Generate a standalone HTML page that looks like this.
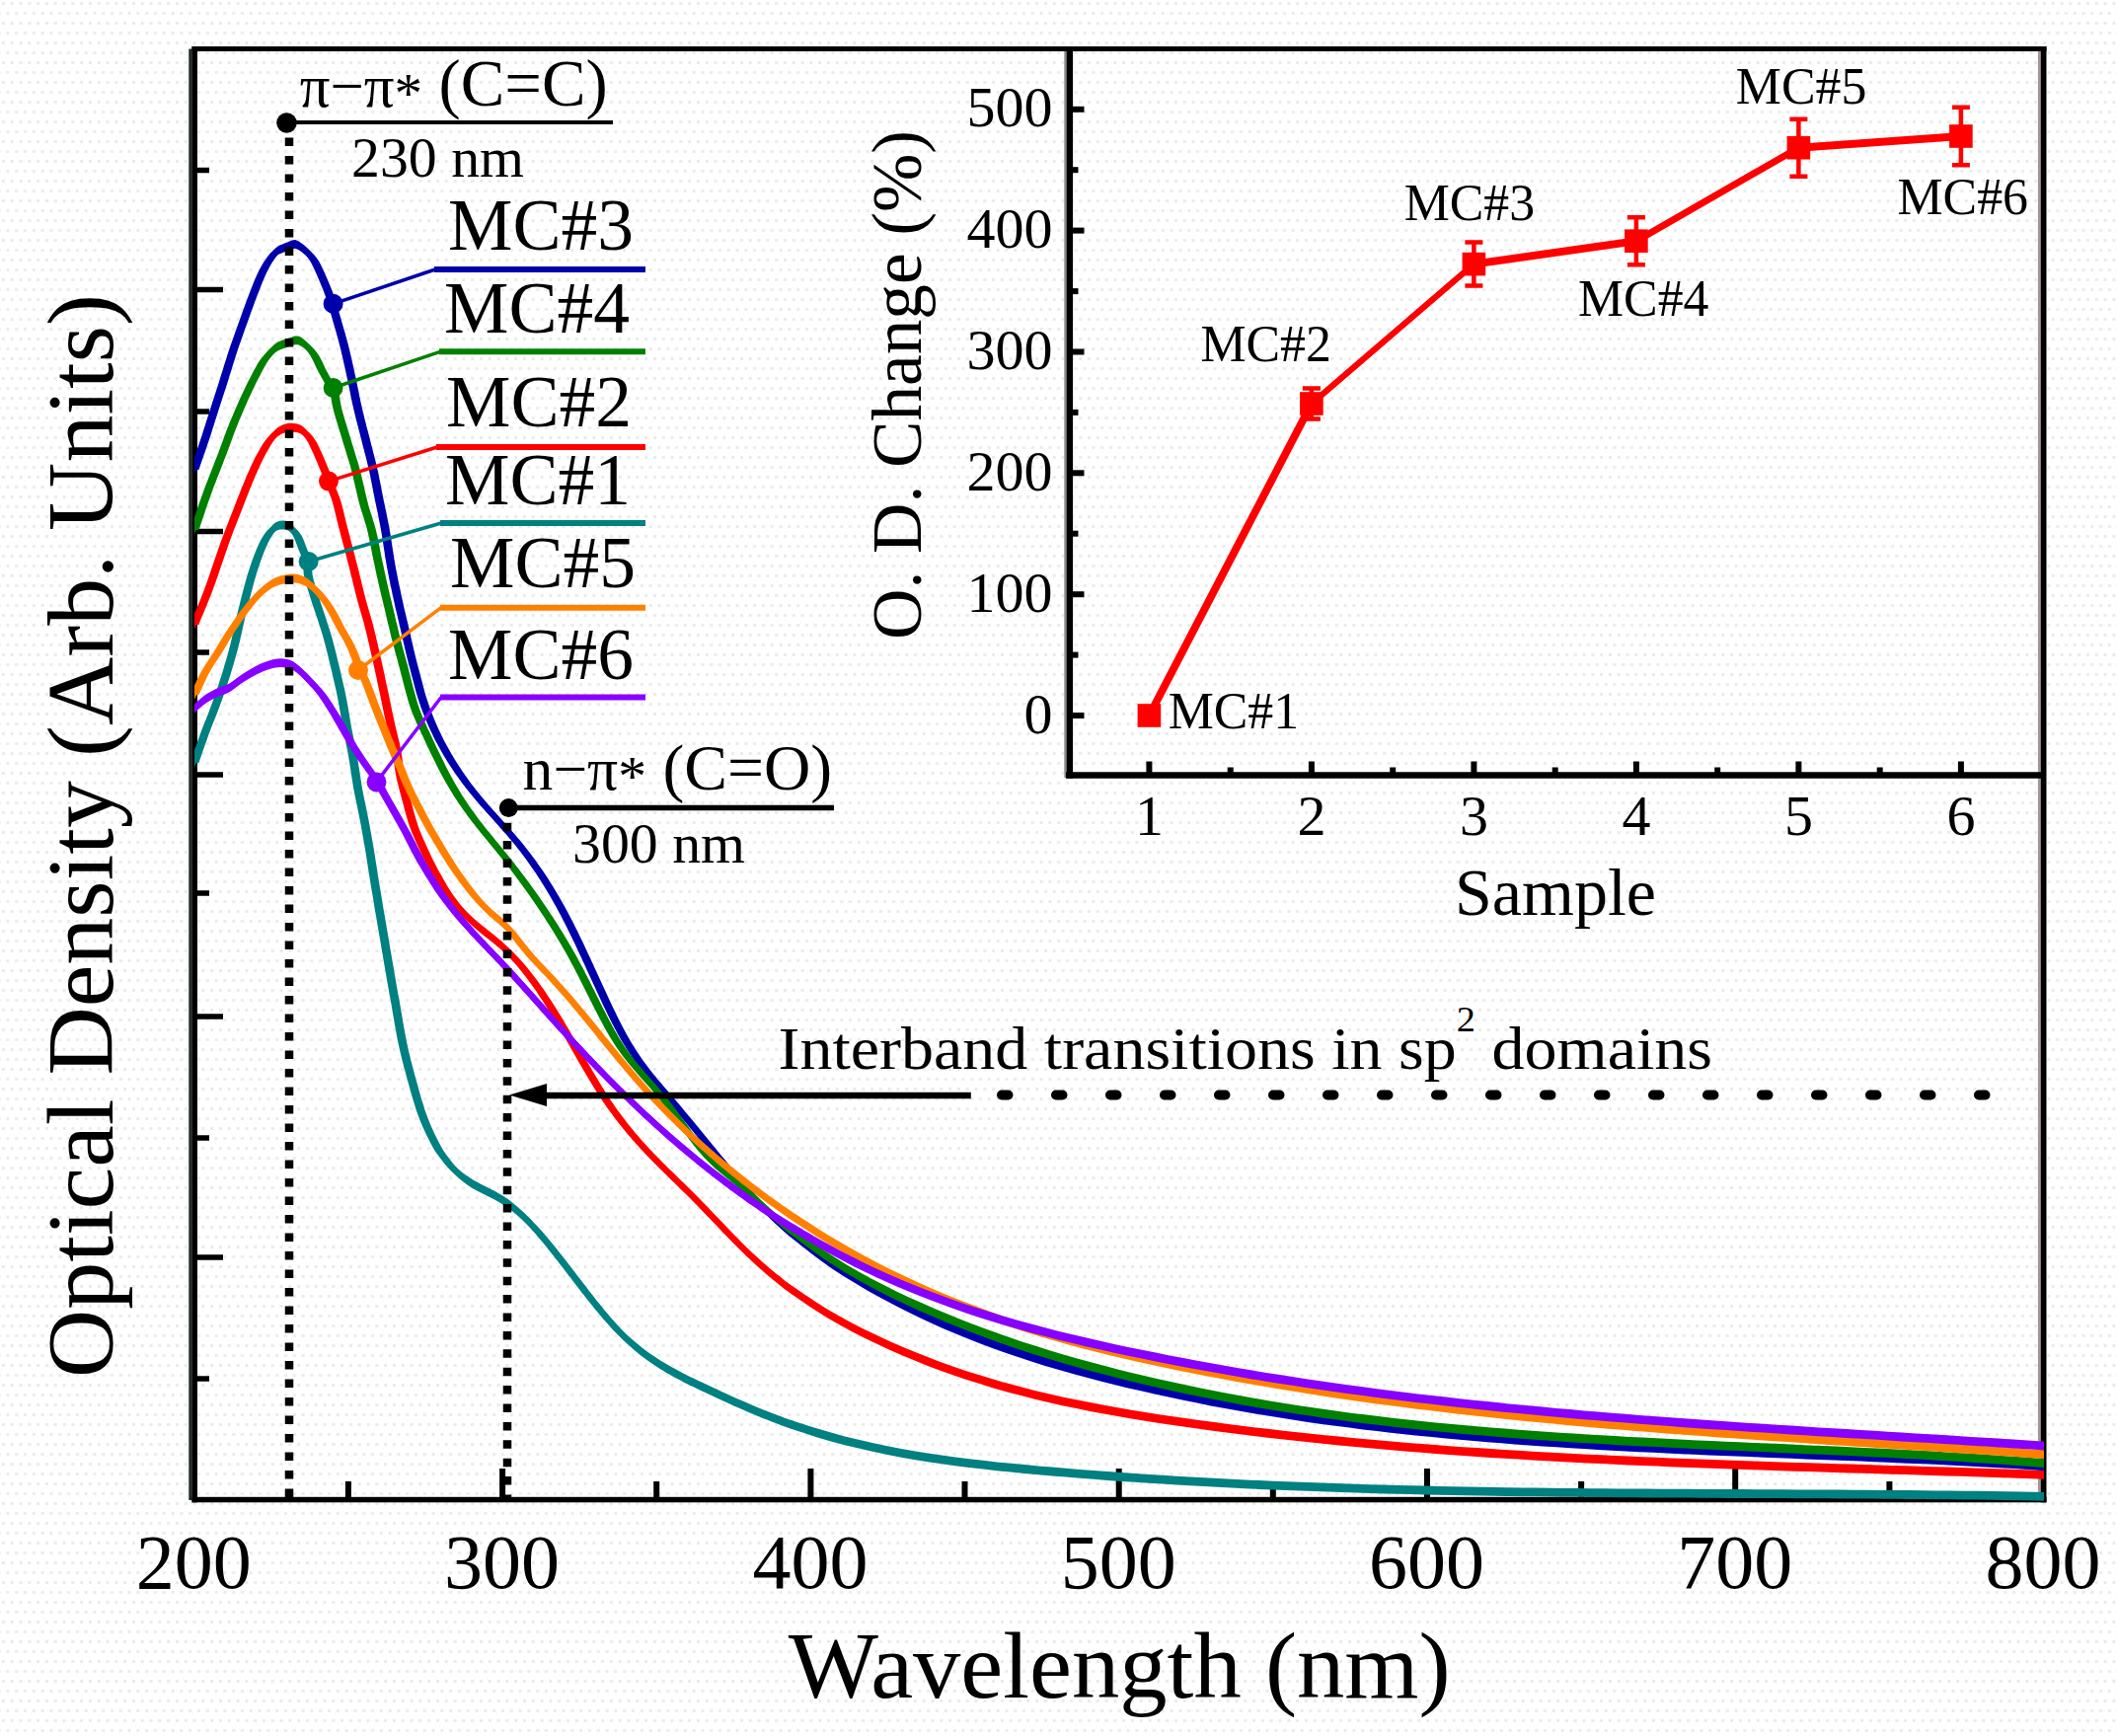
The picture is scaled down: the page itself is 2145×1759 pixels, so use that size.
<!DOCTYPE html>
<html lang="en"><head><meta charset="utf-8"><title>Optical density spectra</title>
<style>html,body{margin:0;padding:0;background:#ffffff}svg{display:block}text{font-family:"Liberation Serif","DejaVu Serif",serif;fill:#000}</style></head><body>
<svg width="2145" height="1759" viewBox="0 0 2145 1759">
<defs><pattern id="ht" width="17.6" height="20" patternUnits="userSpaceOnUse"><rect x="2" y="2" width="3" height="3" fill="#ebebeb"/><rect x="10.8" y="2" width="3" height="3" fill="#ebebeb"/><rect x="6.4" y="12" width="3" height="3" fill="#ebebeb"/><rect x="15.2" y="12" width="2.4" height="3" fill="#ebebeb"/><rect x="0" y="12" width="0.6" height="3" fill="#ebebeb"/></pattern></defs>
<rect x="0" y="0" width="2145" height="1759" fill="#ffffff"/>
<rect x="0" y="0" width="2145" height="1759" fill="url(#ht)"/>
<g stroke="#000" fill="none" stroke-linecap="butt">
<rect x="191.3" y="49.5" width="3.4" height="1470.5" fill="#222a24" stroke="none"/>
<rect x="194.5" y="47" width="5.5" height="1475.3" fill="#000" stroke="none"/>
<rect x="194.5" y="47" width="1879" height="5" fill="#000" stroke="none"/>
<rect x="194.5" y="1516.8" width="1879" height="5.5" fill="#000" stroke="none"/>
<rect x="2064.9" y="52" width="3" height="1465" fill="#a0969c" stroke="none"/>
<rect x="2067.8" y="47" width="5.7" height="1475.3" fill="#000" stroke="none"/>
<line x1="196.5" y1="293.5" x2="226.0" y2="293.5" stroke-width="5.5"/>
<line x1="196.5" y1="538.5" x2="226.0" y2="538.5" stroke-width="5.5"/>
<line x1="196.5" y1="785.0" x2="226.0" y2="785.0" stroke-width="5.5"/>
<line x1="196.5" y1="1030.0" x2="226.0" y2="1030.0" stroke-width="5.5"/>
<line x1="196.5" y1="1274.0" x2="226.0" y2="1274.0" stroke-width="5.5"/>
<line x1="196.5" y1="172.5" x2="212.0" y2="172.5" stroke-width="5.5"/>
<line x1="196.5" y1="417.0" x2="212.0" y2="417.0" stroke-width="5.5"/>
<line x1="196.5" y1="661.0" x2="212.0" y2="661.0" stroke-width="5.5"/>
<line x1="196.5" y1="905.0" x2="212.0" y2="905.0" stroke-width="5.5"/>
<line x1="196.5" y1="1153.0" x2="212.0" y2="1153.0" stroke-width="5.5"/>
<line x1="196.5" y1="1397.0" x2="212.0" y2="1397.0" stroke-width="5.5"/>
<line x1="509.1" y1="1519.0" x2="509.1" y2="1488.0" stroke-width="6"/>
<line x1="821.4" y1="1519.0" x2="821.4" y2="1488.0" stroke-width="6"/>
<line x1="1133.7" y1="1519.0" x2="1133.7" y2="1488.0" stroke-width="6"/>
<line x1="1446.0" y1="1519.0" x2="1446.0" y2="1488.0" stroke-width="6"/>
<line x1="1758.2" y1="1519.0" x2="1758.2" y2="1488.0" stroke-width="6"/>
<line x1="352.9" y1="1519.0" x2="352.9" y2="1501.0" stroke-width="6"/>
<line x1="665.2" y1="1519.0" x2="665.2" y2="1501.0" stroke-width="6"/>
<line x1="977.5" y1="1519.0" x2="977.5" y2="1501.0" stroke-width="6"/>
<line x1="1289.8" y1="1519.0" x2="1289.8" y2="1501.0" stroke-width="6"/>
<line x1="1602.1" y1="1519.0" x2="1602.1" y2="1501.0" stroke-width="6"/>
<line x1="1914.4" y1="1519.0" x2="1914.4" y2="1501.0" stroke-width="6"/>
</g>
<g stroke="#000" fill="none">
<rect x="1078.3" y="52" width="2.6" height="736" fill="#8c8c8c" stroke="none"/>
<line x1="1083.9" y1="49.5" x2="1083.9" y2="788.7" stroke-width="6.4"/>
<line x1="1080.0" y1="785.5" x2="2070.0" y2="785.5" stroke-width="6.5"/>
<line x1="1083.5" y1="725.0" x2="1098.5" y2="725.0" stroke-width="6"/>
<line x1="1083.5" y1="602.2" x2="1098.5" y2="602.2" stroke-width="6"/>
<line x1="1083.5" y1="479.3" x2="1098.5" y2="479.3" stroke-width="6"/>
<line x1="1083.5" y1="356.5" x2="1098.5" y2="356.5" stroke-width="6"/>
<line x1="1083.5" y1="233.6" x2="1098.5" y2="233.6" stroke-width="6"/>
<line x1="1083.5" y1="110.8" x2="1098.5" y2="110.8" stroke-width="6"/>
<line x1="1083.5" y1="663.6" x2="1092.5" y2="663.6" stroke-width="6"/>
<line x1="1083.5" y1="540.7" x2="1092.5" y2="540.7" stroke-width="6"/>
<line x1="1083.5" y1="417.9" x2="1092.5" y2="417.9" stroke-width="6"/>
<line x1="1083.5" y1="295.1" x2="1092.5" y2="295.1" stroke-width="6"/>
<line x1="1083.5" y1="172.2" x2="1092.5" y2="172.2" stroke-width="6"/>
<line x1="1164.4" y1="785.5" x2="1164.4" y2="771.5" stroke-width="6"/>
<line x1="1328.9" y1="785.5" x2="1328.9" y2="771.5" stroke-width="6"/>
<line x1="1493.4" y1="785.5" x2="1493.4" y2="771.5" stroke-width="6"/>
<line x1="1657.9" y1="785.5" x2="1657.9" y2="771.5" stroke-width="6"/>
<line x1="1822.4" y1="785.5" x2="1822.4" y2="771.5" stroke-width="6"/>
<line x1="1986.9" y1="785.5" x2="1986.9" y2="771.5" stroke-width="6"/>
<line x1="1246.7" y1="785.5" x2="1246.7" y2="777.5" stroke-width="6"/>
<line x1="1411.2" y1="785.5" x2="1411.2" y2="777.5" stroke-width="6"/>
<line x1="1575.7" y1="785.5" x2="1575.7" y2="777.5" stroke-width="6"/>
<line x1="1740.2" y1="785.5" x2="1740.2" y2="777.5" stroke-width="6"/>
<line x1="1904.7" y1="785.5" x2="1904.7" y2="777.5" stroke-width="6"/>
</g>
<clipPath id="cc"><rect x="197" y="52" width="1874" height="1470.3"/></clipPath>
<g clip-path="url(#cc)">
<path fill="#008080" d="M197.0 768.6 198.3 764.9 199.1 762.6 200.1 759.6 201.3 756.2 202.6 752.4 204.0 748.5 205.4 744.6 206.7 740.8 208.0 737.3 209.2 734.1 210.4 731.0 211.6 727.9 212.9 724.9 214.1 721.8 215.3 718.8 216.5 715.6 217.7 712.4 218.9 709.1 220.1 705.8 221.3 702.5 222.5 699.1 223.7 695.6 224.9 692.1 226.1 688.4 227.3 684.7 228.3 681.6 229.3 678.5 230.2 675.3 231.2 672.0 232.2 668.7 233.2 665.3 234.2 661.9 235.1 658.5 236.1 655.1 237.0 651.6 237.8 648.4 238.6 645.2 239.3 642.0 240.1 638.8 240.8 635.5 241.5 632.2 242.2 628.9 243.0 625.6 243.7 622.2 244.5 618.9 245.3 615.6 246.1 612.2 247.0 608.8 247.8 605.3 248.7 601.9 249.6 598.4 250.5 594.9 251.4 591.5 252.3 588.1 253.2 584.9 254.1 581.7 255.0 578.7 256.2 574.7 257.5 570.9 258.7 567.1 259.9 563.5 261.2 560.1 262.4 556.9 263.6 553.9 264.7 551.1 266.5 547.1 268.2 543.7 269.8 540.8 271.5 538.2 273.0 535.9 275.4 532.8 277.7 530.6 279.9 529.0 283.4 527.8 286.8 527.6 289.5 527.7 292.3 529.0 294.9 530.9 297.8 533.7 300.6 537.3 302.1 540.2 303.6 543.6 305.0 547.3 306.3 550.8 307.5 553.9 309.2 557.9 310.7 561.2 311.7 564.9 312.0 568.0 311.9 571.2 311.9 574.7 312.3 578.7 313.0 581.7 313.8 584.9 314.8 588.3 315.9 591.9 317.1 595.6 318.3 599.5 319.3 602.6 320.3 605.8 321.5 609.3 322.6 612.7 323.8 616.2 324.9 619.5 326.0 622.7 326.9 625.6 328.2 629.5 329.3 632.8 330.2 635.9 331.3 639.3 332.4 643.3 333.2 646.3 334.0 649.4 334.9 652.8 335.8 656.3 336.7 659.9 337.5 663.6 338.4 667.2 339.3 670.9 340.1 674.1 340.9 677.4 341.6 680.8 342.4 684.1 343.2 687.5 344.0 691.0 344.8 694.4 345.5 697.8 346.2 701.3 346.9 704.8 347.5 708.4 348.2 711.9 348.8 715.6 349.4 719.2 350.0 722.8 350.6 726.3 351.2 729.7 351.8 733.1 352.5 736.7 353.2 740.2 353.9 743.5 354.6 746.8 355.2 750.1 355.9 753.5 356.6 757.0 357.3 760.8 357.8 764.0 358.4 767.4 358.9 770.9 359.5 774.4 360.0 778.1 360.6 781.7 361.1 785.2 361.7 788.7 362.2 792.1 362.8 795.3 363.5 799.1 364.2 802.6 364.9 806.1 365.6 809.4 366.3 812.7 367.0 816.0 367.7 819.5 368.4 823.0 369.0 826.2 369.6 829.3 370.2 832.3 370.7 835.4 371.3 838.6 371.9 841.9 372.5 845.5 373.2 849.3 373.9 853.4 374.4 856.2 374.8 858.9 375.3 861.6 375.7 864.4 376.1 867.3 376.6 870.2 377.1 873.3 377.6 876.5 378.1 879.9 378.7 883.5 379.3 887.4 380.0 891.5 380.7 895.9 381.5 900.6 382.0 903.3 382.5 906.3 383.0 909.5 383.5 912.8 384.1 916.3 384.7 919.9 385.4 923.6 386.0 927.4 386.7 931.3 387.3 935.2 388.0 939.2 388.7 943.2 389.4 947.2 390.1 951.2 390.7 955.2 391.4 959.1 392.1 962.9 392.7 966.6 393.3 970.2 393.9 973.7 394.5 977.0 395.0 980.1 395.5 983.1 396.0 985.8 396.4 988.3 396.8 990.6 398.1 997.9 398.8 1002.0 399.2 1004.2 399.5 1005.7 399.9 1007.7 400.6 1011.6 401.1 1014.3 401.6 1017.3 402.1 1020.5 402.7 1023.9 403.3 1027.4 403.9 1031.1 404.5 1034.7 405.2 1038.4 405.9 1042.1 406.5 1045.7 407.2 1049.2 407.9 1052.5 408.7 1056.0 409.4 1059.4 410.2 1062.8 411.0 1066.2 411.8 1069.5 412.7 1072.8 413.5 1076.1 414.4 1079.4 415.3 1082.7 416.2 1086.0 417.1 1089.3 418.0 1092.7 419.0 1096.1 419.9 1099.6 420.9 1103.1 421.9 1106.5 422.9 1110.0 424.0 1113.4 425.0 1116.7 426.0 1120.0 427.1 1123.2 428.2 1126.2 429.6 1129.8 431.0 1133.4 432.5 1136.8 434.0 1140.2 435.5 1143.5 437.0 1146.5 438.5 1149.5 439.8 1152.2 441.1 1154.6 443.1 1158.4 445.0 1161.5 446.7 1164.0 448.4 1166.3 450.1 1168.7 452.4 1171.7 454.6 1174.5 456.9 1177.1 459.1 1179.5 462.1 1182.5 465.1 1185.2 468.1 1187.7 471.1 1190.0 474.1 1192.1 477.1 1194.1 480.1 1195.9 483.1 1197.6 486.1 1199.2 489.1 1200.8 492.1 1202.3 495.1 1203.8 498.1 1205.3 501.1 1206.8 504.1 1208.5 507.1 1210.2 510.1 1212.0 513.1 1214.0 516.1 1216.1 519.1 1218.4 522.1 1220.9 525.1 1223.4 528.1 1226.2 531.1 1229.0 533.4 1231.2 535.6 1233.5 537.9 1235.8 540.1 1238.2 542.4 1240.7 544.6 1243.2 546.9 1245.7 549.1 1248.3 551.4 1251.0 553.6 1253.7 555.9 1256.4 558.1 1259.2 560.4 1262.0 562.6 1264.8 564.9 1267.6 567.1 1270.5 569.4 1273.4 571.6 1276.3 573.9 1279.2 576.1 1282.1 578.4 1285.1 580.6 1288.0 582.9 1290.9 585.1 1293.9 587.4 1296.8 589.6 1299.7 591.9 1302.6 594.1 1305.5 596.4 1308.4 598.6 1311.3 600.9 1314.1 603.1 1316.9 605.4 1319.7 607.6 1322.5 609.9 1325.2 612.1 1327.9 614.4 1330.5 616.6 1333.1 618.9 1335.7 621.1 1338.1 623.4 1340.6 625.6 1343.0 627.9 1345.3 630.1 1347.6 632.4 1349.8 634.6 1351.9 636.9 1354.0 639.1 1356.0 642.1 1358.6 645.1 1361.1 648.1 1363.6 651.1 1365.9 654.1 1368.2 657.1 1370.4 660.1 1372.5 663.1 1374.5 666.1 1376.5 669.1 1378.4 672.1 1380.3 675.1 1382.1 678.1 1383.8 681.1 1385.5 684.1 1387.1 687.1 1388.8 690.1 1390.3 693.1 1391.9 696.1 1393.4 699.1 1394.9 702.1 1396.3 705.1 1397.8 708.1 1399.2 711.1 1400.6 714.1 1402.0 717.1 1403.4 720.1 1404.8 723.1 1406.2 726.1 1407.6 729.1 1409.0 732.1 1410.4 735.1 1411.8 738.1 1413.2 741.1 1414.5 744.1 1415.9 747.1 1417.2 750.1 1418.5 753.1 1419.8 756.1 1421.1 759.1 1422.4 762.1 1423.7 765.1 1425.0 768.1 1426.2 771.1 1427.4 774.1 1428.7 777.1 1429.8 780.1 1431.0 783.1 1432.2 786.1 1433.3 789.2 1434.5 792.1 1435.6 794.4 1436.5 800.0 1438.4 802.2 1439.1 804.7 1439.9 807.6 1440.9 810.7 1441.9 814.1 1443.0 817.6 1444.2 828.3 1447.6 842.0 1451.6 856.0 1455.4 870.0 1458.8 884.0 1462.0 898.0 1465.0 912.0 1467.7 926.0 1470.2 940.0 1472.4 954.0 1474.5 968.0 1476.4 982.0 1478.2 996.0 1479.8 1010.0 1481.4 1024.0 1482.8 1038.0 1484.1 1052.0 1485.4 1066.0 1486.6 1080.0 1487.8 1094.0 1488.9 1108.0 1490.0 1122.0 1491.1 1136.0 1492.1 1150.0 1493.0 1164.0 1494.0 1178.0 1494.8 1192.0 1495.7 1206.0 1496.5 1220.0 1497.3 1234.0 1498.0 1248.0 1498.7 1262.0 1499.4 1276.0 1500.1 1290.0 1500.7 1304.0 1501.3 1318.0 1501.8 1332.0 1502.3 1346.0 1502.8 1360.0 1503.3 1374.0 1503.8 1388.0 1504.2 1402.0 1504.6 1416.0 1504.9 1430.0 1505.3 1444.0 1505.6 1458.0 1505.9 1472.0 1506.2 1486.0 1506.5 1500.0 1506.7 1514.0 1507.0 1528.0 1507.2 1542.0 1507.4 1556.0 1507.5 1570.0 1507.7 1584.0 1507.9 1598.0 1508.0 1612.0 1508.2 1626.0 1508.3 1640.0 1508.4 1654.0 1508.5 1668.0 1508.6 1682.0 1508.7 1696.0 1508.8 1710.0 1508.8 1724.0 1508.9 1738.0 1509.0 1752.0 1509.1 1766.0 1509.1 1780.0 1509.2 1794.0 1509.2 1808.0 1509.3 1822.0 1509.4 1836.0 1509.5 1850.0 1509.5 1864.0 1509.6 1878.0 1509.7 1892.0 1509.8 1906.0 1509.9 1920.0 1510.0 1934.0 1510.1 1948.0 1510.2 1962.0 1510.4 1976.0 1510.5 1990.0 1510.7 2004.0 1510.8 2018.0 1511.0 2032.4 1511.2 2047.7 1511.5 2060.0 1511.7 2071.0 1511.9 2071.0 1520.7 2060.0 1520.5 2047.7 1520.3 2032.4 1520.0 2018.0 1519.8 2004.0 1519.6 1990.0 1519.5 1976.0 1519.3 1962.0 1519.2 1948.0 1519.0 1934.0 1518.9 1920.0 1518.8 1906.0 1518.7 1892.0 1518.6 1878.0 1518.5 1864.0 1518.4 1850.0 1518.3 1836.0 1518.3 1822.0 1518.2 1808.0 1518.1 1794.0 1518.0 1780.0 1518.0 1766.0 1517.9 1752.0 1517.9 1738.0 1517.8 1724.0 1517.7 1710.0 1517.6 1696.0 1517.6 1682.0 1517.5 1668.0 1517.4 1654.0 1517.3 1640.0 1517.2 1626.0 1517.1 1612.0 1517.0 1598.0 1516.8 1584.0 1516.7 1570.0 1516.5 1556.0 1516.3 1542.0 1516.2 1528.0 1516.0 1514.0 1515.8 1500.0 1515.5 1486.0 1515.3 1472.0 1515.0 1458.0 1514.7 1444.0 1514.4 1430.0 1514.1 1416.0 1513.7 1402.0 1513.4 1388.0 1513.0 1374.0 1512.6 1360.0 1512.1 1346.0 1511.6 1332.0 1511.1 1318.0 1510.6 1304.0 1510.1 1290.0 1509.5 1276.0 1508.9 1262.0 1508.2 1248.0 1507.5 1234.0 1506.8 1220.0 1506.1 1206.0 1505.3 1192.0 1504.5 1178.0 1503.6 1164.0 1502.8 1150.0 1501.8 1136.0 1500.9 1122.0 1499.9 1108.0 1498.8 1094.0 1497.7 1080.0 1496.6 1066.0 1495.4 1052.0 1494.2 1038.0 1492.9 1024.0 1491.6 1010.0 1490.2 996.0 1488.6 982.0 1487.0 968.0 1485.2 954.0 1483.3 940.0 1481.2 926.0 1479.0 912.0 1476.5 898.0 1473.8 884.0 1470.8 870.0 1467.6 856.0 1464.2 842.0 1460.4 828.3 1456.4 817.6 1453.0 814.1 1451.8 810.7 1450.7 807.6 1449.7 804.7 1448.7 802.2 1447.9 800.0 1447.2 794.4 1445.3 792.1 1444.4 789.2 1443.3 786.1 1442.1 783.1 1441.0 780.1 1439.8 777.1 1438.6 774.1 1437.5 771.1 1436.2 768.1 1435.0 765.1 1433.8 762.1 1432.5 759.1 1431.2 756.1 1429.9 753.1 1428.6 750.1 1427.3 747.1 1426.0 744.1 1424.7 741.1 1423.3 738.1 1422.0 735.1 1420.6 732.1 1419.2 729.1 1417.8 726.1 1416.4 723.1 1415.0 720.1 1413.6 717.1 1412.2 714.1 1410.8 711.1 1409.4 708.1 1408.0 705.1 1406.6 702.1 1405.1 699.1 1403.7 696.1 1402.2 693.1 1400.7 690.1 1399.1 687.1 1397.6 684.1 1395.9 681.1 1394.3 678.1 1392.6 675.1 1390.9 672.1 1389.1 669.1 1387.2 666.1 1385.3 663.1 1383.3 660.1 1381.3 657.1 1379.2 654.1 1377.0 651.1 1374.7 648.1 1372.4 645.1 1369.9 642.1 1367.4 639.1 1364.8 636.9 1362.8 634.6 1360.7 632.4 1358.6 630.1 1356.4 627.9 1354.1 625.6 1351.8 623.4 1349.4 621.1 1346.9 618.9 1344.5 616.6 1341.9 614.4 1339.3 612.1 1336.7 609.9 1334.0 607.6 1331.3 605.4 1328.5 603.1 1325.7 600.9 1322.9 598.6 1320.1 596.4 1317.2 594.1 1314.3 591.9 1311.4 589.6 1308.5 587.4 1305.6 585.1 1302.7 582.9 1299.7 580.6 1296.8 578.4 1293.9 576.1 1290.9 573.9 1288.0 571.6 1285.1 569.4 1282.2 567.1 1279.3 564.9 1276.4 562.6 1273.6 560.4 1270.8 558.1 1268.0 555.9 1265.2 553.6 1262.5 551.4 1259.8 549.1 1257.1 546.9 1254.5 544.6 1252.0 542.4 1249.5 540.1 1247.0 537.9 1244.6 535.6 1242.3 533.4 1240.0 531.1 1237.8 528.1 1235.0 525.1 1232.2 522.1 1229.7 519.1 1227.2 516.1 1224.9 513.1 1222.8 510.1 1220.8 507.1 1219.0 504.1 1217.3 501.1 1215.6 498.1 1214.1 495.1 1212.6 492.1 1211.1 489.1 1209.6 486.1 1208.0 483.1 1206.4 480.1 1204.7 477.1 1202.9 474.1 1200.9 471.1 1198.8 468.1 1196.5 465.1 1194.0 462.1 1191.3 459.1 1188.3 456.9 1185.9 454.6 1183.3 452.4 1180.5 450.1 1177.5 448.4 1175.1 446.7 1172.8 445.0 1170.3 443.1 1167.2 441.1 1163.4 439.8 1161.0 438.5 1158.3 437.0 1155.3 435.5 1152.3 434.0 1149.0 432.5 1145.6 431.0 1142.2 429.6 1138.6 428.2 1135.0 427.1 1132.0 426.0 1128.8 425.0 1125.5 424.0 1122.2 422.9 1118.8 421.9 1115.3 420.9 1111.9 419.9 1108.4 419.0 1104.9 418.0 1101.5 417.1 1098.1 416.2 1094.8 415.3 1091.5 414.4 1088.2 413.5 1084.9 412.7 1081.6 411.8 1078.3 411.0 1075.0 410.2 1071.6 409.4 1068.2 408.7 1064.8 407.9 1061.3 407.2 1058.0 406.5 1054.5 405.9 1050.9 405.2 1047.2 404.5 1043.5 403.9 1039.9 403.3 1036.2 402.7 1032.7 402.1 1029.3 401.6 1026.1 401.1 1023.1 400.6 1020.4 399.9 1016.5 399.5 1014.5 399.2 1013.0 398.8 1010.8 398.1 1006.7 396.8 999.4 396.4 997.1 396.0 994.6 395.5 991.9 395.0 988.9 394.5 985.8 393.9 982.5 393.3 979.0 392.7 975.4 392.1 971.7 391.4 967.9 390.7 964.0 390.1 960.0 389.4 956.0 388.7 952.0 388.0 948.0 387.3 944.0 386.7 940.1 386.0 936.2 385.4 932.4 384.7 928.7 384.1 925.1 383.5 921.6 383.0 918.3 382.5 915.1 382.0 912.1 381.5 909.4 380.7 904.7 380.0 900.3 379.3 896.2 378.7 892.3 378.1 888.7 377.6 885.3 377.1 882.1 376.6 879.0 376.1 876.1 375.7 873.2 375.3 870.4 374.8 867.7 374.4 865.0 373.9 862.2 373.2 858.1 372.5 854.3 371.9 850.7 371.3 847.4 370.7 844.2 370.2 841.1 369.6 838.1 369.0 835.0 368.4 831.8 367.7 828.3 367.0 824.8 366.3 821.5 365.6 818.2 364.9 814.9 364.2 811.4 363.5 807.9 362.8 804.1 362.2 800.9 361.7 797.5 361.1 794.0 360.6 790.5 360.0 786.9 359.5 783.2 358.9 779.7 358.4 776.2 357.8 772.8 357.3 769.6 356.6 765.8 355.9 762.3 355.2 758.9 354.6 755.6 353.9 752.3 353.2 749.0 352.5 745.5 351.8 741.9 351.2 738.5 350.6 735.1 350.0 731.6 349.4 728.0 348.8 724.4 348.2 720.7 347.5 717.2 346.9 713.6 346.2 710.1 345.5 706.6 344.8 703.2 344.0 699.8 343.2 696.3 342.4 692.9 341.6 689.6 340.9 686.2 340.1 682.9 339.3 679.7 338.4 676.0 337.5 672.4 336.7 668.7 335.8 665.1 334.9 661.6 334.0 658.2 333.2 655.1 332.4 652.1 331.3 648.1 330.2 644.7 329.3 641.6 328.2 638.3 326.9 634.4 326.0 631.5 324.9 628.3 323.8 625.0 322.6 621.5 321.5 618.1 320.3 614.6 319.3 611.4 318.3 608.3 317.1 604.4 315.9 600.7 314.8 597.1 313.8 593.7 313.0 590.5 312.3 587.5 311.9 583.5 311.9 580.0 312.0 576.8 311.7 573.7 310.7 570.0 309.2 566.7 307.5 562.7 306.3 559.6 305.0 556.1 303.6 552.4 302.1 549.0 300.6 546.1 297.8 542.5 294.9 539.7 292.3 537.8 289.5 536.5 286.8 536.4 283.4 536.6 279.9 537.8 277.7 539.4 275.4 541.6 273.0 544.7 271.5 547.0 269.8 549.6 268.2 552.5 266.5 555.9 264.7 559.9 263.6 562.7 262.4 565.7 261.2 568.9 259.9 572.3 258.7 575.9 257.5 579.7 256.2 583.5 255.0 587.5 254.1 590.5 253.2 593.7 252.3 596.9 251.4 600.3 250.5 603.7 249.6 607.2 248.7 610.7 247.8 614.1 247.0 617.6 246.1 621.0 245.3 624.4 244.5 627.7 243.7 631.0 243.0 634.4 242.2 637.7 241.5 641.0 240.8 644.3 240.1 647.6 239.3 650.8 238.6 654.0 237.8 657.2 237.0 660.4 236.1 663.9 235.1 667.3 234.2 670.7 233.2 674.1 232.2 677.5 231.2 680.8 230.2 684.1 229.3 687.3 228.3 690.4 227.3 693.5 226.1 697.2 224.9 700.9 223.7 704.4 222.5 707.9 221.3 711.3 220.1 714.6 218.9 717.9 217.7 721.2 216.5 724.4 215.3 727.6 214.1 730.6 212.9 733.7 211.6 736.7 210.4 739.8 209.2 742.9 208.0 746.1 206.7 749.6 205.4 753.4 204.0 757.3 202.6 761.2 201.3 765.0 200.1 768.4 199.1 771.4 198.3 773.7 197.0 777.4Z"/>
<path fill="#008080" d="M192.6 773.0 193.9 769.3 194.7 767.0 195.7 764.0 196.9 760.6 198.2 756.8 199.6 752.9 201.0 749.0 202.3 745.2 203.6 741.7 204.8 738.5 206.0 735.4 207.2 732.3 208.5 729.3 209.7 726.2 210.9 723.2 212.1 720.0 213.3 716.8 214.5 713.5 215.7 710.2 216.9 706.9 218.1 703.5 219.3 700.0 220.5 696.5 221.7 692.8 222.9 689.1 223.9 686.0 224.9 682.9 225.8 679.7 226.8 676.4 227.8 673.1 228.8 669.7 229.8 666.3 230.7 662.9 231.7 659.5 232.6 656.0 233.4 652.8 234.2 649.6 234.9 646.4 235.7 643.2 236.4 639.9 237.1 636.6 237.8 633.3 238.6 630.0 239.3 626.6 240.1 623.3 240.9 620.0 241.7 616.6 242.6 613.2 243.4 609.7 244.3 606.3 245.2 602.8 246.1 599.3 247.0 595.9 247.9 592.5 248.8 589.3 249.7 586.1 250.6 583.1 251.8 579.1 253.1 575.3 254.3 571.5 255.5 567.9 256.8 564.5 258.0 561.3 259.2 558.3 260.3 555.5 262.1 551.5 263.8 548.1 265.4 545.2 267.1 542.6 268.6 540.3 271.0 537.2 273.3 535.0 275.5 533.4 279.0 532.2 282.4 532.0 291.2 532.0 287.8 532.2 284.3 533.4 282.1 535.0 279.8 537.2 277.4 540.3 275.9 542.6 274.2 545.2 272.6 548.1 270.9 551.5 269.1 555.5 268.0 558.3 266.8 561.3 265.6 564.5 264.3 567.9 263.1 571.5 261.9 575.3 260.6 579.1 259.4 583.1 258.5 586.1 257.6 589.3 256.7 592.5 255.8 595.9 254.9 599.3 254.0 602.8 253.1 606.3 252.2 609.7 251.4 613.2 250.5 616.6 249.7 620.0 248.9 623.3 248.1 626.6 247.4 630.0 246.6 633.3 245.9 636.6 245.2 639.9 244.5 643.2 243.7 646.4 243.0 649.6 242.2 652.8 241.4 656.0 240.5 659.5 239.5 662.9 238.6 666.3 237.6 669.7 236.6 673.1 235.6 676.4 234.6 679.7 233.7 682.9 232.7 686.0 231.7 689.1 230.5 692.8 229.3 696.5 228.1 700.0 226.9 703.5 225.7 706.9 224.5 710.2 223.3 713.5 222.1 716.8 220.9 720.0 219.7 723.2 218.5 726.2 217.3 729.3 216.0 732.3 214.8 735.4 213.6 738.5 212.4 741.7 211.1 745.2 209.8 749.0 208.4 752.9 207.0 756.8 205.7 760.6 204.5 764.0 203.5 767.0 202.7 769.3 201.4 773.0Z"/>
<path fill="#008080" d="M282.4 532.0 285.1 532.1 287.9 533.4 290.5 535.3 293.4 538.1 296.2 541.7 297.7 544.6 299.2 548.0 300.6 551.7 301.9 555.2 303.1 558.3 304.8 562.3 306.3 565.6 307.3 569.3 307.6 572.4 307.5 575.6 307.5 579.1 307.9 583.1 308.6 586.1 309.4 589.3 310.4 592.7 311.5 596.3 312.7 600.0 313.9 603.9 314.9 607.0 315.9 610.2 317.1 613.7 318.2 617.1 319.4 620.6 320.5 623.9 321.6 627.1 322.5 630.0 323.8 633.9 324.9 637.2 325.8 640.3 326.9 643.7 328.0 647.7 328.8 650.7 329.6 653.8 330.5 657.2 331.4 660.7 332.3 664.3 333.1 668.0 334.0 671.6 334.9 675.3 335.7 678.5 336.5 681.8 337.2 685.2 338.0 688.5 338.8 691.9 339.6 695.4 340.4 698.8 341.1 702.2 341.8 705.7 342.5 709.2 343.1 712.8 343.8 716.3 344.4 720.0 345.0 723.6 345.6 727.2 346.2 730.7 346.8 734.1 347.4 737.5 348.1 741.1 348.8 744.6 349.5 747.9 350.2 751.2 350.8 754.5 351.5 757.9 352.2 761.4 352.9 765.2 353.4 768.4 354.0 771.8 354.5 775.3 355.1 778.8 355.6 782.5 356.2 786.1 356.7 789.6 357.3 793.1 357.8 796.5 358.4 799.7 359.1 803.5 359.8 807.0 360.5 810.5 361.2 813.8 361.9 817.1 362.6 820.4 363.3 823.9 364.0 827.4 364.6 830.6 365.2 833.7 365.8 836.7 366.3 839.8 366.9 843.0 367.5 846.3 368.1 849.9 368.8 853.7 369.5 857.8 370.0 860.6 370.4 863.3 370.9 866.0 371.3 868.8 371.7 871.7 372.2 874.6 372.7 877.7 373.2 880.9 373.7 884.3 374.3 887.9 374.9 891.8 375.6 895.9 376.3 900.3 377.1 905.0 377.6 907.7 378.1 910.7 378.6 913.9 379.1 917.2 379.7 920.7 380.3 924.3 381.0 928.0 381.6 931.8 382.3 935.7 382.9 939.6 383.6 943.6 384.3 947.6 385.0 951.6 385.7 955.6 386.3 959.6 387.0 963.5 387.7 967.3 388.3 971.0 388.9 974.6 389.5 978.1 390.1 981.4 390.6 984.5 391.1 987.5 391.6 990.2 392.0 992.7 392.4 995.0 393.7 1002.3 394.4 1006.4 394.8 1008.6 395.1 1010.1 395.5 1012.1 396.2 1016.0 396.7 1018.7 397.2 1021.7 397.7 1024.9 398.3 1028.3 398.9 1031.8 399.5 1035.5 400.1 1039.1 400.8 1042.8 401.5 1046.5 402.1 1050.1 402.8 1053.6 403.5 1056.9 404.3 1060.4 405.0 1063.8 405.8 1067.2 406.6 1070.6 407.4 1073.9 408.3 1077.2 409.1 1080.5 410.0 1083.8 410.9 1087.1 411.8 1090.4 412.7 1093.7 413.6 1097.1 414.6 1100.5 415.5 1104.0 416.5 1107.5 417.5 1110.9 418.5 1114.4 419.6 1117.8 420.6 1121.1 421.6 1124.4 422.7 1127.6 423.8 1130.6 425.2 1134.2 426.6 1137.8 428.1 1141.2 429.6 1144.6 431.1 1147.9 432.6 1150.9 434.1 1153.9 435.4 1156.6 436.7 1159.0 438.7 1162.8 440.6 1165.9 442.3 1168.4 444.0 1170.7 445.7 1173.1 448.0 1176.1 450.2 1178.9 452.5 1181.5 454.7 1183.9 457.7 1186.9 460.7 1189.6 463.7 1192.1 466.7 1194.4 469.7 1196.5 472.7 1198.5 475.7 1200.3 478.7 1202.0 481.7 1203.6 484.7 1205.2 487.7 1206.7 490.7 1208.2 493.7 1209.7 496.7 1211.2 499.7 1212.9 502.7 1214.6 505.7 1216.4 508.7 1218.4 511.7 1220.5 514.7 1222.8 517.7 1225.3 520.7 1227.8 523.7 1230.6 526.7 1233.4 529.0 1235.6 531.2 1237.9 533.5 1240.2 535.7 1242.6 538.0 1245.1 540.2 1247.6 542.5 1250.1 544.7 1252.7 547.0 1255.4 549.2 1258.1 551.5 1260.8 553.7 1263.6 556.0 1266.4 558.2 1269.2 560.5 1272.0 562.7 1274.9 565.0 1277.8 567.2 1280.7 569.5 1283.6 571.7 1286.5 574.0 1289.5 576.2 1292.4 578.5 1295.3 580.7 1298.3 583.0 1301.2 585.2 1304.1 587.5 1307.0 589.7 1309.9 592.0 1312.8 594.2 1315.7 596.5 1318.5 598.7 1321.3 601.0 1324.1 603.2 1326.9 605.5 1329.6 607.7 1332.3 610.0 1334.9 612.2 1337.5 614.5 1340.1 616.7 1342.5 619.0 1345.0 621.2 1347.4 623.5 1349.7 625.7 1352.0 628.0 1354.2 630.2 1356.3 632.5 1358.4 634.7 1360.4 637.7 1363.0 640.7 1365.5 643.7 1368.0 646.7 1370.3 649.7 1372.6 652.7 1374.8 655.7 1376.9 658.7 1378.9 661.7 1380.9 664.7 1382.8 667.7 1384.7 670.7 1386.5 673.7 1388.2 676.7 1389.9 679.7 1391.5 682.7 1393.2 685.7 1394.7 688.7 1396.3 691.7 1397.8 694.7 1399.3 697.7 1400.7 700.7 1402.2 703.7 1403.6 706.7 1405.0 709.7 1406.4 712.7 1407.8 715.7 1409.2 718.7 1410.6 721.7 1412.0 724.7 1413.4 727.7 1414.8 730.7 1416.2 733.7 1417.6 736.7 1418.9 739.7 1420.3 742.7 1421.6 745.7 1422.9 748.7 1424.2 751.7 1425.5 754.7 1426.8 757.7 1428.1 760.7 1429.4 763.7 1430.6 766.7 1431.8 769.7 1433.1 772.7 1434.2 775.7 1435.4 778.7 1436.6 781.7 1437.7 784.8 1438.9 787.7 1440.0 790.0 1440.9 795.6 1442.8 797.8 1443.5 800.3 1444.3 803.2 1445.3 806.3 1446.3 809.7 1447.4 813.2 1448.6 823.9 1452.0 837.6 1456.0 851.6 1459.8 865.6 1463.2 879.6 1466.4 893.6 1469.4 907.6 1472.1 921.6 1474.6 935.6 1476.8 949.6 1478.9 963.6 1480.8 977.6 1482.6 991.6 1484.2 1005.6 1485.8 1019.6 1487.2 1033.6 1488.5 1047.6 1489.8 1061.6 1491.0 1075.6 1492.2 1089.6 1493.3 1103.6 1494.4 1117.6 1495.5 1131.6 1496.5 1145.6 1497.4 1159.6 1498.4 1173.6 1499.2 1187.6 1500.1 1201.6 1500.9 1215.6 1501.7 1229.6 1502.4 1243.6 1503.1 1257.6 1503.8 1271.6 1504.5 1285.6 1505.1 1299.6 1505.7 1313.6 1506.2 1327.6 1506.7 1341.6 1507.2 1355.6 1507.7 1369.6 1508.2 1383.6 1508.6 1397.6 1509.0 1411.6 1509.3 1425.6 1509.7 1439.6 1510.0 1453.6 1510.3 1467.6 1510.6 1481.6 1510.9 1495.6 1511.1 1509.6 1511.4 1523.6 1511.6 1537.6 1511.8 1551.6 1511.9 1565.6 1512.1 1579.6 1512.3 1593.6 1512.4 1607.6 1512.6 1621.6 1512.7 1635.6 1512.8 1649.6 1512.9 1663.6 1513.0 1677.6 1513.1 1691.6 1513.2 1705.6 1513.2 1719.6 1513.3 1733.6 1513.4 1747.6 1513.5 1761.6 1513.5 1775.6 1513.6 1789.6 1513.6 1803.6 1513.7 1817.6 1513.8 1831.6 1513.9 1845.6 1513.9 1859.6 1514.0 1873.6 1514.1 1887.6 1514.2 1901.6 1514.3 1915.6 1514.4 1929.6 1514.5 1943.6 1514.6 1957.6 1514.8 1971.6 1514.9 1985.6 1515.1 1999.6 1515.2 2013.6 1515.4 2028.0 1515.6 2043.3 1515.9 2055.6 1516.1 2066.6 1516.3 2075.4 1516.3 2064.4 1516.1 2052.1 1515.9 2036.8 1515.6 2022.4 1515.4 2008.4 1515.2 1994.4 1515.1 1980.4 1514.9 1966.4 1514.8 1952.4 1514.6 1938.4 1514.5 1924.4 1514.4 1910.4 1514.3 1896.4 1514.2 1882.4 1514.1 1868.4 1514.0 1854.4 1513.9 1840.4 1513.9 1826.4 1513.8 1812.4 1513.7 1798.4 1513.6 1784.4 1513.6 1770.4 1513.5 1756.4 1513.5 1742.4 1513.4 1728.4 1513.3 1714.4 1513.2 1700.4 1513.2 1686.4 1513.1 1672.4 1513.0 1658.4 1512.9 1644.4 1512.8 1630.4 1512.7 1616.4 1512.6 1602.4 1512.4 1588.4 1512.3 1574.4 1512.1 1560.4 1511.9 1546.4 1511.8 1532.4 1511.6 1518.4 1511.4 1504.4 1511.1 1490.4 1510.9 1476.4 1510.6 1462.4 1510.3 1448.4 1510.0 1434.4 1509.7 1420.4 1509.3 1406.4 1509.0 1392.4 1508.6 1378.4 1508.2 1364.4 1507.7 1350.4 1507.2 1336.4 1506.7 1322.4 1506.2 1308.4 1505.7 1294.4 1505.1 1280.4 1504.5 1266.4 1503.8 1252.4 1503.1 1238.4 1502.4 1224.4 1501.7 1210.4 1500.9 1196.4 1500.1 1182.4 1499.2 1168.4 1498.4 1154.4 1497.4 1140.4 1496.5 1126.4 1495.5 1112.4 1494.4 1098.4 1493.3 1084.4 1492.2 1070.4 1491.0 1056.4 1489.8 1042.4 1488.5 1028.4 1487.2 1014.4 1485.8 1000.4 1484.2 986.4 1482.6 972.4 1480.8 958.4 1478.9 944.4 1476.8 930.4 1474.6 916.4 1472.1 902.4 1469.4 888.4 1466.4 874.4 1463.2 860.4 1459.8 846.4 1456.0 832.7 1452.0 822.0 1448.6 818.5 1447.4 815.1 1446.3 812.0 1445.3 809.1 1444.3 806.6 1443.5 804.4 1442.8 798.8 1440.9 796.5 1440.0 793.6 1438.9 790.5 1437.7 787.5 1436.6 784.5 1435.4 781.5 1434.2 778.5 1433.1 775.5 1431.8 772.5 1430.6 769.5 1429.4 766.5 1428.1 763.5 1426.8 760.5 1425.5 757.5 1424.2 754.5 1422.9 751.5 1421.6 748.5 1420.3 745.5 1418.9 742.5 1417.6 739.5 1416.2 736.5 1414.8 733.5 1413.4 730.5 1412.0 727.5 1410.6 724.5 1409.2 721.5 1407.8 718.5 1406.4 715.5 1405.0 712.5 1403.6 709.5 1402.2 706.5 1400.7 703.5 1399.3 700.5 1397.8 697.5 1396.3 694.5 1394.7 691.5 1393.2 688.5 1391.5 685.5 1389.9 682.5 1388.2 679.5 1386.5 676.5 1384.7 673.5 1382.8 670.5 1380.9 667.5 1378.9 664.5 1376.9 661.5 1374.8 658.5 1372.6 655.5 1370.3 652.5 1368.0 649.5 1365.5 646.5 1363.0 643.5 1360.4 641.2 1358.4 639.0 1356.3 636.8 1354.2 634.5 1352.0 632.2 1349.7 630.0 1347.4 627.8 1345.0 625.5 1342.5 623.2 1340.1 621.0 1337.5 618.8 1334.9 616.5 1332.3 614.2 1329.6 612.0 1326.9 609.8 1324.1 607.5 1321.3 605.2 1318.5 603.0 1315.7 600.8 1312.8 598.5 1309.9 596.2 1307.0 594.0 1304.1 591.8 1301.2 589.5 1298.3 587.2 1295.3 585.0 1292.4 582.8 1289.5 580.5 1286.5 578.2 1283.6 576.0 1280.7 573.8 1277.8 571.5 1274.9 569.2 1272.0 567.0 1269.2 564.8 1266.4 562.5 1263.6 560.2 1260.8 558.0 1258.1 555.8 1255.4 553.5 1252.7 551.2 1250.1 549.0 1247.6 546.8 1245.1 544.5 1242.6 542.2 1240.2 540.0 1237.9 537.8 1235.6 535.5 1233.4 532.5 1230.6 529.5 1227.8 526.5 1225.3 523.5 1222.8 520.5 1220.5 517.5 1218.4 514.5 1216.4 511.5 1214.6 508.5 1212.9 505.5 1211.2 502.5 1209.7 499.5 1208.2 496.5 1206.7 493.5 1205.2 490.5 1203.6 487.5 1202.0 484.5 1200.3 481.5 1198.5 478.5 1196.5 475.5 1194.4 472.5 1192.1 469.5 1189.6 466.5 1186.9 463.5 1183.9 461.2 1181.5 459.0 1178.9 456.8 1176.1 454.5 1173.1 452.8 1170.7 451.1 1168.4 449.4 1165.9 447.5 1162.8 445.5 1159.0 444.2 1156.6 442.9 1153.9 441.4 1150.9 439.9 1147.9 438.4 1144.6 436.9 1141.2 435.4 1137.8 434.0 1134.2 432.6 1130.6 431.5 1127.6 430.4 1124.4 429.4 1121.1 428.4 1117.8 427.3 1114.4 426.3 1110.9 425.3 1107.5 424.3 1104.0 423.4 1100.5 422.4 1097.1 421.5 1093.7 420.6 1090.4 419.7 1087.1 418.8 1083.8 417.9 1080.5 417.1 1077.2 416.2 1073.9 415.4 1070.6 414.6 1067.2 413.8 1063.8 413.1 1060.4 412.3 1056.9 411.6 1053.6 410.9 1050.1 410.3 1046.5 409.6 1042.8 408.9 1039.1 408.3 1035.5 407.7 1031.8 407.1 1028.3 406.5 1024.9 406.0 1021.7 405.5 1018.7 405.0 1016.0 404.3 1012.1 403.9 1010.1 403.6 1008.6 403.2 1006.4 402.5 1002.3 401.2 995.0 400.8 992.7 400.4 990.2 399.9 987.5 399.4 984.5 398.9 981.4 398.3 978.1 397.7 974.6 397.1 971.0 396.5 967.3 395.8 963.5 395.1 959.6 394.5 955.6 393.8 951.6 393.1 947.6 392.4 943.6 391.7 939.6 391.1 935.7 390.4 931.8 389.8 928.0 389.1 924.3 388.5 920.7 387.9 917.2 387.4 913.9 386.9 910.7 386.4 907.7 385.9 905.0 385.1 900.3 384.4 895.9 383.7 891.8 383.1 887.9 382.5 884.3 382.0 880.9 381.5 877.7 381.0 874.6 380.5 871.7 380.1 868.8 379.7 866.0 379.2 863.3 378.8 860.6 378.3 857.8 377.6 853.7 376.9 849.9 376.3 846.3 375.7 843.0 375.1 839.8 374.6 836.7 374.0 833.7 373.4 830.6 372.8 827.4 372.1 823.9 371.4 820.4 370.7 817.1 370.0 813.8 369.3 810.5 368.6 807.0 367.9 803.5 367.2 799.7 366.6 796.5 366.1 793.1 365.5 789.6 365.0 786.1 364.4 782.5 363.9 778.8 363.3 775.3 362.8 771.8 362.2 768.4 361.7 765.2 361.0 761.4 360.3 757.9 359.6 754.5 359.0 751.2 358.3 747.9 357.6 744.6 356.9 741.1 356.2 737.5 355.6 734.1 355.0 730.7 354.4 727.2 353.8 723.6 353.2 720.0 352.6 716.3 351.9 712.8 351.3 709.2 350.6 705.7 349.9 702.2 349.2 698.8 348.4 695.4 347.6 691.9 346.8 688.5 346.0 685.2 345.3 681.8 344.5 678.5 343.7 675.3 342.8 671.6 341.9 668.0 341.1 664.3 340.2 660.7 339.3 657.2 338.4 653.8 337.6 650.7 336.8 647.7 335.7 643.7 334.6 640.3 333.7 637.2 332.6 633.9 331.3 630.0 330.4 627.1 329.3 623.9 328.2 620.6 327.0 617.1 325.9 613.7 324.7 610.2 323.7 607.0 322.7 603.9 321.5 600.0 320.3 596.3 319.2 592.7 318.2 589.3 317.4 586.1 316.7 583.1 316.3 579.1 316.3 575.6 316.4 572.4 316.1 569.3 315.1 565.6 313.6 562.3 311.9 558.3 310.7 555.2 309.4 551.7 308.0 548.0 306.5 544.6 305.0 541.7 302.2 538.1 299.3 535.3 296.7 533.4 293.9 532.1 291.2 532.0Z"/>
<path fill="#ff0000" d="M197.0 628.6 198.3 625.1 199.2 622.9 200.3 620.2 201.7 617.0 203.1 613.5 204.7 609.8 206.2 606.0 207.7 602.3 209.2 598.7 210.5 595.3 211.8 591.7 213.1 588.2 214.3 584.8 215.5 581.4 216.7 578.0 217.8 574.6 219.0 571.1 220.2 567.7 221.4 564.2 222.6 560.7 223.8 557.2 225.0 553.7 226.2 550.2 227.4 546.7 228.6 543.3 229.8 540.0 231.0 536.8 232.2 533.6 233.4 530.6 234.6 527.5 235.8 524.5 237.0 521.4 238.2 518.3 239.5 515.1 240.8 511.8 242.1 508.3 243.5 504.8 244.8 501.3 246.2 497.8 247.6 494.3 248.9 490.8 250.3 487.5 251.7 484.2 253.0 481.0 254.4 477.7 255.8 474.5 257.2 471.4 258.6 468.4 259.9 465.4 261.3 462.6 263.1 458.9 265.0 455.4 266.9 452.0 268.7 448.8 270.5 445.9 272.2 443.3 274.6 440.1 276.8 437.5 278.9 435.4 281.0 433.6 284.0 431.7 286.9 430.3 289.5 429.4 292.2 428.7 295.1 428.7 298.0 428.9 301.4 429.4 304.8 430.8 307.2 432.5 309.7 434.7 312.1 437.4 314.4 440.5 316.2 443.4 317.9 446.6 319.5 450.1 321.2 453.7 322.7 457.1 324.2 460.5 325.7 464.0 327.1 467.5 328.4 470.7 329.6 473.7 331.1 477.5 332.3 480.7 333.8 484.7 334.8 487.4 336.0 490.3 337.3 493.5 338.6 496.8 339.9 500.2 341.0 503.6 342.0 507.1 342.9 510.7 343.8 514.3 344.7 518.1 345.6 521.8 346.5 525.6 347.3 528.8 348.2 532.0 349.0 535.2 349.9 538.5 350.7 541.8 351.6 545.1 352.5 548.6 353.3 551.7 354.1 554.9 355.0 558.1 355.8 561.3 356.6 564.6 357.5 567.9 358.4 571.3 359.2 574.6 360.0 578.0 360.9 581.4 361.7 584.8 362.5 588.3 363.4 591.7 364.2 595.2 365.1 598.7 366.0 602.2 366.9 605.7 367.9 609.1 368.9 612.5 369.9 615.9 370.9 619.4 372.0 623.0 373.0 626.7 374.0 630.6 374.8 633.8 375.6 637.2 376.5 640.7 377.3 644.3 378.2 647.9 379.0 651.5 379.8 655.1 380.6 658.7 381.4 662.2 382.2 665.6 383.0 669.3 383.8 672.9 384.6 676.5 385.4 680.0 386.1 683.5 386.8 687.0 387.6 690.5 388.3 694.0 389.1 697.6 389.8 700.9 390.5 704.3 391.2 707.7 391.9 711.1 392.6 714.5 393.3 717.9 394.0 721.2 394.7 724.4 395.4 727.5 396.0 730.4 396.9 734.2 397.7 737.7 398.5 740.9 399.3 744.0 400.1 747.2 400.8 750.4 401.5 753.9 402.1 757.2 402.6 760.5 403.1 763.9 403.5 767.4 404.0 771.0 404.5 774.5 405.1 778.0 405.7 781.5 406.4 785.0 407.2 788.5 408.1 791.9 408.9 795.4 409.8 798.9 410.8 802.4 411.7 805.8 412.6 809.2 413.5 812.5 414.3 815.8 415.2 819.0 416.1 822.2 417.0 825.4 418.0 828.7 419.1 832.0 420.3 835.4 421.5 838.6 422.9 841.9 424.4 845.3 425.9 848.8 427.4 852.2 429.0 855.6 430.5 858.8 431.9 861.8 433.2 864.5 434.9 868.0 436.5 871.1 437.9 873.9 439.3 876.5 440.7 879.0 442.2 881.7 444.0 884.9 445.8 888.1 447.6 891.2 449.4 894.3 451.2 897.1 453.4 900.6 455.7 903.8 458.0 906.9 460.2 909.9 462.4 912.7 464.7 915.3 467.0 917.9 469.2 920.3 471.4 922.6 473.7 924.8 476.0 927.0 478.2 929.0 481.2 931.7 484.2 934.2 487.2 936.7 490.2 939.1 493.2 941.5 496.2 943.9 499.2 946.3 502.2 948.7 505.2 951.2 508.2 953.8 511.2 956.5 514.2 959.3 516.5 961.5 518.7 963.8 521.0 966.1 523.2 968.6 525.5 971.1 527.7 973.7 530.0 976.4 532.2 979.1 534.5 982.0 536.7 984.9 539.0 987.9 541.2 990.9 543.5 994.0 545.7 997.2 548.0 1000.4 550.2 1003.8 552.0 1006.5 553.8 1009.2 555.6 1012.0 557.4 1014.8 559.2 1017.6 561.0 1020.5 562.8 1023.5 564.6 1026.4 566.4 1029.4 568.2 1032.5 570.0 1035.5 571.8 1038.6 573.6 1041.7 575.4 1044.8 577.2 1047.9 579.0 1051.1 580.8 1054.2 582.6 1057.4 584.4 1060.5 586.2 1063.7 588.0 1066.8 589.8 1070.0 591.6 1073.1 593.4 1076.2 595.2 1079.3 597.0 1082.4 598.8 1085.4 600.6 1088.4 602.4 1091.4 604.2 1094.4 606.0 1097.3 607.8 1100.2 609.6 1103.0 611.4 1105.8 613.2 1108.6 615.0 1111.3 616.8 1113.9 618.6 1116.5 620.4 1119.1 622.2 1121.6 624.5 1124.7 626.7 1127.7 629.0 1130.6 631.2 1133.5 633.5 1136.4 635.7 1139.2 638.0 1141.9 640.2 1144.6 642.5 1147.2 644.7 1149.8 647.0 1152.4 649.2 1154.9 651.5 1157.4 653.7 1159.8 656.0 1162.2 658.2 1164.6 660.5 1166.9 662.7 1169.2 665.0 1171.5 667.2 1173.8 669.5 1176.1 671.7 1178.3 674.0 1180.5 676.2 1182.7 678.5 1184.9 680.7 1187.1 683.0 1189.3 685.2 1191.5 687.5 1193.7 689.7 1195.9 692.0 1198.1 694.2 1200.3 696.5 1202.5 698.7 1204.7 701.0 1207.0 703.2 1209.2 705.5 1211.5 707.7 1213.8 710.0 1216.1 712.2 1218.4 714.5 1220.8 716.7 1223.1 719.0 1225.5 721.2 1227.8 723.5 1230.2 725.7 1232.5 728.0 1234.9 730.2 1237.2 732.5 1239.6 734.7 1241.9 737.0 1244.3 739.2 1246.6 741.5 1248.9 743.7 1251.2 746.0 1253.5 748.2 1255.8 750.5 1258.0 752.7 1260.3 755.0 1262.5 757.2 1264.7 759.5 1266.8 761.7 1268.9 764.0 1271.0 766.2 1273.1 769.2 1275.8 772.2 1278.5 775.2 1281.1 778.2 1283.7 781.2 1286.2 784.2 1288.7 787.3 1291.2 790.4 1293.6 793.2 1295.9 795.0 1297.4 800.0 1301.0 801.9 1302.4 804.2 1303.9 806.8 1305.7 809.6 1307.7 812.6 1309.7 815.7 1311.9 819.0 1314.1 825.6 1318.5 838.2 1326.5 850.9 1333.8 863.6 1340.7 876.4 1347.2 889.1 1353.3 901.8 1359.2 914.5 1364.7 927.3 1370.0 940.0 1375.1 952.7 1379.9 965.5 1384.4 978.5 1388.9 992.5 1393.3 1006.5 1397.6 1020.5 1401.6 1034.5 1405.3 1048.5 1408.9 1062.5 1412.2 1076.5 1415.4 1090.5 1418.3 1104.5 1421.1 1118.5 1423.8 1132.5 1426.3 1146.5 1428.7 1160.5 1431.0 1174.5 1433.2 1188.5 1435.3 1202.5 1437.3 1216.5 1439.3 1230.5 1441.1 1244.5 1443.0 1258.5 1444.8 1272.5 1446.5 1286.5 1448.1 1300.5 1449.7 1314.5 1451.3 1328.5 1452.8 1342.5 1454.2 1356.5 1455.6 1370.5 1457.0 1384.5 1458.3 1398.5 1459.5 1412.5 1460.8 1426.5 1461.9 1440.5 1463.0 1454.5 1464.1 1468.5 1465.2 1482.5 1466.2 1496.5 1467.1 1510.5 1468.1 1524.5 1469.0 1538.5 1469.8 1552.5 1470.7 1566.5 1471.5 1580.5 1472.2 1594.5 1473.0 1608.5 1473.7 1622.5 1474.3 1636.5 1475.0 1650.5 1475.6 1664.5 1476.3 1678.5 1476.8 1692.5 1477.4 1706.5 1478.0 1720.5 1478.5 1734.5 1479.0 1748.5 1479.5 1762.5 1480.0 1776.5 1480.5 1790.5 1481.0 1804.5 1481.4 1818.5 1481.9 1832.5 1482.3 1846.5 1482.7 1860.5 1483.2 1874.5 1483.6 1888.5 1484.0 1902.5 1484.4 1916.5 1484.9 1930.5 1485.3 1944.5 1485.7 1958.5 1486.2 1972.5 1486.6 1986.5 1487.0 2000.5 1487.5 2014.5 1487.9 2028.6 1488.4 2044.0 1488.9 2057.5 1489.4 2071.0 1489.9 2071.0 1498.7 2057.5 1498.2 2044.0 1497.7 2028.6 1497.2 2014.5 1496.7 2000.5 1496.3 1986.5 1495.8 1972.5 1495.4 1958.5 1495.0 1944.5 1494.5 1930.5 1494.1 1916.5 1493.7 1902.5 1493.2 1888.5 1492.8 1874.5 1492.4 1860.5 1492.0 1846.5 1491.5 1832.5 1491.1 1818.5 1490.7 1804.5 1490.2 1790.5 1489.8 1776.5 1489.3 1762.5 1488.8 1748.5 1488.3 1734.5 1487.8 1720.5 1487.3 1706.5 1486.8 1692.5 1486.2 1678.5 1485.6 1664.5 1485.1 1650.5 1484.4 1636.5 1483.8 1622.5 1483.1 1608.5 1482.5 1594.5 1481.8 1580.5 1481.0 1566.5 1480.3 1552.5 1479.5 1538.5 1478.6 1524.5 1477.8 1510.5 1476.9 1496.5 1475.9 1482.5 1475.0 1468.5 1474.0 1454.5 1472.9 1440.5 1471.8 1426.5 1470.7 1412.5 1469.6 1398.5 1468.3 1384.5 1467.1 1370.5 1465.8 1356.5 1464.4 1342.5 1463.0 1328.5 1461.6 1314.5 1460.1 1300.5 1458.5 1286.5 1456.9 1272.5 1455.3 1258.5 1453.6 1244.5 1451.8 1230.5 1449.9 1216.5 1448.1 1202.5 1446.1 1188.5 1444.1 1174.5 1442.0 1160.5 1439.8 1146.5 1437.5 1132.5 1435.1 1118.5 1432.6 1104.5 1429.9 1090.5 1427.1 1076.5 1424.2 1062.5 1421.0 1048.5 1417.7 1034.5 1414.1 1020.5 1410.4 1006.5 1406.4 992.5 1402.1 978.5 1397.7 965.5 1393.2 952.7 1388.7 940.0 1383.9 927.3 1378.8 914.5 1373.5 901.8 1368.0 889.1 1362.1 876.4 1356.0 863.6 1349.5 850.9 1342.6 838.2 1335.3 825.6 1327.3 819.0 1322.9 815.7 1320.7 812.6 1318.5 809.6 1316.5 806.8 1314.5 804.2 1312.7 801.9 1311.2 800.0 1309.8 795.0 1306.2 793.2 1304.7 790.4 1302.4 787.3 1300.0 784.2 1297.5 781.2 1295.0 778.2 1292.5 775.2 1289.9 772.2 1287.3 769.2 1284.6 766.2 1281.9 764.0 1279.8 761.7 1277.7 759.5 1275.6 757.2 1273.5 755.0 1271.3 752.7 1269.1 750.5 1266.8 748.2 1264.6 746.0 1262.3 743.7 1260.0 741.5 1257.7 739.2 1255.4 737.0 1253.1 734.7 1250.7 732.5 1248.4 730.2 1246.0 728.0 1243.7 725.7 1241.3 723.5 1239.0 721.2 1236.6 719.0 1234.3 716.7 1231.9 714.5 1229.6 712.2 1227.2 710.0 1224.9 707.7 1222.6 705.5 1220.3 703.2 1218.0 701.0 1215.8 698.7 1213.5 696.5 1211.3 694.2 1209.1 692.0 1206.9 689.7 1204.7 687.5 1202.5 685.2 1200.3 683.0 1198.1 680.7 1195.9 678.5 1193.7 676.2 1191.5 674.0 1189.3 671.7 1187.1 669.5 1184.9 667.2 1182.6 665.0 1180.3 662.7 1178.0 660.5 1175.7 658.2 1173.4 656.0 1171.0 653.7 1168.6 651.5 1166.2 649.2 1163.7 647.0 1161.2 644.7 1158.6 642.5 1156.0 640.2 1153.4 638.0 1150.7 635.7 1148.0 633.5 1145.2 631.2 1142.3 629.0 1139.4 626.7 1136.5 624.5 1133.5 622.2 1130.4 620.4 1127.9 618.6 1125.3 616.8 1122.7 615.0 1120.1 613.2 1117.4 611.4 1114.6 609.6 1111.8 607.8 1109.0 606.0 1106.1 604.2 1103.2 602.4 1100.2 600.6 1097.2 598.8 1094.2 597.0 1091.2 595.2 1088.1 593.4 1085.0 591.6 1081.9 589.8 1078.8 588.0 1075.6 586.2 1072.5 584.4 1069.3 582.6 1066.2 580.8 1063.0 579.0 1059.9 577.2 1056.7 575.4 1053.6 573.6 1050.5 571.8 1047.4 570.0 1044.3 568.2 1041.3 566.4 1038.2 564.6 1035.2 562.8 1032.3 561.0 1029.3 559.2 1026.4 557.4 1023.6 555.6 1020.8 553.8 1018.0 552.0 1015.3 550.2 1012.6 548.0 1009.2 545.7 1006.0 543.5 1002.8 541.2 999.7 539.0 996.7 536.7 993.7 534.5 990.8 532.2 987.9 530.0 985.2 527.7 982.5 525.5 979.9 523.2 977.4 521.0 974.9 518.7 972.6 516.5 970.3 514.2 968.1 511.2 965.3 508.2 962.6 505.2 960.0 502.2 957.5 499.2 955.1 496.2 952.7 493.2 950.3 490.2 947.9 487.2 945.5 484.2 943.0 481.2 940.5 478.2 937.8 476.0 935.8 473.7 933.6 471.4 931.4 469.2 929.1 467.0 926.7 464.7 924.1 462.4 921.5 460.2 918.7 458.0 915.7 455.7 912.6 453.4 909.4 451.2 905.9 449.4 903.1 447.6 900.0 445.8 896.9 444.0 893.7 442.2 890.5 440.7 887.8 439.3 885.3 437.9 882.7 436.5 879.9 434.9 876.8 433.2 873.3 431.9 870.6 430.5 867.6 429.0 864.4 427.4 861.0 425.9 857.6 424.4 854.1 422.9 850.7 421.5 847.4 420.3 844.2 419.1 840.8 418.0 837.5 417.0 834.2 416.1 831.0 415.2 827.8 414.3 824.6 413.5 821.3 412.6 818.0 411.7 814.6 410.8 811.2 409.8 807.7 408.9 804.2 408.1 800.7 407.2 797.3 406.4 793.8 405.7 790.3 405.1 786.8 404.5 783.3 404.0 779.8 403.5 776.2 403.1 772.7 402.6 769.3 402.1 766.0 401.5 762.7 400.8 759.2 400.1 756.0 399.3 752.8 398.5 749.7 397.7 746.5 396.9 743.0 396.0 739.2 395.4 736.3 394.7 733.2 394.0 730.0 393.3 726.7 392.6 723.3 391.9 719.9 391.2 716.5 390.5 713.1 389.8 709.7 389.1 706.4 388.3 702.8 387.6 699.3 386.8 695.8 386.1 692.3 385.4 688.8 384.6 685.3 383.8 681.7 383.0 678.1 382.2 674.4 381.4 671.0 380.6 667.5 379.8 663.9 379.0 660.3 378.2 656.7 377.3 653.1 376.5 649.5 375.6 646.0 374.8 642.6 374.0 639.4 373.0 635.5 372.0 631.8 370.9 628.2 369.9 624.7 368.9 621.3 367.9 617.9 366.9 614.5 366.0 611.0 365.1 607.5 364.2 604.0 363.4 600.5 362.5 597.1 361.7 593.6 360.9 590.2 360.0 586.8 359.2 583.4 358.4 580.1 357.5 576.7 356.6 573.4 355.8 570.1 355.0 566.9 354.1 563.7 353.3 560.5 352.5 557.4 351.6 553.9 350.7 550.6 349.9 547.3 349.0 544.0 348.2 540.8 347.3 537.6 346.5 534.4 345.6 530.6 344.7 526.9 343.8 523.1 342.9 519.5 342.0 515.9 341.0 512.4 339.9 509.0 338.6 505.6 337.3 502.3 336.0 499.1 334.8 496.2 333.8 493.5 332.3 489.5 331.1 486.3 329.6 482.5 328.4 479.5 327.1 476.3 325.7 472.8 324.2 469.3 322.7 465.9 321.2 462.5 319.5 458.9 317.9 455.4 316.2 452.2 314.4 449.3 312.1 446.2 309.7 443.5 307.2 441.3 304.8 439.6 301.4 438.2 298.0 437.7 295.1 437.5 292.2 437.5 289.5 438.2 286.9 439.1 284.0 440.5 281.0 442.4 278.9 444.2 276.8 446.3 274.6 448.9 272.2 452.1 270.5 454.7 268.7 457.6 266.9 460.8 265.0 464.2 263.1 467.7 261.3 471.4 259.9 474.2 258.6 477.2 257.2 480.2 255.8 483.3 254.4 486.5 253.0 489.8 251.7 493.0 250.3 496.3 248.9 499.6 247.6 503.1 246.2 506.6 244.8 510.1 243.5 513.6 242.1 517.1 240.8 520.6 239.5 523.9 238.2 527.1 237.0 530.2 235.8 533.3 234.6 536.3 233.4 539.4 232.2 542.4 231.0 545.6 229.8 548.8 228.6 552.1 227.4 555.5 226.2 559.0 225.0 562.5 223.8 566.0 222.6 569.5 221.4 573.0 220.2 576.5 219.0 579.9 217.8 583.4 216.7 586.8 215.5 590.2 214.3 593.6 213.1 597.0 211.8 600.5 210.5 604.1 209.2 607.5 207.7 611.1 206.2 614.8 204.7 618.6 203.1 622.3 201.7 625.8 200.3 629.0 199.2 631.7 198.3 633.9 197.0 637.4Z"/>
<path fill="#ff0000" d="M192.6 633.0 193.9 629.5 194.8 627.3 195.9 624.6 197.3 621.4 198.7 617.9 200.3 614.2 201.8 610.4 203.3 606.7 204.8 603.1 206.1 599.7 207.4 596.1 208.7 592.6 209.9 589.2 211.1 585.8 212.3 582.4 213.4 579.0 214.6 575.5 215.8 572.1 217.0 568.6 218.2 565.1 219.4 561.6 220.6 558.1 221.8 554.6 223.0 551.1 224.2 547.7 225.4 544.4 226.6 541.2 227.8 538.0 229.0 535.0 230.2 531.9 231.4 528.9 232.6 525.8 233.8 522.7 235.1 519.5 236.4 516.2 237.7 512.7 239.1 509.2 240.4 505.7 241.8 502.2 243.2 498.7 244.5 495.2 245.9 491.9 247.3 488.6 248.6 485.4 250.0 482.1 251.4 478.9 252.8 475.8 254.2 472.8 255.5 469.8 256.9 467.0 258.7 463.3 260.6 459.8 262.5 456.4 264.3 453.2 266.1 450.3 267.8 447.7 270.2 444.5 272.4 441.9 274.5 439.8 276.6 438.0 279.6 436.1 282.5 434.7 285.1 433.8 287.8 433.1 296.6 433.1 293.9 433.8 291.3 434.7 288.4 436.1 285.4 438.0 283.3 439.8 281.1 441.9 279.0 444.5 276.6 447.7 274.9 450.3 273.1 453.2 271.3 456.4 269.4 459.8 267.5 463.3 265.7 467.0 264.3 469.8 263.0 472.8 261.6 475.8 260.2 478.9 258.8 482.1 257.4 485.4 256.1 488.6 254.7 491.9 253.3 495.2 252.0 498.7 250.6 502.2 249.2 505.7 247.9 509.2 246.5 512.7 245.2 516.2 243.9 519.5 242.6 522.7 241.4 525.8 240.2 528.9 239.0 531.9 237.8 535.0 236.6 538.0 235.4 541.2 234.2 544.4 233.0 547.7 231.8 551.1 230.6 554.6 229.4 558.1 228.2 561.6 227.0 565.1 225.8 568.6 224.6 572.1 223.4 575.5 222.2 579.0 221.1 582.4 219.9 585.8 218.7 589.2 217.5 592.6 216.2 596.1 214.9 599.7 213.6 603.1 212.1 606.7 210.6 610.4 209.1 614.2 207.5 617.9 206.1 621.4 204.7 624.6 203.6 627.3 202.7 629.5 201.4 633.0Z"/>
<path fill="#ff0000" d="M287.8 433.1 290.7 433.1 293.6 433.3 297.0 433.8 300.4 435.2 302.8 436.9 305.3 439.1 307.7 441.8 310.0 444.9 311.8 447.8 313.5 451.0 315.1 454.5 316.8 458.1 318.3 461.5 319.8 464.9 321.3 468.4 322.7 471.9 324.0 475.1 325.2 478.1 326.7 481.9 327.9 485.1 329.4 489.1 330.4 491.8 331.6 494.7 332.9 497.9 334.2 501.2 335.5 504.6 336.6 508.0 337.6 511.5 338.5 515.1 339.4 518.7 340.3 522.5 341.2 526.2 342.1 530.0 342.9 533.2 343.8 536.4 344.6 539.6 345.5 542.9 346.3 546.2 347.2 549.5 348.1 553.0 348.9 556.1 349.7 559.3 350.6 562.5 351.4 565.7 352.2 569.0 353.1 572.3 354.0 575.7 354.8 579.0 355.6 582.4 356.5 585.8 357.3 589.2 358.1 592.7 359.0 596.1 359.8 599.6 360.7 603.1 361.6 606.6 362.5 610.1 363.5 613.5 364.5 616.9 365.5 620.3 366.5 623.8 367.6 627.4 368.6 631.1 369.6 635.0 370.4 638.2 371.2 641.6 372.1 645.1 372.9 648.7 373.8 652.3 374.6 655.9 375.4 659.5 376.2 663.1 377.0 666.6 377.8 670.0 378.6 673.7 379.4 677.3 380.2 680.9 381.0 684.4 381.7 687.9 382.4 691.4 383.2 694.9 383.9 698.4 384.7 702.0 385.4 705.3 386.1 708.7 386.8 712.1 387.5 715.5 388.2 718.9 388.9 722.3 389.6 725.6 390.3 728.8 391.0 731.9 391.6 734.8 392.5 738.6 393.3 742.1 394.1 745.3 394.9 748.4 395.7 751.6 396.4 754.8 397.1 758.3 397.7 761.6 398.2 764.9 398.7 768.3 399.1 771.8 399.6 775.4 400.1 778.9 400.7 782.4 401.3 785.9 402.0 789.4 402.8 792.9 403.7 796.3 404.5 799.8 405.4 803.3 406.4 806.8 407.3 810.2 408.2 813.6 409.1 816.9 409.9 820.2 410.8 823.4 411.7 826.6 412.6 829.8 413.6 833.1 414.7 836.4 415.9 839.8 417.1 843.0 418.5 846.3 420.0 849.7 421.5 853.2 423.0 856.6 424.6 860.0 426.1 863.2 427.5 866.2 428.8 868.9 430.5 872.4 432.1 875.5 433.5 878.3 434.9 880.9 436.3 883.4 437.8 886.1 439.6 889.3 441.4 892.5 443.2 895.6 445.0 898.7 446.8 901.5 449.1 905.0 451.3 908.2 453.6 911.3 455.8 914.3 458.1 917.1 460.3 919.7 462.6 922.3 464.8 924.7 467.1 927.0 469.3 929.2 471.6 931.4 473.8 933.4 476.8 936.1 479.8 938.6 482.8 941.1 485.8 943.5 488.8 945.9 491.8 948.3 494.8 950.7 497.8 953.1 500.8 955.6 503.8 958.2 506.8 960.9 509.8 963.7 512.1 965.9 514.3 968.2 516.6 970.5 518.8 973.0 521.1 975.5 523.3 978.1 525.6 980.8 527.8 983.5 530.1 986.4 532.3 989.3 534.6 992.3 536.8 995.3 539.1 998.4 541.3 1001.6 543.6 1004.8 545.8 1008.2 547.6 1010.9 549.4 1013.6 551.2 1016.4 553.0 1019.2 554.8 1022.0 556.6 1024.9 558.4 1027.9 560.2 1030.8 562.0 1033.8 563.8 1036.9 565.6 1039.9 567.4 1043.0 569.2 1046.1 571.0 1049.2 572.8 1052.3 574.6 1055.5 576.4 1058.6 578.2 1061.8 580.0 1064.9 581.8 1068.1 583.6 1071.2 585.4 1074.4 587.2 1077.5 589.0 1080.6 590.8 1083.7 592.6 1086.8 594.4 1089.8 596.2 1092.8 598.0 1095.8 599.8 1098.8 601.6 1101.7 603.4 1104.6 605.2 1107.4 607.0 1110.2 608.8 1113.0 610.6 1115.7 612.4 1118.3 614.2 1120.9 616.0 1123.5 617.8 1126.0 620.1 1129.1 622.3 1132.1 624.6 1135.0 626.8 1137.9 629.1 1140.8 631.3 1143.6 633.6 1146.3 635.8 1149.0 638.1 1151.6 640.3 1154.2 642.6 1156.8 644.8 1159.3 647.1 1161.8 649.3 1164.2 651.6 1166.6 653.8 1169.0 656.1 1171.3 658.3 1173.6 660.6 1175.9 662.8 1178.2 665.1 1180.5 667.3 1182.7 669.6 1184.9 671.8 1187.1 674.1 1189.3 676.3 1191.5 678.6 1193.7 680.8 1195.9 683.1 1198.1 685.3 1200.3 687.6 1202.5 689.8 1204.7 692.1 1206.9 694.3 1209.1 696.6 1211.4 698.8 1213.6 701.1 1215.9 703.3 1218.2 705.6 1220.5 707.8 1222.8 710.1 1225.2 712.3 1227.5 714.6 1229.9 716.8 1232.2 719.1 1234.6 721.3 1236.9 723.6 1239.3 725.8 1241.6 728.1 1244.0 730.3 1246.3 732.6 1248.7 734.8 1251.0 737.1 1253.3 739.3 1255.6 741.6 1257.9 743.8 1260.2 746.1 1262.4 748.3 1264.7 750.6 1266.9 752.8 1269.1 755.1 1271.2 757.3 1273.3 759.6 1275.4 761.8 1277.5 764.8 1280.2 767.8 1282.9 770.8 1285.5 773.8 1288.1 776.8 1290.6 779.8 1293.1 782.9 1295.6 786.0 1298.0 788.8 1300.3 790.6 1301.8 795.6 1305.4 797.5 1306.8 799.8 1308.3 802.4 1310.1 805.2 1312.1 808.2 1314.1 811.3 1316.3 814.6 1318.5 821.2 1322.9 833.8 1330.9 846.5 1338.2 859.2 1345.1 872.0 1351.6 884.7 1357.7 897.4 1363.6 910.1 1369.1 922.9 1374.4 935.6 1379.5 948.3 1384.3 961.1 1388.8 974.1 1393.3 988.1 1397.7 1002.1 1402.0 1016.1 1406.0 1030.1 1409.7 1044.1 1413.3 1058.1 1416.6 1072.1 1419.8 1086.1 1422.7 1100.1 1425.5 1114.1 1428.2 1128.1 1430.7 1142.1 1433.1 1156.1 1435.4 1170.1 1437.6 1184.1 1439.7 1198.1 1441.7 1212.1 1443.7 1226.1 1445.5 1240.1 1447.4 1254.1 1449.2 1268.1 1450.9 1282.1 1452.5 1296.1 1454.1 1310.1 1455.7 1324.1 1457.2 1338.1 1458.6 1352.1 1460.0 1366.1 1461.4 1380.1 1462.7 1394.1 1463.9 1408.1 1465.2 1422.1 1466.3 1436.1 1467.4 1450.1 1468.5 1464.1 1469.6 1478.1 1470.6 1492.1 1471.5 1506.1 1472.5 1520.1 1473.4 1534.1 1474.2 1548.1 1475.1 1562.1 1475.9 1576.1 1476.6 1590.1 1477.4 1604.1 1478.1 1618.1 1478.7 1632.1 1479.4 1646.1 1480.0 1660.1 1480.7 1674.1 1481.2 1688.1 1481.8 1702.1 1482.4 1716.1 1482.9 1730.1 1483.4 1744.1 1483.9 1758.1 1484.4 1772.1 1484.9 1786.1 1485.4 1800.1 1485.8 1814.1 1486.3 1828.1 1486.7 1842.1 1487.1 1856.1 1487.6 1870.1 1488.0 1884.1 1488.4 1898.1 1488.8 1912.1 1489.3 1926.1 1489.7 1940.1 1490.1 1954.1 1490.6 1968.1 1491.0 1982.1 1491.4 1996.1 1491.9 2010.1 1492.3 2024.2 1492.8 2039.6 1493.3 2053.1 1493.8 2066.6 1494.3 2075.4 1494.3 2061.9 1493.8 2048.4 1493.3 2033.0 1492.8 2018.9 1492.3 2004.9 1491.9 1990.9 1491.4 1976.9 1491.0 1962.9 1490.6 1948.9 1490.1 1934.9 1489.7 1920.9 1489.3 1906.9 1488.8 1892.9 1488.4 1878.9 1488.0 1864.9 1487.6 1850.9 1487.1 1836.9 1486.7 1822.9 1486.3 1808.9 1485.8 1794.9 1485.4 1780.9 1484.9 1766.9 1484.4 1752.9 1483.9 1738.9 1483.4 1724.9 1482.9 1710.9 1482.4 1696.9 1481.8 1682.9 1481.2 1668.9 1480.7 1654.9 1480.0 1640.9 1479.4 1626.9 1478.7 1612.9 1478.1 1598.9 1477.4 1584.9 1476.6 1570.9 1475.9 1556.9 1475.1 1542.9 1474.2 1528.9 1473.4 1514.9 1472.5 1500.9 1471.5 1486.9 1470.6 1472.9 1469.6 1458.9 1468.5 1444.9 1467.4 1430.9 1466.3 1416.9 1465.2 1402.9 1463.9 1388.9 1462.7 1374.9 1461.4 1360.9 1460.0 1346.9 1458.6 1332.9 1457.2 1318.9 1455.7 1304.9 1454.1 1290.9 1452.5 1276.9 1450.9 1262.9 1449.2 1248.9 1447.4 1234.9 1445.5 1220.9 1443.7 1206.9 1441.7 1192.9 1439.7 1178.9 1437.6 1164.9 1435.4 1150.9 1433.1 1136.9 1430.7 1122.9 1428.2 1108.9 1425.5 1094.9 1422.7 1080.9 1419.8 1066.9 1416.6 1052.9 1413.3 1038.9 1409.7 1024.9 1406.0 1010.9 1402.0 996.9 1397.7 982.9 1393.3 969.9 1388.8 957.1 1384.3 944.4 1379.5 931.7 1374.4 918.9 1369.1 906.2 1363.6 893.5 1357.7 880.8 1351.6 868.0 1345.1 855.3 1338.2 842.6 1330.9 830.0 1322.9 823.4 1318.5 820.1 1316.3 817.0 1314.1 814.0 1312.1 811.2 1310.1 808.6 1308.3 806.3 1306.8 804.4 1305.4 799.4 1301.8 797.6 1300.3 794.8 1298.0 791.7 1295.6 788.6 1293.1 785.6 1290.6 782.6 1288.1 779.6 1285.5 776.6 1282.9 773.6 1280.2 770.6 1277.5 768.4 1275.4 766.1 1273.3 763.9 1271.2 761.6 1269.1 759.4 1266.9 757.1 1264.7 754.9 1262.4 752.6 1260.2 750.4 1257.9 748.1 1255.6 745.9 1253.3 743.6 1251.0 741.4 1248.7 739.1 1246.3 736.9 1244.0 734.6 1241.6 732.4 1239.3 730.1 1236.9 727.9 1234.6 725.6 1232.2 723.4 1229.9 721.1 1227.5 718.9 1225.2 716.6 1222.8 714.4 1220.5 712.1 1218.2 709.9 1215.9 707.6 1213.6 705.4 1211.4 703.1 1209.1 700.9 1206.9 698.6 1204.7 696.4 1202.5 694.1 1200.3 691.9 1198.1 689.6 1195.9 687.4 1193.7 685.1 1191.5 682.9 1189.3 680.6 1187.1 678.4 1184.9 676.1 1182.7 673.9 1180.5 671.6 1178.2 669.4 1175.9 667.1 1173.6 664.9 1171.3 662.6 1169.0 660.4 1166.6 658.1 1164.2 655.9 1161.8 653.6 1159.3 651.4 1156.8 649.1 1154.2 646.9 1151.6 644.6 1149.0 642.4 1146.3 640.1 1143.6 637.9 1140.8 635.6 1137.9 633.4 1135.0 631.1 1132.1 628.9 1129.1 626.6 1126.0 624.8 1123.5 623.0 1120.9 621.2 1118.3 619.4 1115.7 617.6 1113.0 615.8 1110.2 614.0 1107.4 612.2 1104.6 610.4 1101.7 608.6 1098.8 606.8 1095.8 605.0 1092.8 603.2 1089.8 601.4 1086.8 599.6 1083.7 597.8 1080.6 596.0 1077.5 594.2 1074.4 592.4 1071.2 590.6 1068.1 588.8 1064.9 587.0 1061.8 585.2 1058.6 583.4 1055.5 581.6 1052.3 579.8 1049.2 578.0 1046.1 576.2 1043.0 574.4 1039.9 572.6 1036.9 570.8 1033.8 569.0 1030.8 567.2 1027.9 565.4 1024.9 563.6 1022.0 561.8 1019.2 560.0 1016.4 558.2 1013.6 556.4 1010.9 554.6 1008.2 552.4 1004.8 550.1 1001.6 547.9 998.4 545.6 995.3 543.4 992.3 541.1 989.3 538.9 986.4 536.6 983.5 534.4 980.8 532.1 978.1 529.9 975.5 527.6 973.0 525.4 970.5 523.1 968.2 520.9 965.9 518.6 963.7 515.6 960.9 512.6 958.2 509.6 955.6 506.6 953.1 503.6 950.7 500.6 948.3 497.6 945.9 494.6 943.5 491.6 941.1 488.6 938.6 485.6 936.1 482.6 933.4 480.4 931.4 478.1 929.2 475.8 927.0 473.6 924.7 471.4 922.3 469.1 919.7 466.8 917.1 464.6 914.3 462.4 911.3 460.1 908.2 457.8 905.0 455.6 901.5 453.8 898.7 452.0 895.6 450.2 892.5 448.4 889.3 446.6 886.1 445.1 883.4 443.7 880.9 442.3 878.3 440.9 875.5 439.3 872.4 437.6 868.9 436.3 866.2 434.9 863.2 433.4 860.0 431.8 856.6 430.3 853.2 428.8 849.7 427.3 846.3 425.9 843.0 424.7 839.8 423.5 836.4 422.4 833.1 421.4 829.8 420.5 826.6 419.6 823.4 418.7 820.2 417.9 816.9 417.0 813.6 416.1 810.2 415.2 806.8 414.2 803.3 413.3 799.8 412.5 796.3 411.6 792.9 410.8 789.4 410.1 785.9 409.5 782.4 408.9 778.9 408.4 775.4 407.9 771.8 407.5 768.3 407.0 764.9 406.5 761.6 405.9 758.3 405.2 754.8 404.5 751.6 403.7 748.4 402.9 745.3 402.1 742.1 401.3 738.6 400.4 734.8 399.8 731.9 399.1 728.8 398.4 725.6 397.7 722.3 397.0 718.9 396.3 715.5 395.6 712.1 394.9 708.7 394.2 705.3 393.5 702.0 392.7 698.4 392.0 694.9 391.2 691.4 390.5 687.9 389.8 684.4 389.0 680.9 388.2 677.3 387.4 673.7 386.6 670.0 385.8 666.6 385.0 663.1 384.2 659.5 383.4 655.9 382.6 652.3 381.7 648.7 380.9 645.1 380.0 641.6 379.2 638.2 378.4 635.0 377.4 631.1 376.4 627.4 375.3 623.8 374.3 620.3 373.3 616.9 372.3 613.5 371.3 610.1 370.4 606.6 369.5 603.1 368.6 599.6 367.8 596.1 366.9 592.7 366.1 589.2 365.3 585.8 364.4 582.4 363.6 579.0 362.8 575.7 361.9 572.3 361.0 569.0 360.2 565.7 359.4 562.5 358.5 559.3 357.7 556.1 356.9 553.0 356.0 549.5 355.1 546.2 354.3 542.9 353.4 539.6 352.6 536.4 351.7 533.2 350.9 530.0 350.0 526.2 349.1 522.5 348.2 518.7 347.3 515.1 346.4 511.5 345.4 508.0 344.3 504.6 343.0 501.2 341.7 497.9 340.4 494.7 339.2 491.8 338.2 489.1 336.7 485.1 335.5 481.9 334.0 478.1 332.8 475.1 331.5 471.9 330.1 468.4 328.6 464.9 327.1 461.5 325.6 458.1 323.9 454.5 322.3 451.0 320.6 447.8 318.8 444.9 316.5 441.8 314.1 439.1 311.6 436.9 309.2 435.2 305.8 433.8 302.4 433.3 299.5 433.1 296.6 433.1Z"/>
<path fill="#0000aa" d="M197.0 471.6 197.7 469.7 198.5 467.2 199.6 464.2 200.7 460.8 202.0 457.2 203.3 453.5 204.6 449.8 205.8 446.1 207.0 442.7 208.0 439.6 209.2 436.1 210.2 432.8 211.2 429.6 212.2 426.5 213.2 423.4 214.2 420.2 215.2 417.0 216.3 413.6 217.3 410.4 218.4 407.2 219.4 403.9 220.5 400.6 221.6 397.2 222.7 393.8 223.8 390.4 224.9 387.0 226.0 383.6 227.1 380.2 228.1 376.7 229.2 373.3 230.3 369.8 231.3 366.3 232.4 362.9 233.5 359.5 234.5 356.1 235.6 352.8 236.8 349.2 238.0 345.7 239.2 342.3 240.4 338.9 241.6 335.5 242.8 332.1 244.0 328.7 245.3 325.1 246.5 321.8 247.7 318.4 248.9 315.0 250.1 311.5 251.4 308.1 252.7 304.6 253.9 301.2 255.2 297.9 256.4 294.7 257.8 291.2 259.2 287.6 260.5 284.1 261.9 280.7 263.3 277.4 264.6 274.3 266.0 271.3 267.4 268.5 269.3 265.0 271.2 261.8 273.2 258.8 275.1 256.2 276.9 253.8 278.5 251.9 282.2 248.9 285.4 247.7 288.9 246.2 292.3 245.0 295.6 243.4 299.2 242.9 302.2 244.2 305.6 246.4 308.9 249.1 311.3 251.3 313.8 253.7 316.2 256.6 318.6 260.2 320.0 262.7 321.5 265.5 322.9 268.5 324.3 271.7 325.7 274.9 327.1 278.0 328.3 280.9 329.6 284.0 330.8 286.9 331.9 289.7 333.0 292.6 334.1 295.6 335.2 298.9 336.2 302.0 337.2 305.2 338.2 308.5 339.1 311.9 340.1 315.4 341.1 318.9 342.1 322.4 343.1 325.8 344.1 329.3 345.1 332.7 346.0 336.2 347.0 339.7 348.0 343.4 349.0 347.3 349.8 350.4 350.5 353.6 351.3 356.9 352.1 360.3 352.8 363.7 353.6 367.2 354.4 370.7 355.1 374.2 355.9 377.7 356.6 380.9 357.3 384.1 357.9 387.4 358.6 390.7 359.3 394.0 359.9 397.3 360.6 400.7 361.3 404.0 362.1 407.3 362.8 410.6 363.6 413.9 364.4 417.2 365.2 420.6 366.1 423.9 366.9 427.3 367.8 430.6 368.7 433.9 369.5 437.1 370.3 440.2 371.1 443.3 372.0 447.0 373.0 450.6 373.8 454.0 374.7 457.4 375.6 460.8 376.4 464.1 377.2 467.5 378.0 470.9 378.8 474.3 379.5 477.7 380.1 481.0 380.8 484.3 381.5 487.7 382.1 491.2 382.8 494.8 383.6 498.6 384.2 501.8 384.9 505.1 385.6 508.4 386.3 511.9 387.1 515.4 387.8 519.0 388.5 522.5 389.2 526.1 389.9 529.6 390.5 533.1 391.1 536.6 391.7 540.0 392.2 543.5 392.7 546.9 393.2 550.4 393.8 553.9 394.3 557.3 394.8 560.8 395.4 564.2 396.0 567.7 396.6 571.2 397.3 574.7 398.0 578.2 398.7 581.8 399.4 585.3 400.1 588.8 400.9 592.2 401.6 595.6 402.3 599.0 403.0 602.2 403.8 605.7 404.5 609.2 405.3 612.6 406.1 615.9 406.9 619.2 407.6 622.4 408.4 625.5 409.1 628.6 409.8 631.6 410.7 635.4 411.5 639.1 412.3 642.6 413.1 646.1 413.9 649.4 414.6 652.6 415.3 655.6 416.2 659.3 416.9 662.3 417.7 665.3 418.5 668.6 419.6 672.6 420.4 675.7 421.3 679.1 422.3 682.9 423.3 686.7 424.3 690.6 425.3 694.4 426.3 698.0 427.3 701.3 428.5 705.2 429.7 708.7 430.8 712.0 432.0 715.1 433.2 718.3 434.5 721.6 435.9 725.0 437.4 728.5 438.9 732.0 440.4 735.4 442.0 738.7 443.5 741.9 445.3 745.5 447.1 748.9 448.9 752.2 450.7 755.4 452.5 758.6 454.3 761.7 456.1 764.6 457.9 767.6 459.7 770.4 461.5 773.2 463.3 775.9 465.1 778.6 466.9 781.2 468.7 783.7 470.5 786.2 472.8 789.3 475.0 792.2 477.2 795.1 479.5 797.9 481.8 800.7 484.0 803.4 486.2 806.1 488.5 808.7 490.8 811.3 493.0 813.9 495.2 816.4 497.5 818.9 499.8 821.4 502.0 823.9 504.2 826.4 506.5 828.9 508.8 831.4 511.0 834.0 513.2 836.5 515.5 839.1 517.8 841.7 520.0 844.3 522.2 846.9 524.5 849.7 526.8 852.4 529.0 855.3 531.2 858.1 533.5 861.1 535.8 864.1 538.0 867.1 540.2 870.3 542.5 873.5 544.3 876.1 546.1 878.7 547.9 881.4 549.7 884.1 551.5 886.9 553.3 889.8 555.1 892.6 556.9 895.6 558.7 898.5 560.5 901.6 562.3 904.7 564.1 907.8 565.9 911.0 567.7 914.2 569.5 917.5 571.0 920.3 572.5 923.2 574.0 926.0 575.5 928.9 577.0 931.9 578.5 934.9 580.0 937.9 581.5 940.9 583.0 944.0 584.5 947.1 586.0 950.2 587.5 953.4 589.0 956.6 590.5 959.8 592.0 963.0 593.5 966.2 595.0 969.5 596.5 972.7 598.0 976.0 599.5 979.3 601.0 982.5 602.5 985.8 604.0 989.1 605.5 992.4 607.0 995.7 608.5 998.9 610.0 1002.2 611.5 1005.4 613.0 1008.6 614.5 1011.8 616.0 1015.0 617.5 1018.1 619.0 1021.2 620.5 1024.3 622.0 1027.3 623.5 1030.3 625.3 1033.8 627.1 1037.3 628.9 1040.7 630.7 1044.0 632.5 1047.2 634.3 1050.3 636.1 1053.3 637.9 1056.2 639.7 1059.1 641.5 1061.9 643.8 1065.2 646.0 1068.5 648.2 1071.6 650.5 1074.7 652.8 1077.7 655.0 1080.5 657.2 1083.4 659.5 1086.1 661.8 1088.9 664.0 1091.5 666.2 1094.2 668.5 1096.8 670.8 1099.4 673.0 1102.0 675.2 1104.6 677.5 1107.3 679.8 1109.9 682.0 1112.5 684.2 1115.2 686.5 1117.9 688.8 1120.6 691.0 1123.3 693.2 1126.0 695.5 1128.7 697.8 1131.4 700.0 1134.2 702.2 1136.9 704.5 1139.6 706.8 1142.4 709.0 1145.1 711.2 1147.9 713.5 1150.6 715.8 1153.3 718.0 1156.1 720.2 1158.8 722.5 1161.5 724.8 1164.3 727.0 1167.0 729.2 1169.7 731.5 1172.4 733.8 1175.0 736.0 1177.7 738.2 1180.4 740.5 1183.0 742.8 1185.6 745.0 1188.2 747.2 1190.8 749.5 1193.4 751.8 1195.9 754.0 1198.4 756.2 1200.9 758.5 1203.4 760.8 1205.9 763.0 1208.3 765.2 1210.7 767.5 1213.0 769.8 1215.4 772.0 1217.7 774.2 1219.9 776.5 1222.2 778.8 1224.4 781.0 1226.6 783.2 1228.7 785.5 1230.9 788.6 1233.7 791.8 1236.6 794.5 1239.1 795.6 1240.3 800.0 1243.9 801.7 1245.2 803.8 1246.9 806.1 1248.7 808.6 1250.7 811.3 1252.9 814.2 1255.2 817.2 1257.5 820.2 1259.9 832.2 1269.0 843.8 1277.1 855.4 1284.6 867.1 1291.8 879.5 1299.2 892.3 1306.3 905.0 1313.0 917.7 1319.5 930.5 1325.7 943.2 1331.7 955.9 1337.4 968.6 1342.8 981.4 1348.0 994.1 1352.9 1006.8 1357.7 1019.5 1362.2 1032.3 1366.5 1045.0 1370.7 1059.0 1375.1 1073.0 1379.2 1087.0 1383.2 1101.0 1387.0 1115.0 1390.7 1129.0 1394.2 1143.0 1397.6 1157.0 1400.8 1171.0 1404.0 1185.0 1407.0 1199.0 1410.0 1213.0 1412.8 1227.0 1415.6 1241.0 1418.2 1255.0 1420.7 1269.0 1423.2 1283.0 1425.5 1297.0 1427.8 1311.0 1430.0 1325.0 1432.1 1339.0 1434.1 1353.0 1436.0 1367.0 1437.8 1381.0 1439.6 1395.0 1441.3 1409.0 1442.9 1423.0 1444.4 1437.0 1445.9 1451.0 1447.3 1465.0 1448.7 1479.0 1450.0 1493.0 1451.2 1507.0 1452.4 1521.0 1453.5 1535.0 1454.6 1549.0 1455.6 1563.0 1456.6 1577.0 1457.5 1591.0 1458.4 1605.0 1459.3 1619.0 1460.1 1633.0 1460.9 1647.0 1461.6 1661.0 1462.4 1675.0 1463.0 1689.0 1463.7 1703.0 1464.4 1717.0 1465.0 1731.0 1465.6 1745.0 1466.2 1759.0 1466.8 1773.0 1467.3 1787.0 1467.9 1801.0 1468.5 1815.0 1469.0 1829.0 1469.6 1843.0 1470.1 1857.0 1470.7 1871.0 1471.2 1885.0 1471.8 1899.0 1472.4 1913.0 1473.0 1927.0 1473.6 1941.0 1474.2 1955.0 1474.8 1969.0 1475.5 1983.0 1476.2 1997.0 1476.9 2011.0 1477.6 2025.0 1478.4 2040.2 1479.3 2054.5 1480.2 2069.0 1481.1 2071.0 1481.2 2071.0 1490.0 2069.0 1489.9 2054.5 1489.0 2040.2 1488.1 2025.0 1487.2 2011.0 1486.4 1997.0 1485.7 1983.0 1485.0 1969.0 1484.3 1955.0 1483.6 1941.0 1483.0 1927.0 1482.4 1913.0 1481.8 1899.0 1481.2 1885.0 1480.6 1871.0 1480.0 1857.0 1479.5 1843.0 1478.9 1829.0 1478.4 1815.0 1477.8 1801.0 1477.3 1787.0 1476.7 1773.0 1476.1 1759.0 1475.6 1745.0 1475.0 1731.0 1474.4 1717.0 1473.8 1703.0 1473.2 1689.0 1472.5 1675.0 1471.8 1661.0 1471.2 1647.0 1470.4 1633.0 1469.7 1619.0 1468.9 1605.0 1468.1 1591.0 1467.2 1577.0 1466.3 1563.0 1465.4 1549.0 1464.4 1535.0 1463.4 1521.0 1462.3 1507.0 1461.2 1493.0 1460.0 1479.0 1458.8 1465.0 1457.5 1451.0 1456.1 1437.0 1454.7 1423.0 1453.2 1409.0 1451.7 1395.0 1450.1 1381.0 1448.4 1367.0 1446.6 1353.0 1444.8 1339.0 1442.9 1325.0 1440.9 1311.0 1438.8 1297.0 1436.6 1283.0 1434.3 1269.0 1432.0 1255.0 1429.5 1241.0 1427.0 1227.0 1424.4 1213.0 1421.6 1199.0 1418.8 1185.0 1415.8 1171.0 1412.8 1157.0 1409.6 1143.0 1406.4 1129.0 1403.0 1115.0 1399.5 1101.0 1395.8 1087.0 1392.0 1073.0 1388.0 1059.0 1383.9 1045.0 1379.5 1032.3 1375.3 1019.5 1371.0 1006.8 1366.5 994.1 1361.7 981.4 1356.8 968.6 1351.6 955.9 1346.2 943.2 1340.5 930.5 1334.5 917.7 1328.3 905.0 1321.8 892.3 1315.1 879.5 1308.0 867.1 1300.6 855.4 1293.4 843.8 1285.9 832.2 1277.8 820.2 1268.7 817.2 1266.3 814.2 1264.0 811.3 1261.7 808.6 1259.5 806.1 1257.5 803.8 1255.7 801.7 1254.0 800.0 1252.7 795.6 1249.1 794.5 1247.9 791.8 1245.4 788.6 1242.5 785.5 1239.7 783.2 1237.5 781.0 1235.4 778.8 1233.2 776.5 1231.0 774.2 1228.7 772.0 1226.5 769.8 1224.2 767.5 1221.8 765.2 1219.5 763.0 1217.1 760.8 1214.7 758.5 1212.2 756.2 1209.7 754.0 1207.2 751.8 1204.7 749.5 1202.2 747.2 1199.6 745.0 1197.0 742.8 1194.4 740.5 1191.8 738.2 1189.2 736.0 1186.5 733.8 1183.8 731.5 1181.2 729.2 1178.5 727.0 1175.8 724.8 1173.1 722.5 1170.3 720.2 1167.6 718.0 1164.9 715.8 1162.1 713.5 1159.4 711.2 1156.7 709.0 1153.9 706.8 1151.2 704.5 1148.4 702.2 1145.7 700.0 1143.0 697.8 1140.2 695.5 1137.5 693.2 1134.8 691.0 1132.1 688.8 1129.4 686.5 1126.7 684.2 1124.0 682.0 1121.3 679.8 1118.7 677.5 1116.1 675.2 1113.4 673.0 1110.8 670.8 1108.2 668.5 1105.6 666.2 1103.0 664.0 1100.3 661.8 1097.7 659.5 1094.9 657.2 1092.2 655.0 1089.3 652.8 1086.5 650.5 1083.5 648.2 1080.4 646.0 1077.3 643.8 1074.0 641.5 1070.7 639.7 1067.9 637.9 1065.0 636.1 1062.1 634.3 1059.1 632.5 1056.0 630.7 1052.8 628.9 1049.5 627.1 1046.1 625.3 1042.6 623.5 1039.1 622.0 1036.1 620.5 1033.1 619.0 1030.0 617.5 1026.9 616.0 1023.8 614.5 1020.6 613.0 1017.4 611.5 1014.2 610.0 1011.0 608.5 1007.7 607.0 1004.5 605.5 1001.2 604.0 997.9 602.5 994.6 601.0 991.3 599.5 988.1 598.0 984.8 596.5 981.5 595.0 978.3 593.5 975.0 592.0 971.8 590.5 968.6 589.0 965.4 587.5 962.2 586.0 959.0 584.5 955.9 583.0 952.8 581.5 949.7 580.0 946.7 578.5 943.7 577.0 940.7 575.5 937.7 574.0 934.8 572.5 932.0 571.0 929.1 569.5 926.3 567.7 923.0 565.9 919.8 564.1 916.6 562.3 913.5 560.5 910.4 558.7 907.3 556.9 904.4 555.1 901.4 553.3 898.6 551.5 895.7 549.7 892.9 547.9 890.2 546.1 887.5 544.3 884.9 542.5 882.3 540.2 879.1 538.0 875.9 535.8 872.9 533.5 869.9 531.2 866.9 529.0 864.1 526.8 861.2 524.5 858.5 522.2 855.7 520.0 853.1 517.8 850.5 515.5 847.9 513.2 845.3 511.0 842.8 508.8 840.2 506.5 837.7 504.2 835.2 502.0 832.7 499.8 830.2 497.5 827.7 495.2 825.2 493.0 822.7 490.8 820.1 488.5 817.5 486.2 814.9 484.0 812.2 481.8 809.5 479.5 806.7 477.2 803.9 475.0 801.0 472.8 798.1 470.5 795.0 468.7 792.5 466.9 790.0 465.1 787.4 463.3 784.7 461.5 782.0 459.7 779.2 457.9 776.4 456.1 773.4 454.3 770.5 452.5 767.4 450.7 764.2 448.9 761.0 447.1 757.7 445.3 754.3 443.5 750.7 442.0 747.5 440.4 744.2 438.9 740.8 437.4 737.3 435.9 733.8 434.5 730.4 433.2 727.1 432.0 723.9 430.8 720.8 429.7 717.5 428.5 714.0 427.3 710.1 426.3 706.8 425.3 703.2 424.3 699.4 423.3 695.5 422.3 691.7 421.3 687.9 420.4 684.5 419.6 681.4 418.5 677.4 417.7 674.1 416.9 671.1 416.2 668.1 415.3 664.4 414.6 661.4 413.9 658.2 413.1 654.9 412.3 651.4 411.5 647.9 410.7 644.2 409.8 640.4 409.1 637.4 408.4 634.3 407.6 631.2 406.9 628.0 406.1 624.7 405.3 621.4 404.5 618.0 403.8 614.5 403.0 611.0 402.3 607.8 401.6 604.4 400.9 601.0 400.1 597.6 399.4 594.1 398.7 590.6 398.0 587.0 397.3 583.5 396.6 580.0 396.0 576.5 395.4 573.0 394.8 569.6 394.3 566.1 393.8 562.7 393.2 559.2 392.7 555.7 392.2 552.3 391.7 548.8 391.1 545.4 390.5 541.9 389.9 538.4 389.2 534.9 388.5 531.3 387.8 527.8 387.1 524.2 386.3 520.7 385.6 517.2 384.9 513.9 384.2 510.6 383.6 507.4 382.8 503.6 382.1 500.0 381.5 496.5 380.8 493.1 380.1 489.8 379.5 486.5 378.8 483.1 378.0 479.7 377.2 476.3 376.4 472.9 375.6 469.6 374.7 466.2 373.8 462.8 373.0 459.4 372.0 455.8 371.1 452.1 370.3 449.0 369.5 445.9 368.7 442.7 367.8 439.4 366.9 436.1 366.1 432.7 365.2 429.4 364.4 426.0 363.6 422.7 362.8 419.4 362.1 416.1 361.3 412.8 360.6 409.5 359.9 406.1 359.3 402.8 358.6 399.5 357.9 396.2 357.3 392.9 356.6 389.7 355.9 386.5 355.1 383.0 354.4 379.5 353.6 376.0 352.8 372.5 352.1 369.1 351.3 365.7 350.5 362.4 349.8 359.2 349.0 356.1 348.0 352.2 347.0 348.5 346.0 345.0 345.1 341.5 344.1 338.1 343.1 334.6 342.1 331.2 341.1 327.7 340.1 324.2 339.1 320.7 338.2 317.3 337.2 314.0 336.2 310.8 335.2 307.7 334.1 304.4 333.0 301.4 331.9 298.5 330.8 295.7 329.6 292.8 328.3 289.7 327.1 286.8 325.7 283.7 324.3 280.5 322.9 277.3 321.5 274.3 320.0 271.5 318.6 269.0 316.2 265.4 313.8 262.5 311.3 260.1 308.9 257.9 305.6 255.2 302.2 253.0 299.2 251.7 295.6 252.2 292.3 253.8 288.9 255.0 285.4 256.5 282.2 257.7 278.5 260.7 276.9 262.6 275.1 265.0 273.2 267.6 271.2 270.6 269.3 273.8 267.4 277.3 266.0 280.1 264.6 283.1 263.3 286.2 261.9 289.5 260.5 292.9 259.2 296.4 257.8 300.0 256.4 303.5 255.2 306.7 253.9 310.0 252.7 313.4 251.4 316.9 250.1 320.3 248.9 323.8 247.7 327.2 246.5 330.6 245.3 333.9 244.0 337.5 242.8 340.9 241.6 344.3 240.4 347.7 239.2 351.1 238.0 354.5 236.8 358.0 235.6 361.6 234.5 364.9 233.5 368.3 232.4 371.7 231.3 375.1 230.3 378.6 229.2 382.1 228.1 385.5 227.1 389.0 226.0 392.4 224.9 395.8 223.8 399.2 222.7 402.6 221.6 406.0 220.5 409.4 219.4 412.7 218.4 416.0 217.3 419.2 216.3 422.4 215.2 425.8 214.2 429.0 213.2 432.2 212.2 435.3 211.2 438.4 210.2 441.6 209.2 444.9 208.0 448.4 207.0 451.5 205.8 454.9 204.6 458.6 203.3 462.3 202.0 466.0 200.7 469.6 199.6 473.0 198.5 476.0 197.7 478.5 197.0 480.4Z"/>
<path fill="#0000aa" d="M192.6 476.0 193.3 474.1 194.1 471.6 195.2 468.6 196.3 465.2 197.6 461.6 198.9 457.9 200.2 454.2 201.4 450.5 202.6 447.1 203.6 444.0 204.8 440.5 205.8 437.2 206.8 434.0 207.8 430.9 208.8 427.8 209.8 424.6 210.8 421.4 211.9 418.0 212.9 414.8 214.0 411.6 215.0 408.3 216.1 405.0 217.2 401.6 218.3 398.2 219.4 394.8 220.5 391.4 221.6 388.0 222.7 384.6 223.7 381.1 224.8 377.7 225.9 374.2 226.9 370.7 228.0 367.3 229.1 363.9 230.1 360.5 231.2 357.2 232.4 353.6 233.6 350.1 234.8 346.7 236.0 343.3 237.2 339.9 238.4 336.5 239.6 333.1 240.9 329.5 242.1 326.2 243.3 322.8 244.5 319.4 245.7 315.9 247.0 312.5 248.3 309.0 249.5 305.6 250.8 302.3 252.0 299.1 253.4 295.6 254.8 292.0 256.1 288.5 257.5 285.1 258.9 281.8 260.2 278.7 261.6 275.7 263.0 272.9 264.9 269.4 266.8 266.2 268.8 263.2 270.7 260.6 272.5 258.2 274.1 256.3 277.8 253.3 281.0 252.1 284.5 250.6 287.9 249.4 291.2 247.8 294.8 247.3 303.6 247.3 300.0 247.8 296.7 249.4 293.2 250.6 289.8 252.1 286.6 253.3 282.9 256.3 281.3 258.2 279.5 260.6 277.6 263.2 275.6 266.2 273.7 269.4 271.8 272.9 270.4 275.7 269.0 278.7 267.7 281.8 266.3 285.1 264.9 288.5 263.6 292.0 262.2 295.6 260.8 299.1 259.6 302.3 258.3 305.6 257.1 309.0 255.8 312.5 254.5 315.9 253.3 319.4 252.1 322.8 250.9 326.2 249.7 329.5 248.4 333.1 247.2 336.5 246.0 339.9 244.8 343.3 243.6 346.7 242.4 350.1 241.2 353.6 240.0 357.2 238.9 360.5 237.9 363.9 236.8 367.3 235.7 370.7 234.7 374.2 233.6 377.7 232.5 381.1 231.5 384.6 230.4 388.0 229.3 391.4 228.2 394.8 227.1 398.2 226.0 401.6 224.9 405.0 223.8 408.3 222.8 411.6 221.7 414.8 220.7 418.0 219.6 421.4 218.6 424.6 217.6 427.8 216.6 430.9 215.6 434.0 214.6 437.2 213.6 440.5 212.4 444.0 211.4 447.1 210.2 450.5 209.0 454.2 207.7 457.9 206.4 461.6 205.1 465.2 204.0 468.6 202.9 471.6 202.1 474.1 201.4 476.0Z"/>
<path fill="#0000aa" d="M294.8 247.3 297.8 248.6 301.2 250.8 304.5 253.5 306.9 255.7 309.4 258.1 311.8 261.0 314.2 264.6 315.6 267.1 317.1 269.9 318.5 272.9 319.9 276.1 321.3 279.3 322.7 282.4 323.9 285.3 325.2 288.4 326.4 291.3 327.5 294.1 328.6 297.0 329.7 300.0 330.8 303.3 331.8 306.4 332.8 309.6 333.8 312.9 334.7 316.3 335.7 319.8 336.7 323.3 337.7 326.8 338.7 330.2 339.7 333.7 340.7 337.1 341.6 340.6 342.6 344.1 343.6 347.8 344.6 351.7 345.4 354.8 346.1 358.0 346.9 361.3 347.7 364.7 348.4 368.1 349.2 371.6 350.0 375.1 350.7 378.6 351.5 382.1 352.2 385.3 352.9 388.5 353.5 391.8 354.2 395.1 354.9 398.4 355.5 401.7 356.2 405.1 356.9 408.4 357.7 411.7 358.4 415.0 359.2 418.3 360.0 421.6 360.8 425.0 361.7 428.3 362.6 431.7 363.4 435.0 364.3 438.3 365.1 441.5 365.9 444.6 366.7 447.7 367.6 451.4 368.6 455.0 369.4 458.4 370.3 461.8 371.2 465.2 372.0 468.5 372.8 471.9 373.6 475.3 374.4 478.7 375.1 482.1 375.7 485.4 376.4 488.7 377.1 492.1 377.7 495.6 378.4 499.2 379.2 503.0 379.8 506.2 380.5 509.5 381.2 512.8 381.9 516.3 382.7 519.8 383.4 523.4 384.1 526.9 384.8 530.5 385.5 534.0 386.1 537.5 386.7 541.0 387.3 544.4 387.8 547.9 388.3 551.3 388.8 554.8 389.4 558.3 389.9 561.7 390.4 565.2 391.0 568.6 391.6 572.1 392.2 575.6 392.9 579.1 393.6 582.6 394.3 586.2 395.0 589.7 395.7 593.2 396.5 596.6 397.2 600.0 397.9 603.4 398.6 606.6 399.4 610.1 400.1 613.6 400.9 617.0 401.7 620.3 402.5 623.6 403.2 626.8 404.0 629.9 404.7 633.0 405.4 636.0 406.3 639.8 407.1 643.5 407.9 647.0 408.7 650.5 409.5 653.8 410.2 657.0 410.9 660.0 411.8 663.7 412.5 666.7 413.3 669.7 414.1 673.0 415.2 677.0 416.0 680.1 416.9 683.5 417.9 687.3 418.9 691.1 419.9 695.0 420.9 698.8 421.9 702.4 422.9 705.7 424.1 709.6 425.3 713.1 426.4 716.4 427.6 719.5 428.8 722.7 430.1 726.0 431.5 729.4 433.0 732.9 434.5 736.4 436.0 739.8 437.6 743.1 439.1 746.3 440.9 749.9 442.7 753.3 444.5 756.6 446.3 759.8 448.1 763.0 449.9 766.1 451.7 769.0 453.5 772.0 455.3 774.8 457.1 777.6 458.9 780.3 460.7 783.0 462.5 785.6 464.3 788.1 466.1 790.6 468.4 793.7 470.6 796.6 472.9 799.5 475.1 802.3 477.4 805.1 479.6 807.8 481.9 810.5 484.1 813.1 486.4 815.7 488.6 818.3 490.9 820.8 493.1 823.3 495.4 825.8 497.6 828.3 499.9 830.8 502.1 833.3 504.4 835.8 506.6 838.4 508.9 840.9 511.1 843.5 513.4 846.1 515.6 848.7 517.9 851.3 520.1 854.1 522.4 856.8 524.6 859.7 526.9 862.5 529.1 865.5 531.4 868.5 533.6 871.5 535.9 874.7 538.1 877.9 539.9 880.5 541.7 883.1 543.5 885.8 545.3 888.5 547.1 891.3 548.9 894.2 550.7 897.0 552.5 900.0 554.3 902.9 556.1 906.0 557.9 909.1 559.7 912.2 561.5 915.4 563.3 918.6 565.1 921.9 566.6 924.7 568.1 927.6 569.6 930.4 571.1 933.3 572.6 936.3 574.1 939.3 575.6 942.3 577.1 945.3 578.6 948.4 580.1 951.5 581.6 954.6 583.1 957.8 584.6 961.0 586.1 964.2 587.6 967.4 589.1 970.6 590.6 973.9 592.1 977.1 593.6 980.4 595.1 983.7 596.6 986.9 598.1 990.2 599.6 993.5 601.1 996.8 602.6 1000.1 604.1 1003.3 605.6 1006.6 607.1 1009.8 608.6 1013.0 610.1 1016.2 611.6 1019.4 613.1 1022.5 614.6 1025.6 616.1 1028.7 617.6 1031.7 619.1 1034.7 620.9 1038.2 622.7 1041.7 624.5 1045.1 626.3 1048.4 628.1 1051.6 629.9 1054.7 631.7 1057.7 633.5 1060.6 635.3 1063.5 637.1 1066.3 639.4 1069.6 641.6 1072.9 643.9 1076.0 646.1 1079.1 648.4 1082.1 650.6 1084.9 652.9 1087.8 655.1 1090.5 657.4 1093.3 659.6 1095.9 661.9 1098.6 664.1 1101.2 666.4 1103.8 668.6 1106.4 670.9 1109.0 673.1 1111.7 675.4 1114.3 677.6 1116.9 679.9 1119.6 682.1 1122.3 684.4 1125.0 686.6 1127.7 688.9 1130.4 691.1 1133.1 693.4 1135.8 695.6 1138.6 697.9 1141.3 700.1 1144.0 702.4 1146.8 704.6 1149.5 706.9 1152.3 709.1 1155.0 711.4 1157.7 713.6 1160.5 715.9 1163.2 718.1 1165.9 720.4 1168.7 722.6 1171.4 724.9 1174.1 727.1 1176.8 729.4 1179.4 731.6 1182.1 733.9 1184.8 736.1 1187.4 738.4 1190.0 740.6 1192.6 742.9 1195.2 745.1 1197.8 747.4 1200.3 749.6 1202.8 751.9 1205.3 754.1 1207.8 756.4 1210.3 758.6 1212.7 760.9 1215.1 763.1 1217.4 765.4 1219.8 767.6 1222.1 769.9 1224.3 772.1 1226.6 774.4 1228.8 776.6 1231.0 778.9 1233.1 781.1 1235.3 784.2 1238.1 787.4 1241.0 790.1 1243.5 791.2 1244.7 795.6 1248.3 797.3 1249.6 799.4 1251.3 801.7 1253.1 804.2 1255.1 806.9 1257.3 809.8 1259.6 812.8 1261.9 815.8 1264.3 827.8 1273.4 839.4 1281.5 851.0 1289.0 862.7 1296.2 875.1 1303.6 887.9 1310.7 900.6 1317.4 913.3 1323.9 926.1 1330.1 938.8 1336.1 951.5 1341.8 964.2 1347.2 977.0 1352.4 989.7 1357.3 1002.4 1362.1 1015.1 1366.6 1027.9 1370.9 1040.6 1375.1 1054.6 1379.5 1068.6 1383.6 1082.6 1387.6 1096.6 1391.4 1110.6 1395.1 1124.6 1398.6 1138.6 1402.0 1152.6 1405.2 1166.6 1408.4 1180.6 1411.4 1194.6 1414.4 1208.6 1417.2 1222.6 1420.0 1236.6 1422.6 1250.6 1425.1 1264.6 1427.6 1278.6 1429.9 1292.6 1432.2 1306.6 1434.4 1320.6 1436.5 1334.6 1438.5 1348.6 1440.4 1362.6 1442.2 1376.6 1444.0 1390.6 1445.7 1404.6 1447.3 1418.6 1448.8 1432.6 1450.3 1446.6 1451.7 1460.6 1453.1 1474.6 1454.4 1488.6 1455.6 1502.6 1456.8 1516.6 1457.9 1530.6 1459.0 1544.6 1460.0 1558.6 1461.0 1572.6 1461.9 1586.6 1462.8 1600.6 1463.7 1614.6 1464.5 1628.6 1465.3 1642.6 1466.0 1656.6 1466.8 1670.6 1467.4 1684.6 1468.1 1698.6 1468.8 1712.6 1469.4 1726.6 1470.0 1740.6 1470.6 1754.6 1471.2 1768.6 1471.7 1782.6 1472.3 1796.6 1472.9 1810.6 1473.4 1824.6 1474.0 1838.6 1474.5 1852.6 1475.1 1866.6 1475.6 1880.6 1476.2 1894.6 1476.8 1908.6 1477.4 1922.6 1478.0 1936.6 1478.6 1950.6 1479.2 1964.6 1479.9 1978.6 1480.6 1992.6 1481.3 2006.6 1482.0 2020.6 1482.8 2035.8 1483.7 2050.1 1484.6 2064.6 1485.5 2066.6 1485.6 2075.4 1485.6 2073.4 1485.5 2058.9 1484.6 2044.6 1483.7 2029.4 1482.8 2015.4 1482.0 2001.4 1481.3 1987.4 1480.6 1973.4 1479.9 1959.4 1479.2 1945.4 1478.6 1931.4 1478.0 1917.4 1477.4 1903.4 1476.8 1889.4 1476.2 1875.4 1475.6 1861.4 1475.1 1847.4 1474.5 1833.4 1474.0 1819.4 1473.4 1805.4 1472.9 1791.4 1472.3 1777.4 1471.7 1763.4 1471.2 1749.4 1470.6 1735.4 1470.0 1721.4 1469.4 1707.4 1468.8 1693.4 1468.1 1679.4 1467.4 1665.4 1466.8 1651.4 1466.0 1637.4 1465.3 1623.4 1464.5 1609.4 1463.7 1595.4 1462.8 1581.4 1461.9 1567.4 1461.0 1553.4 1460.0 1539.4 1459.0 1525.4 1457.9 1511.4 1456.8 1497.4 1455.6 1483.4 1454.4 1469.4 1453.1 1455.4 1451.7 1441.4 1450.3 1427.4 1448.8 1413.4 1447.3 1399.4 1445.7 1385.4 1444.0 1371.4 1442.2 1357.4 1440.4 1343.4 1438.5 1329.4 1436.5 1315.4 1434.4 1301.4 1432.2 1287.4 1429.9 1273.4 1427.6 1259.4 1425.1 1245.4 1422.6 1231.4 1420.0 1217.4 1417.2 1203.4 1414.4 1189.4 1411.4 1175.4 1408.4 1161.4 1405.2 1147.4 1402.0 1133.4 1398.6 1119.4 1395.1 1105.4 1391.4 1091.4 1387.6 1077.4 1383.6 1063.4 1379.5 1049.4 1375.1 1036.7 1370.9 1023.9 1366.6 1011.2 1362.1 998.5 1357.3 985.8 1352.4 973.0 1347.2 960.3 1341.8 947.6 1336.1 934.9 1330.1 922.1 1323.9 909.4 1317.4 896.7 1310.7 883.9 1303.6 871.5 1296.2 859.8 1289.0 848.1 1281.5 836.6 1273.4 824.6 1264.3 821.6 1261.9 818.6 1259.6 815.7 1257.3 813.0 1255.1 810.5 1253.1 808.2 1251.3 806.1 1249.6 804.4 1248.3 800.0 1244.7 798.9 1243.5 796.2 1241.0 793.0 1238.1 789.9 1235.3 787.6 1233.1 785.4 1231.0 783.1 1228.8 780.9 1226.6 778.6 1224.3 776.4 1222.1 774.1 1219.8 771.9 1217.4 769.6 1215.1 767.4 1212.7 765.1 1210.3 762.9 1207.8 760.6 1205.3 758.4 1202.8 756.1 1200.3 753.9 1197.8 751.6 1195.2 749.4 1192.6 747.1 1190.0 744.9 1187.4 742.6 1184.8 740.4 1182.1 738.1 1179.4 735.9 1176.8 733.6 1174.1 731.4 1171.4 729.1 1168.7 726.9 1165.9 724.6 1163.2 722.4 1160.5 720.1 1157.7 717.9 1155.0 715.6 1152.3 713.4 1149.5 711.1 1146.8 708.9 1144.0 706.6 1141.3 704.4 1138.6 702.1 1135.8 699.9 1133.1 697.6 1130.4 695.4 1127.7 693.1 1125.0 690.9 1122.3 688.6 1119.6 686.4 1116.9 684.1 1114.3 681.9 1111.7 679.6 1109.0 677.4 1106.4 675.1 1103.8 672.9 1101.2 670.6 1098.6 668.4 1095.9 666.1 1093.3 663.9 1090.5 661.6 1087.8 659.4 1084.9 657.1 1082.1 654.9 1079.1 652.6 1076.0 650.4 1072.9 648.1 1069.6 645.9 1066.3 644.1 1063.5 642.3 1060.6 640.5 1057.7 638.7 1054.7 636.9 1051.6 635.1 1048.4 633.3 1045.1 631.5 1041.7 629.7 1038.2 627.9 1034.7 626.4 1031.7 624.9 1028.7 623.4 1025.6 621.9 1022.5 620.4 1019.4 618.9 1016.2 617.4 1013.0 615.9 1009.8 614.4 1006.6 612.9 1003.3 611.4 1000.1 609.9 996.8 608.4 993.5 606.9 990.2 605.4 986.9 603.9 983.7 602.4 980.4 600.9 977.1 599.4 973.9 597.9 970.6 596.4 967.4 594.9 964.2 593.4 961.0 591.9 957.8 590.4 954.6 588.9 951.5 587.4 948.4 585.9 945.3 584.4 942.3 582.9 939.3 581.4 936.3 579.9 933.3 578.4 930.4 576.9 927.6 575.4 924.7 573.9 921.9 572.1 918.6 570.3 915.4 568.5 912.2 566.7 909.1 564.9 906.0 563.1 902.9 561.3 900.0 559.5 897.0 557.7 894.2 555.9 891.3 554.1 888.5 552.3 885.8 550.5 883.1 548.7 880.5 546.9 877.9 544.6 874.7 542.4 871.5 540.1 868.5 537.9 865.5 535.6 862.5 533.4 859.7 531.1 856.8 528.9 854.1 526.6 851.3 524.4 848.7 522.1 846.1 519.9 843.5 517.6 840.9 515.4 838.4 513.1 835.8 510.9 833.3 508.6 830.8 506.4 828.3 504.1 825.8 501.9 823.3 499.6 820.8 497.4 818.3 495.1 815.7 492.9 813.1 490.6 810.5 488.4 807.8 486.1 805.1 483.9 802.3 481.6 799.5 479.4 796.6 477.1 793.7 474.9 790.6 473.1 788.1 471.3 785.6 469.5 783.0 467.7 780.3 465.9 777.6 464.1 774.8 462.3 772.0 460.5 769.0 458.7 766.1 456.9 763.0 455.1 759.8 453.3 756.6 451.5 753.3 449.7 749.9 447.9 746.3 446.4 743.1 444.8 739.8 443.3 736.4 441.8 732.9 440.3 729.4 438.9 726.0 437.6 722.7 436.4 719.5 435.2 716.4 434.1 713.1 432.9 709.6 431.7 705.7 430.7 702.4 429.7 698.8 428.7 695.0 427.7 691.1 426.7 687.3 425.7 683.5 424.8 680.1 424.0 677.0 422.9 673.0 422.1 669.7 421.3 666.7 420.6 663.7 419.7 660.0 419.0 657.0 418.3 653.8 417.5 650.5 416.7 647.0 415.9 643.5 415.1 639.8 414.2 636.0 413.5 633.0 412.8 629.9 412.0 626.8 411.3 623.6 410.5 620.3 409.7 617.0 408.9 613.6 408.2 610.1 407.4 606.6 406.7 603.4 406.0 600.0 405.3 596.6 404.5 593.2 403.8 589.7 403.1 586.2 402.4 582.6 401.7 579.1 401.0 575.6 400.4 572.1 399.8 568.6 399.2 565.2 398.7 561.7 398.2 558.3 397.6 554.8 397.1 551.3 396.6 547.9 396.1 544.4 395.5 541.0 394.9 537.5 394.3 534.0 393.6 530.5 392.9 526.9 392.2 523.4 391.5 519.8 390.7 516.3 390.0 512.8 389.3 509.5 388.6 506.2 388.0 503.0 387.2 499.2 386.5 495.6 385.9 492.1 385.2 488.7 384.5 485.4 383.9 482.1 383.2 478.7 382.4 475.3 381.6 471.9 380.8 468.5 380.0 465.2 379.1 461.8 378.2 458.4 377.4 455.0 376.4 451.4 375.5 447.7 374.7 444.6 373.9 441.5 373.1 438.3 372.2 435.0 371.3 431.7 370.5 428.3 369.6 425.0 368.8 421.6 368.0 418.3 367.2 415.0 366.5 411.7 365.7 408.4 365.0 405.1 364.3 401.7 363.7 398.4 363.0 395.1 362.3 391.8 361.7 388.5 361.0 385.3 360.3 382.1 359.5 378.6 358.8 375.1 358.0 371.6 357.2 368.1 356.5 364.7 355.7 361.3 354.9 358.0 354.2 354.8 353.4 351.7 352.4 347.8 351.4 344.1 350.4 340.6 349.5 337.1 348.5 333.7 347.5 330.2 346.5 326.8 345.5 323.3 344.5 319.8 343.5 316.3 342.6 312.9 341.6 309.6 340.6 306.4 339.6 303.3 338.5 300.0 337.4 297.0 336.3 294.1 335.2 291.3 334.0 288.4 332.7 285.3 331.5 282.4 330.1 279.3 328.7 276.1 327.3 272.9 325.9 269.9 324.4 267.1 323.0 264.6 320.6 261.0 318.1 258.1 315.7 255.7 313.3 253.5 310.0 250.8 306.6 248.6 303.6 247.3Z"/>
<path fill="#008000" d="M197.0 532.6 198.3 529.0 199.0 526.9 199.9 524.4 200.8 521.5 201.9 518.3 203.1 514.8 204.3 511.2 205.6 507.4 206.9 503.7 208.2 500.0 209.5 496.4 210.7 493.0 211.9 489.7 213.2 486.4 214.5 483.0 215.8 479.7 217.1 476.3 218.4 473.0 219.7 469.7 221.0 466.4 222.2 463.2 223.4 460.1 224.6 457.1 225.9 453.5 227.2 450.1 228.4 446.8 229.6 443.5 230.8 440.3 231.9 437.2 233.1 434.0 234.3 430.8 235.6 427.6 236.9 424.3 238.3 420.9 239.8 417.5 241.2 414.1 242.7 410.7 244.1 407.4 245.5 404.3 246.8 401.2 248.1 398.4 249.9 394.5 251.5 391.0 253.1 387.8 254.6 384.7 256.1 381.7 257.7 378.6 259.3 375.5 260.9 372.4 262.5 369.4 264.1 366.5 265.7 363.7 267.4 361.1 269.6 358.1 271.9 355.3 274.2 352.8 276.4 350.5 278.5 348.6 281.5 346.6 284.1 345.5 286.8 344.5 289.6 343.4 292.4 342.5 295.1 341.7 298.6 340.5 302.0 340.4 304.7 341.6 307.5 343.5 310.3 345.9 312.4 347.9 314.4 350.1 316.5 352.6 318.6 355.6 320.3 358.5 322.0 361.9 323.7 365.5 325.3 369.0 326.9 372.2 328.8 375.7 330.6 378.9 332.3 381.9 333.8 384.6 335.6 387.2 337.2 389.4 338.6 392.6 339.3 395.3 339.8 398.4 340.3 401.9 341.0 405.9 342.1 410.6 342.8 413.3 343.7 416.3 344.6 419.5 345.6 422.9 346.7 426.3 347.7 429.9 348.8 433.4 349.9 436.9 350.9 440.2 351.8 443.3 352.9 446.9 354.0 450.4 355.0 453.7 356.0 457.0 357.0 460.3 358.1 463.6 359.1 467.1 360.1 470.9 360.9 474.1 361.8 477.5 362.6 481.0 363.4 484.6 364.3 488.2 365.1 491.8 365.9 495.4 366.7 498.9 367.6 502.3 368.4 505.5 369.4 509.3 370.5 512.9 371.6 516.4 372.7 519.7 373.7 523.1 374.7 526.4 375.7 529.7 376.6 533.1 377.4 536.6 378.2 540.0 378.9 543.5 379.6 547.0 380.3 550.4 380.9 553.9 381.6 557.3 382.3 560.8 383.0 564.3 383.8 567.7 384.5 571.2 385.2 574.6 386.0 578.0 386.8 581.5 387.5 584.9 388.3 588.4 389.1 591.9 389.9 595.3 390.7 598.8 391.6 602.2 392.4 605.7 393.2 609.2 394.1 612.6 394.9 616.1 395.7 619.6 396.5 623.0 397.3 626.5 398.2 629.9 399.0 633.4 399.8 636.8 400.6 640.3 401.5 643.7 402.4 647.1 403.3 650.5 404.2 653.9 405.1 657.3 406.0 660.7 407.0 664.1 407.9 667.5 408.8 670.9 409.7 674.4 410.6 678.0 411.6 681.6 412.5 685.3 413.4 688.8 414.3 692.3 415.2 695.6 416.0 698.6 417.0 702.2 417.9 705.4 418.8 708.3 419.7 711.1 420.7 714.2 422.0 717.6 423.2 720.5 424.5 723.6 425.9 726.8 427.4 730.2 428.9 733.5 430.4 736.7 431.9 739.8 433.2 742.7 434.8 746.2 436.4 749.5 437.8 752.6 439.3 755.6 440.7 758.6 442.2 761.6 443.7 764.7 445.2 767.7 446.7 770.8 448.2 773.8 449.7 776.7 451.2 779.6 453.0 782.9 454.8 786.2 456.6 789.3 458.4 792.4 460.2 795.4 462.0 798.4 463.8 801.3 465.6 804.1 467.4 806.8 469.2 809.5 471.4 812.9 473.7 816.1 476.0 819.2 478.2 822.3 480.4 825.3 482.7 828.3 485.0 831.2 487.2 834.0 489.4 836.9 491.7 839.7 494.0 842.4 496.2 845.2 498.4 847.9 500.7 850.7 503.0 853.4 505.2 856.1 507.4 858.9 509.7 861.7 512.0 864.4 514.2 867.3 516.5 870.1 518.7 873.0 521.0 875.9 523.2 878.8 525.5 881.8 527.7 884.8 530.0 887.8 532.2 890.9 534.5 894.0 536.7 897.1 539.0 900.3 541.2 903.4 543.0 906.0 544.8 908.6 546.6 911.3 548.4 913.9 550.2 916.6 552.0 919.3 553.8 922.0 555.6 924.7 557.4 927.5 559.2 930.3 561.0 933.2 562.8 936.0 564.6 938.9 566.4 941.8 568.2 944.8 570.0 947.8 571.8 950.8 573.6 953.9 575.4 957.0 577.2 960.2 579.0 963.4 580.8 966.7 582.6 970.0 584.4 973.3 586.2 976.7 587.7 979.6 589.2 982.5 590.7 985.4 592.2 988.4 593.7 991.3 595.2 994.3 596.7 997.3 598.2 1000.3 599.7 1003.3 601.2 1006.4 602.7 1009.4 604.2 1012.3 605.7 1015.3 607.2 1018.3 608.7 1021.2 610.2 1024.2 611.7 1027.0 613.2 1029.9 615.0 1033.2 616.8 1036.5 618.6 1039.8 620.4 1042.9 622.2 1046.0 624.0 1048.9 625.8 1051.8 627.6 1054.6 629.4 1057.3 631.2 1059.9 633.5 1063.0 635.7 1066.0 638.0 1068.9 640.2 1071.8 642.5 1074.5 644.7 1077.2 647.0 1079.8 649.2 1082.4 651.5 1085.0 653.7 1087.5 656.0 1090.0 658.2 1092.6 660.5 1095.1 662.7 1097.7 665.0 1100.3 667.2 1103.0 669.5 1105.7 671.7 1108.5 674.0 1111.3 676.2 1114.2 678.5 1117.2 680.7 1120.2 683.0 1123.3 685.2 1126.4 687.5 1129.4 689.7 1132.5 692.0 1135.7 694.2 1138.7 696.5 1141.8 698.7 1144.8 701.0 1147.9 703.2 1150.8 705.5 1153.7 707.7 1156.6 710.0 1159.3 712.2 1162.0 714.5 1164.6 716.7 1167.1 719.0 1169.5 721.2 1171.7 724.2 1174.6 727.2 1177.2 730.2 1179.8 733.2 1182.3 736.2 1184.6 739.2 1187.1 742.2 1189.6 745.2 1192.2 748.2 1194.8 751.2 1197.5 754.2 1200.3 757.2 1203.1 759.5 1205.2 761.7 1207.3 764.0 1209.4 766.2 1211.5 768.5 1213.6 770.7 1215.7 773.0 1217.8 775.2 1219.9 778.2 1222.6 781.2 1225.3 784.2 1227.9 787.3 1230.6 790.4 1233.2 793.2 1235.6 794.6 1236.9 795.7 1237.9 800.0 1241.2 801.9 1242.6 804.2 1244.3 806.8 1246.3 809.6 1248.4 812.6 1250.7 815.7 1253.0 819.0 1255.4 822.3 1257.9 835.0 1266.9 846.7 1274.5 858.3 1281.7 870.0 1288.5 882.7 1295.5 895.5 1302.1 908.2 1308.4 920.9 1314.4 933.6 1320.1 946.4 1325.7 959.1 1331.1 971.8 1336.2 984.5 1341.2 997.3 1346.0 1010.0 1350.6 1022.7 1355.1 1035.5 1359.4 1048.5 1363.6 1062.5 1368.0 1076.5 1372.2 1090.5 1376.2 1104.5 1380.1 1118.5 1383.8 1132.5 1387.4 1146.5 1390.9 1160.5 1394.2 1174.5 1397.5 1188.5 1400.6 1202.5 1403.6 1216.5 1406.5 1230.5 1409.3 1244.5 1412.0 1258.5 1414.6 1272.5 1417.1 1286.5 1419.4 1300.5 1421.7 1314.5 1423.9 1328.5 1426.0 1342.5 1428.1 1356.5 1430.0 1370.5 1431.9 1384.5 1433.6 1398.5 1435.3 1412.5 1437.0 1426.5 1438.5 1440.5 1440.0 1454.5 1441.4 1468.5 1442.8 1482.5 1444.1 1496.5 1445.3 1510.5 1446.5 1524.5 1447.6 1538.5 1448.7 1552.5 1449.8 1566.5 1450.7 1580.5 1451.7 1594.5 1452.6 1608.5 1453.5 1622.5 1454.3 1636.5 1455.1 1650.5 1455.9 1664.5 1456.6 1678.5 1457.3 1692.5 1458.0 1706.5 1458.7 1720.5 1459.4 1734.5 1460.0 1748.5 1460.7 1762.5 1461.3 1776.5 1461.9 1790.5 1462.5 1804.5 1463.1 1818.5 1463.8 1832.5 1464.4 1846.5 1465.0 1860.5 1465.6 1874.5 1466.3 1888.5 1467.0 1902.5 1467.6 1916.5 1468.3 1930.5 1469.1 1944.5 1469.8 1958.5 1470.6 1972.5 1471.4 1986.5 1472.2 2000.5 1473.1 2014.5 1474.0 2028.6 1475.0 2044.0 1476.1 2057.5 1477.1 2071.0 1478.2 2071.0 1487.0 2057.5 1485.9 2044.0 1484.9 2028.6 1483.8 2014.5 1482.8 2000.5 1481.9 1986.5 1481.0 1972.5 1480.2 1958.5 1479.4 1944.5 1478.6 1930.5 1477.9 1916.5 1477.1 1902.5 1476.4 1888.5 1475.8 1874.5 1475.1 1860.5 1474.4 1846.5 1473.8 1832.5 1473.2 1818.5 1472.6 1804.5 1471.9 1790.5 1471.3 1776.5 1470.7 1762.5 1470.1 1748.5 1469.5 1734.5 1468.8 1720.5 1468.2 1706.5 1467.5 1692.5 1466.8 1678.5 1466.1 1664.5 1465.4 1650.5 1464.7 1636.5 1463.9 1622.5 1463.1 1608.5 1462.3 1594.5 1461.4 1580.5 1460.5 1566.5 1459.5 1552.5 1458.6 1538.5 1457.5 1524.5 1456.4 1510.5 1455.3 1496.5 1454.1 1482.5 1452.9 1468.5 1451.6 1454.5 1450.2 1440.5 1448.8 1426.5 1447.3 1412.5 1445.8 1398.5 1444.1 1384.5 1442.4 1370.5 1440.7 1356.5 1438.8 1342.5 1436.9 1328.5 1434.8 1314.5 1432.7 1300.5 1430.5 1286.5 1428.2 1272.5 1425.9 1258.5 1423.4 1244.5 1420.8 1230.5 1418.1 1216.5 1415.3 1202.5 1412.4 1188.5 1409.4 1174.5 1406.3 1160.5 1403.0 1146.5 1399.7 1132.5 1396.2 1118.5 1392.6 1104.5 1388.9 1090.5 1385.0 1076.5 1381.0 1062.5 1376.8 1048.5 1372.4 1035.5 1368.2 1022.7 1363.9 1010.0 1359.4 997.3 1354.8 984.5 1350.0 971.8 1345.0 959.1 1339.9 946.4 1334.5 933.6 1328.9 920.9 1323.2 908.2 1317.2 895.5 1310.9 882.7 1304.3 870.0 1297.3 858.3 1290.5 846.7 1283.3 835.0 1275.7 822.3 1266.7 819.0 1264.2 815.7 1261.8 812.6 1259.5 809.6 1257.2 806.8 1255.1 804.2 1253.1 801.9 1251.4 800.0 1250.0 795.7 1246.7 794.6 1245.7 793.2 1244.4 790.4 1242.0 787.3 1239.4 784.2 1236.7 781.2 1234.1 778.2 1231.4 775.2 1228.7 773.0 1226.6 770.7 1224.5 768.5 1222.4 766.2 1220.3 764.0 1218.2 761.7 1216.1 759.5 1214.0 757.2 1211.9 754.2 1209.1 751.2 1206.3 748.2 1203.6 745.2 1201.0 742.2 1198.4 739.2 1195.9 736.2 1193.4 733.2 1191.1 730.2 1188.6 727.2 1186.0 724.2 1183.4 721.2 1180.5 719.0 1178.3 716.7 1175.9 714.5 1173.4 712.2 1170.8 710.0 1168.1 707.7 1165.4 705.5 1162.5 703.2 1159.6 701.0 1156.7 698.7 1153.6 696.5 1150.6 694.2 1147.5 692.0 1144.5 689.7 1141.3 687.5 1138.2 685.2 1135.2 683.0 1132.1 680.7 1129.0 678.5 1126.0 676.2 1123.0 674.0 1120.1 671.7 1117.3 669.5 1114.5 667.2 1111.8 665.0 1109.1 662.7 1106.5 660.5 1103.9 658.2 1101.4 656.0 1098.8 653.7 1096.3 651.5 1093.8 649.2 1091.2 647.0 1088.6 644.7 1086.0 642.5 1083.3 640.2 1080.6 638.0 1077.7 635.7 1074.8 633.5 1071.8 631.2 1068.7 629.4 1066.1 627.6 1063.4 625.8 1060.6 624.0 1057.7 622.2 1054.8 620.4 1051.7 618.6 1048.6 616.8 1045.3 615.0 1042.0 613.2 1038.7 611.7 1035.8 610.2 1033.0 608.7 1030.0 607.2 1027.1 605.7 1024.1 604.2 1021.1 602.7 1018.2 601.2 1015.2 599.7 1012.1 598.2 1009.1 596.7 1006.1 595.2 1003.1 593.7 1000.1 592.2 997.2 590.7 994.2 589.2 991.3 587.7 988.4 586.2 985.5 584.4 982.1 582.6 978.8 580.8 975.5 579.0 972.2 577.2 969.0 575.4 965.8 573.6 962.7 571.8 959.6 570.0 956.6 568.2 953.6 566.4 950.6 564.6 947.7 562.8 944.8 561.0 942.0 559.2 939.1 557.4 936.3 555.6 933.5 553.8 930.8 552.0 928.1 550.2 925.4 548.4 922.7 546.6 920.1 544.8 917.4 543.0 914.8 541.2 912.2 539.0 909.1 536.7 905.9 534.5 902.8 532.2 899.7 530.0 896.6 527.7 893.6 525.5 890.6 523.2 887.6 521.0 884.7 518.7 881.8 516.5 878.9 514.2 876.1 512.0 873.2 509.7 870.5 507.4 867.7 505.2 864.9 503.0 862.2 500.7 859.5 498.4 856.7 496.2 854.0 494.0 851.2 491.7 848.5 489.4 845.7 487.2 842.8 485.0 840.0 482.7 837.1 480.4 834.1 478.2 831.1 476.0 828.0 473.7 824.9 471.4 821.7 469.2 818.3 467.4 815.6 465.6 812.9 463.8 810.1 462.0 807.2 460.2 804.2 458.4 801.2 456.6 798.1 454.8 795.0 453.0 791.7 451.2 788.4 449.7 785.5 448.2 782.6 446.7 779.6 445.2 776.5 443.7 773.5 442.2 770.4 440.7 767.4 439.3 764.4 437.8 761.4 436.4 758.3 434.8 755.0 433.2 751.5 431.9 748.6 430.4 745.5 428.9 742.3 427.4 739.0 425.9 735.6 424.5 732.4 423.2 729.3 422.0 726.4 420.7 723.0 419.7 719.9 418.8 717.1 417.9 714.2 417.0 711.0 416.0 707.4 415.2 704.4 414.3 701.1 413.4 697.6 412.5 694.1 411.6 690.4 410.6 686.8 409.7 683.2 408.8 679.7 407.9 676.3 407.0 672.9 406.0 669.5 405.1 666.1 404.2 662.7 403.3 659.3 402.4 655.9 401.5 652.5 400.6 649.1 399.8 645.6 399.0 642.2 398.2 638.7 397.3 635.3 396.5 631.8 395.7 628.4 394.9 624.9 394.1 621.4 393.2 618.0 392.4 614.5 391.6 611.0 390.7 607.6 389.9 604.1 389.1 600.7 388.3 597.2 387.5 593.7 386.8 590.3 386.0 586.8 385.2 583.4 384.5 580.0 383.8 576.5 383.0 573.1 382.3 569.6 381.6 566.1 380.9 562.7 380.3 559.2 379.6 555.8 378.9 552.3 378.2 548.8 377.4 545.4 376.6 541.9 375.7 538.5 374.7 535.2 373.7 531.9 372.7 528.5 371.6 525.2 370.5 521.7 369.4 518.1 368.4 514.3 367.6 511.1 366.7 507.7 365.9 504.2 365.1 500.6 364.3 497.0 363.4 493.4 362.6 489.8 361.8 486.3 360.9 482.9 360.1 479.7 359.1 475.9 358.1 472.4 357.0 469.1 356.0 465.8 355.0 462.5 354.0 459.2 352.9 455.7 351.8 452.1 350.9 449.0 349.9 445.7 348.8 442.2 347.7 438.7 346.7 435.1 345.6 431.7 344.6 428.3 343.7 425.1 342.8 422.1 342.1 419.4 341.0 414.7 340.3 410.7 339.8 407.2 339.3 404.1 338.6 401.4 337.2 398.2 335.6 396.0 333.8 393.4 332.3 390.7 330.6 387.7 328.8 384.5 326.9 381.0 325.3 377.8 323.7 374.3 322.0 370.7 320.3 367.3 318.6 364.4 316.5 361.4 314.4 358.9 312.4 356.7 310.3 354.7 307.5 352.3 304.7 350.4 302.0 349.2 298.6 349.3 295.1 350.5 292.4 351.3 289.6 352.2 286.8 353.3 284.1 354.3 281.5 355.4 278.5 357.4 276.4 359.3 274.2 361.6 271.9 364.1 269.6 366.9 267.4 369.9 265.7 372.5 264.1 375.3 262.5 378.2 260.9 381.2 259.3 384.3 257.7 387.4 256.1 390.5 254.6 393.5 253.1 396.6 251.5 399.8 249.9 403.3 248.1 407.2 246.8 410.0 245.5 413.1 244.1 416.2 242.7 419.5 241.2 422.9 239.8 426.3 238.3 429.7 236.9 433.1 235.6 436.4 234.3 439.6 233.1 442.8 231.9 446.0 230.8 449.1 229.6 452.3 228.4 455.6 227.2 458.9 225.9 462.3 224.6 465.9 223.4 468.9 222.2 472.0 221.0 475.2 219.7 478.5 218.4 481.8 217.1 485.1 215.8 488.5 214.5 491.8 213.2 495.2 211.9 498.5 210.7 501.8 209.5 505.2 208.2 508.8 206.9 512.5 205.6 516.2 204.3 520.0 203.1 523.6 201.9 527.1 200.8 530.3 199.9 533.2 199.0 535.7 198.3 537.8 197.0 541.4Z"/>
<path fill="#008000" d="M192.6 537.0 193.9 533.4 194.6 531.3 195.5 528.8 196.4 525.9 197.5 522.7 198.7 519.2 199.9 515.6 201.2 511.8 202.5 508.1 203.8 504.4 205.1 500.8 206.3 497.4 207.5 494.1 208.8 490.8 210.1 487.4 211.4 484.1 212.7 480.7 214.0 477.4 215.3 474.1 216.6 470.8 217.8 467.6 219.0 464.5 220.2 461.5 221.5 457.9 222.8 454.5 224.0 451.2 225.2 447.9 226.4 444.7 227.5 441.6 228.7 438.4 229.9 435.2 231.2 432.0 232.5 428.7 233.9 425.3 235.4 421.9 236.8 418.5 238.3 415.1 239.7 411.8 241.1 408.7 242.4 405.6 243.7 402.8 245.5 398.9 247.1 395.4 248.7 392.2 250.2 389.1 251.7 386.1 253.3 383.0 254.9 379.9 256.5 376.8 258.1 373.8 259.7 370.9 261.3 368.1 263.0 365.5 265.2 362.5 267.5 359.7 269.8 357.2 272.0 354.9 274.1 353.0 277.1 351.0 279.7 349.9 282.4 348.9 285.2 347.8 288.0 346.9 290.7 346.1 294.2 344.9 297.6 344.8 306.4 344.8 302.9 344.9 299.5 346.1 296.8 346.9 294.0 347.8 291.2 348.9 288.5 349.9 285.9 351.0 282.9 353.0 280.8 354.9 278.6 357.2 276.3 359.7 274.0 362.5 271.8 365.5 270.1 368.1 268.5 370.9 266.9 373.8 265.3 376.8 263.7 379.9 262.1 383.0 260.5 386.1 259.0 389.1 257.5 392.2 255.9 395.4 254.3 398.9 252.5 402.8 251.2 405.6 249.9 408.7 248.5 411.8 247.1 415.1 245.6 418.5 244.2 421.9 242.7 425.3 241.3 428.7 240.0 432.0 238.7 435.2 237.5 438.4 236.3 441.6 235.2 444.7 234.0 447.9 232.8 451.2 231.6 454.5 230.3 457.9 229.0 461.5 227.8 464.5 226.6 467.6 225.4 470.8 224.1 474.1 222.8 477.4 221.5 480.7 220.2 484.1 218.9 487.4 217.6 490.8 216.3 494.1 215.1 497.4 213.9 500.8 212.6 504.4 211.3 508.1 210.0 511.8 208.7 515.6 207.5 519.2 206.3 522.7 205.2 525.9 204.3 528.8 203.4 531.3 202.7 533.4 201.4 537.0Z"/>
<path fill="#008000" d="M297.6 344.8 300.3 346.0 303.1 347.9 305.9 350.3 308.0 352.3 310.1 354.5 312.1 357.0 314.2 360.0 315.9 362.9 317.6 366.3 319.3 369.9 320.9 373.4 322.5 376.6 324.4 380.1 326.2 383.3 327.9 386.3 329.4 389.0 331.2 391.6 332.8 393.8 334.2 397.0 334.9 399.7 335.4 402.8 335.9 406.3 336.6 410.3 337.7 415.0 338.4 417.7 339.3 420.7 340.2 423.9 341.2 427.3 342.3 430.7 343.3 434.3 344.4 437.8 345.5 441.3 346.5 444.6 347.4 447.7 348.5 451.3 349.6 454.8 350.6 458.1 351.6 461.4 352.6 464.7 353.7 468.0 354.7 471.5 355.7 475.3 356.5 478.5 357.4 481.9 358.2 485.4 359.0 489.0 359.9 492.6 360.7 496.2 361.5 499.8 362.3 503.3 363.2 506.7 364.0 509.9 365.0 513.7 366.1 517.3 367.2 520.8 368.3 524.1 369.3 527.5 370.3 530.8 371.3 534.1 372.2 537.5 373.0 541.0 373.8 544.4 374.5 547.9 375.2 551.4 375.9 554.8 376.5 558.3 377.2 561.7 377.9 565.2 378.6 568.7 379.4 572.1 380.1 575.6 380.8 579.0 381.6 582.4 382.4 585.9 383.1 589.3 383.9 592.8 384.7 596.3 385.5 599.7 386.3 603.2 387.2 606.6 388.0 610.1 388.8 613.6 389.7 617.0 390.5 620.5 391.3 624.0 392.1 627.4 392.9 630.9 393.8 634.3 394.6 637.8 395.4 641.2 396.2 644.7 397.1 648.1 398.0 651.5 398.9 654.9 399.8 658.3 400.7 661.7 401.6 665.1 402.6 668.5 403.5 671.9 404.4 675.3 405.3 678.8 406.2 682.4 407.2 686.0 408.1 689.7 409.0 693.2 409.9 696.7 410.8 700.0 411.6 703.0 412.6 706.6 413.5 709.8 414.4 712.7 415.3 715.5 416.3 718.6 417.6 722.0 418.8 724.9 420.1 728.0 421.5 731.2 423.0 734.6 424.5 737.9 426.0 741.1 427.5 744.2 428.8 747.1 430.4 750.6 432.0 753.9 433.4 757.0 434.9 760.0 436.3 763.0 437.8 766.0 439.3 769.1 440.8 772.1 442.3 775.2 443.8 778.2 445.3 781.1 446.8 784.0 448.6 787.3 450.4 790.6 452.2 793.7 454.0 796.8 455.8 799.8 457.6 802.8 459.4 805.7 461.2 808.5 463.0 811.2 464.8 813.9 467.1 817.3 469.3 820.5 471.6 823.6 473.8 826.7 476.1 829.7 478.3 832.7 480.6 835.6 482.8 838.4 485.1 841.3 487.3 844.1 489.6 846.8 491.8 849.6 494.1 852.3 496.3 855.1 498.6 857.8 500.8 860.5 503.1 863.3 505.3 866.1 507.6 868.8 509.8 871.7 512.1 874.5 514.3 877.4 516.6 880.3 518.8 883.2 521.1 886.2 523.3 889.2 525.6 892.2 527.8 895.3 530.1 898.4 532.3 901.5 534.6 904.7 536.8 907.8 538.6 910.4 540.4 913.0 542.2 915.7 544.0 918.3 545.8 921.0 547.6 923.7 549.4 926.4 551.2 929.1 553.0 931.9 554.8 934.7 556.6 937.6 558.4 940.4 560.2 943.3 562.0 946.2 563.8 949.2 565.6 952.2 567.4 955.2 569.2 958.3 571.0 961.4 572.8 964.6 574.6 967.8 576.4 971.1 578.2 974.4 580.0 977.7 581.8 981.1 583.3 984.0 584.8 986.9 586.3 989.8 587.8 992.8 589.3 995.7 590.8 998.7 592.3 1001.7 593.8 1004.7 595.3 1007.7 596.8 1010.8 598.3 1013.8 599.8 1016.7 601.3 1019.7 602.8 1022.7 604.3 1025.6 605.8 1028.6 607.3 1031.4 608.8 1034.3 610.6 1037.6 612.4 1040.9 614.2 1044.2 616.0 1047.3 617.8 1050.4 619.6 1053.3 621.4 1056.2 623.2 1059.0 625.0 1061.7 626.8 1064.3 629.1 1067.4 631.3 1070.4 633.6 1073.3 635.8 1076.2 638.1 1078.9 640.3 1081.6 642.6 1084.2 644.8 1086.8 647.1 1089.4 649.3 1091.9 651.6 1094.4 653.8 1097.0 656.1 1099.5 658.3 1102.1 660.6 1104.7 662.8 1107.4 665.1 1110.1 667.3 1112.9 669.6 1115.7 671.8 1118.6 674.1 1121.6 676.3 1124.6 678.6 1127.7 680.8 1130.8 683.1 1133.8 685.3 1136.9 687.6 1140.1 689.8 1143.1 692.1 1146.2 694.3 1149.2 696.6 1152.3 698.8 1155.2 701.1 1158.1 703.3 1161.0 705.6 1163.7 707.8 1166.4 710.1 1169.0 712.3 1171.5 714.6 1173.9 716.8 1176.1 719.8 1179.0 722.8 1181.6 725.8 1184.2 728.8 1186.7 731.8 1189.0 734.8 1191.5 737.8 1194.0 740.8 1196.6 743.8 1199.2 746.8 1201.9 749.8 1204.7 752.8 1207.5 755.1 1209.6 757.3 1211.7 759.6 1213.8 761.8 1215.9 764.1 1218.0 766.3 1220.1 768.6 1222.2 770.8 1224.3 773.8 1227.0 776.8 1229.7 779.8 1232.3 782.9 1235.0 786.0 1237.6 788.8 1240.0 790.2 1241.3 791.3 1242.3 795.6 1245.6 797.5 1247.0 799.8 1248.7 802.4 1250.7 805.2 1252.8 808.2 1255.1 811.3 1257.4 814.6 1259.8 817.9 1262.3 830.6 1271.3 842.3 1278.9 853.9 1286.1 865.6 1292.9 878.3 1299.9 891.1 1306.5 903.8 1312.8 916.5 1318.8 929.2 1324.5 942.0 1330.1 954.7 1335.5 967.4 1340.6 980.1 1345.6 992.9 1350.4 1005.6 1355.0 1018.3 1359.5 1031.1 1363.8 1044.1 1368.0 1058.1 1372.4 1072.1 1376.6 1086.1 1380.6 1100.1 1384.5 1114.1 1388.2 1128.1 1391.8 1142.1 1395.3 1156.1 1398.6 1170.1 1401.9 1184.1 1405.0 1198.1 1408.0 1212.1 1410.9 1226.1 1413.7 1240.1 1416.4 1254.1 1419.0 1268.1 1421.5 1282.1 1423.8 1296.1 1426.1 1310.1 1428.3 1324.1 1430.4 1338.1 1432.5 1352.1 1434.4 1366.1 1436.3 1380.1 1438.0 1394.1 1439.7 1408.1 1441.4 1422.1 1442.9 1436.1 1444.4 1450.1 1445.8 1464.1 1447.2 1478.1 1448.5 1492.1 1449.7 1506.1 1450.9 1520.1 1452.0 1534.1 1453.1 1548.1 1454.2 1562.1 1455.1 1576.1 1456.1 1590.1 1457.0 1604.1 1457.9 1618.1 1458.7 1632.1 1459.5 1646.1 1460.3 1660.1 1461.0 1674.1 1461.7 1688.1 1462.4 1702.1 1463.1 1716.1 1463.8 1730.1 1464.4 1744.1 1465.1 1758.1 1465.7 1772.1 1466.3 1786.1 1466.9 1800.1 1467.5 1814.1 1468.2 1828.1 1468.8 1842.1 1469.4 1856.1 1470.0 1870.1 1470.7 1884.1 1471.4 1898.1 1472.0 1912.1 1472.7 1926.1 1473.5 1940.1 1474.2 1954.1 1475.0 1968.1 1475.8 1982.1 1476.6 1996.1 1477.5 2010.1 1478.4 2024.2 1479.4 2039.6 1480.5 2053.1 1481.5 2066.6 1482.6 2075.4 1482.6 2061.9 1481.5 2048.4 1480.5 2033.0 1479.4 2018.9 1478.4 2004.9 1477.5 1990.9 1476.6 1976.9 1475.8 1962.9 1475.0 1948.9 1474.2 1934.9 1473.5 1920.9 1472.7 1906.9 1472.0 1892.9 1471.4 1878.9 1470.7 1864.9 1470.0 1850.9 1469.4 1836.9 1468.8 1822.9 1468.2 1808.9 1467.5 1794.9 1466.9 1780.9 1466.3 1766.9 1465.7 1752.9 1465.1 1738.9 1464.4 1724.9 1463.8 1710.9 1463.1 1696.9 1462.4 1682.9 1461.7 1668.9 1461.0 1654.9 1460.3 1640.9 1459.5 1626.9 1458.7 1612.9 1457.9 1598.9 1457.0 1584.9 1456.1 1570.9 1455.1 1556.9 1454.2 1542.9 1453.1 1528.9 1452.0 1514.9 1450.9 1500.9 1449.7 1486.9 1448.5 1472.9 1447.2 1458.9 1445.8 1444.9 1444.4 1430.9 1442.9 1416.9 1441.4 1402.9 1439.7 1388.9 1438.0 1374.9 1436.3 1360.9 1434.4 1346.9 1432.5 1332.9 1430.4 1318.9 1428.3 1304.9 1426.1 1290.9 1423.8 1276.9 1421.5 1262.9 1419.0 1248.9 1416.4 1234.9 1413.7 1220.9 1410.9 1206.9 1408.0 1192.9 1405.0 1178.9 1401.9 1164.9 1398.6 1150.9 1395.3 1136.9 1391.8 1122.9 1388.2 1108.9 1384.5 1094.9 1380.6 1080.9 1376.6 1066.9 1372.4 1052.9 1368.0 1039.9 1363.8 1027.1 1359.5 1014.4 1355.0 1001.7 1350.4 988.9 1345.6 976.2 1340.6 963.5 1335.5 950.8 1330.1 938.0 1324.5 925.3 1318.8 912.6 1312.8 899.9 1306.5 887.1 1299.9 874.4 1292.9 862.7 1286.1 851.1 1278.9 839.4 1271.3 826.7 1262.3 823.4 1259.8 820.1 1257.4 817.0 1255.1 814.0 1252.8 811.2 1250.7 808.6 1248.7 806.3 1247.0 804.4 1245.6 800.1 1242.3 799.0 1241.3 797.6 1240.0 794.8 1237.6 791.7 1235.0 788.6 1232.3 785.6 1229.7 782.6 1227.0 779.6 1224.3 777.4 1222.2 775.1 1220.1 772.9 1218.0 770.6 1215.9 768.4 1213.8 766.1 1211.7 763.9 1209.6 761.6 1207.5 758.6 1204.7 755.6 1201.9 752.6 1199.2 749.6 1196.6 746.6 1194.0 743.6 1191.5 740.6 1189.0 737.6 1186.7 734.6 1184.2 731.6 1181.6 728.6 1179.0 725.6 1176.1 723.4 1173.9 721.1 1171.5 718.9 1169.0 716.6 1166.4 714.4 1163.7 712.1 1161.0 709.9 1158.1 707.6 1155.2 705.4 1152.3 703.1 1149.2 700.9 1146.2 698.6 1143.1 696.4 1140.1 694.1 1136.9 691.9 1133.8 689.6 1130.8 687.4 1127.7 685.1 1124.6 682.9 1121.6 680.6 1118.6 678.4 1115.7 676.1 1112.9 673.9 1110.1 671.6 1107.4 669.4 1104.7 667.1 1102.1 664.9 1099.5 662.6 1097.0 660.4 1094.4 658.1 1091.9 655.9 1089.4 653.6 1086.8 651.4 1084.2 649.1 1081.6 646.9 1078.9 644.6 1076.2 642.4 1073.3 640.1 1070.4 637.9 1067.4 635.6 1064.3 633.8 1061.7 632.0 1059.0 630.2 1056.2 628.4 1053.3 626.6 1050.4 624.8 1047.3 623.0 1044.2 621.2 1040.9 619.4 1037.6 617.6 1034.3 616.1 1031.4 614.6 1028.6 613.1 1025.6 611.6 1022.7 610.1 1019.7 608.6 1016.7 607.1 1013.8 605.6 1010.8 604.1 1007.7 602.6 1004.7 601.1 1001.7 599.6 998.7 598.1 995.7 596.6 992.8 595.1 989.8 593.6 986.9 592.1 984.0 590.6 981.1 588.8 977.7 587.0 974.4 585.2 971.1 583.4 967.8 581.6 964.6 579.8 961.4 578.0 958.3 576.2 955.2 574.4 952.2 572.6 949.2 570.8 946.2 569.0 943.3 567.2 940.4 565.4 937.6 563.6 934.7 561.8 931.9 560.0 929.1 558.2 926.4 556.4 923.7 554.6 921.0 552.8 918.3 551.0 915.7 549.2 913.0 547.4 910.4 545.6 907.8 543.4 904.7 541.1 901.5 538.9 898.4 536.6 895.3 534.4 892.2 532.1 889.2 529.9 886.2 527.6 883.2 525.4 880.3 523.1 877.4 520.9 874.5 518.6 871.7 516.4 868.8 514.1 866.1 511.8 863.3 509.6 860.5 507.4 857.8 505.1 855.1 502.8 852.3 500.6 849.6 498.4 846.8 496.1 844.1 493.8 841.3 491.6 838.4 489.4 835.6 487.1 832.7 484.8 829.7 482.6 826.7 480.4 823.6 478.1 820.5 475.8 817.3 473.6 813.9 471.8 811.2 470.0 808.5 468.2 805.7 466.4 802.8 464.6 799.8 462.8 796.8 461.0 793.7 459.2 790.6 457.4 787.3 455.6 784.0 454.1 781.1 452.6 778.2 451.1 775.2 449.6 772.1 448.1 769.1 446.6 766.0 445.1 763.0 443.7 760.0 442.2 757.0 440.8 753.9 439.2 750.6 437.6 747.1 436.3 744.2 434.8 741.1 433.3 737.9 431.8 734.6 430.3 731.2 428.9 728.0 427.6 724.9 426.4 722.0 425.1 718.6 424.1 715.5 423.1 712.7 422.3 709.8 421.4 706.6 420.4 703.0 419.6 700.0 418.7 696.7 417.8 693.2 416.9 689.7 416.0 686.0 415.0 682.4 414.1 678.8 413.2 675.3 412.3 671.9 411.4 668.5 410.4 665.1 409.5 661.7 408.6 658.3 407.7 654.9 406.8 651.5 405.9 648.1 405.0 644.7 404.2 641.2 403.4 637.8 402.6 634.3 401.7 630.9 400.9 627.4 400.1 624.0 399.3 620.5 398.5 617.0 397.6 613.6 396.8 610.1 396.0 606.6 395.1 603.2 394.3 599.7 393.5 596.3 392.7 592.8 391.9 589.3 391.2 585.9 390.4 582.4 389.6 579.0 388.9 575.6 388.2 572.1 387.4 568.7 386.7 565.2 386.0 561.7 385.3 558.3 384.7 554.8 384.0 551.4 383.3 547.9 382.6 544.4 381.8 541.0 381.0 537.5 380.1 534.1 379.1 530.8 378.1 527.5 377.1 524.1 376.0 520.8 374.9 517.3 373.8 513.7 372.8 509.9 372.0 506.7 371.1 503.3 370.3 499.8 369.5 496.2 368.7 492.6 367.8 489.0 367.0 485.4 366.2 481.9 365.3 478.5 364.5 475.3 363.5 471.5 362.5 468.0 361.4 464.7 360.4 461.4 359.4 458.1 358.4 454.8 357.3 451.3 356.2 447.7 355.3 444.6 354.3 441.3 353.2 437.8 352.1 434.3 351.1 430.7 350.0 427.3 349.0 423.9 348.1 420.7 347.2 417.7 346.5 415.0 345.4 410.3 344.7 406.3 344.2 402.8 343.7 399.7 343.0 397.0 341.6 393.8 340.0 391.6 338.2 389.0 336.7 386.3 335.0 383.3 333.2 380.1 331.3 376.6 329.7 373.4 328.1 369.9 326.4 366.3 324.7 362.9 323.0 360.0 320.9 357.0 318.8 354.5 316.8 352.3 314.7 350.3 311.9 347.9 309.1 346.0 306.4 344.8Z"/>
<path fill="#ff8000" d="M197.0 699.6 198.3 697.2 199.2 695.2 200.4 692.6 201.7 689.6 203.2 686.3 204.8 682.9 206.4 679.6 208.0 676.6 209.6 673.8 211.3 671.0 213.1 668.2 214.9 665.5 216.8 662.7 218.6 659.9 220.4 657.1 222.2 654.2 223.9 651.4 225.6 648.5 227.3 645.5 229.1 642.6 231.0 639.6 232.9 636.6 234.7 633.9 236.5 631.1 238.5 628.3 240.4 625.4 242.4 622.6 244.3 619.8 246.2 617.2 248.1 614.7 250.5 611.6 252.8 608.6 255.1 605.7 257.4 603.0 259.6 600.5 261.9 598.1 264.7 595.4 267.5 592.9 270.4 590.7 273.1 588.7 275.7 587.0 279.7 585.0 283.4 583.8 286.8 582.9 291.0 581.9 295.1 581.5 298.2 581.6 301.5 582.0 304.8 582.9 308.0 584.2 311.1 586.0 314.4 588.4 317.1 590.7 319.9 593.4 322.8 596.4 325.5 599.5 327.5 602.0 329.5 604.6 331.4 607.3 333.3 610.2 335.2 613.3 336.8 616.0 338.4 618.9 339.9 621.9 341.5 625.0 343.1 628.1 344.8 631.3 346.3 634.1 347.9 636.9 349.6 639.8 351.3 642.7 352.9 645.7 354.4 648.6 355.9 651.6 357.5 655.1 358.9 658.8 360.3 662.4 361.6 666.0 362.9 669.4 364.2 672.6 365.6 675.9 367.0 678.7 368.3 681.3 369.7 684.2 371.1 687.5 372.2 690.3 373.4 693.3 374.6 696.5 375.8 699.8 377.0 703.2 378.2 706.4 379.4 709.6 380.8 713.1 382.2 716.6 383.5 720.1 384.9 723.5 386.3 727.0 387.7 730.4 389.1 733.9 390.5 737.4 391.9 740.8 393.2 744.3 394.6 747.7 396.0 751.1 397.4 754.4 398.8 757.6 400.2 760.8 401.5 764.0 402.9 767.1 404.3 770.4 405.7 773.8 407.1 777.2 408.4 780.6 409.8 784.1 411.2 787.4 412.6 790.6 414.2 794.1 415.7 797.3 417.3 800.5 419.0 803.8 420.9 807.6 422.3 810.3 423.8 813.2 425.4 816.2 427.0 819.4 428.7 822.5 430.3 825.5 431.8 828.3 433.2 830.9 435.2 834.6 437.0 837.8 438.8 840.8 440.5 843.7 442.2 846.7 444.0 849.7 445.8 852.7 447.6 855.7 449.4 858.6 451.2 861.5 453.0 864.4 454.8 867.2 456.6 870.0 458.4 872.8 460.2 875.5 462.4 878.8 464.7 882.0 467.0 885.2 469.2 888.4 471.4 891.4 473.7 894.4 476.0 897.3 478.2 900.1 480.4 902.8 482.7 905.5 485.0 908.0 487.2 910.5 489.4 912.9 491.7 915.2 494.0 917.5 496.2 919.6 499.2 922.3 502.2 924.8 505.2 927.3 508.2 929.9 511.2 932.6 514.2 935.5 516.5 938.0 518.7 940.7 521.0 943.5 523.2 946.3 525.5 949.2 527.7 952.1 530.0 954.9 532.2 957.7 534.5 960.4 536.7 963.0 539.0 965.5 541.2 968.0 543.5 970.5 545.7 972.9 548.0 975.2 550.2 977.6 552.5 980.0 554.7 982.3 557.0 984.7 559.2 987.1 561.5 989.5 563.7 992.0 566.0 994.5 568.2 997.0 570.5 999.5 572.7 1002.1 575.0 1004.7 577.2 1007.3 579.5 1009.9 581.7 1012.6 584.0 1015.3 586.2 1018.0 588.5 1020.7 590.7 1023.4 593.0 1026.1 595.2 1028.9 597.5 1031.6 599.7 1034.4 602.0 1037.2 604.2 1039.9 606.5 1042.7 608.7 1045.5 611.0 1048.3 613.2 1051.1 615.5 1053.8 617.7 1056.6 620.0 1059.4 622.2 1062.1 624.5 1064.9 626.7 1067.6 629.0 1070.3 631.2 1073.0 633.5 1075.7 635.7 1078.4 638.0 1081.1 640.2 1083.7 642.5 1086.3 644.7 1088.9 647.0 1091.5 649.2 1094.1 651.5 1096.6 653.7 1099.1 656.0 1101.6 658.2 1104.0 660.5 1106.5 662.7 1108.9 665.0 1111.3 667.2 1113.7 669.5 1116.0 671.7 1118.4 674.0 1120.7 676.2 1123.0 678.5 1125.3 680.7 1127.5 683.0 1129.8 685.2 1132.0 687.5 1134.2 689.7 1136.4 692.0 1138.6 694.2 1140.7 696.5 1142.8 698.7 1145.0 701.0 1147.1 703.2 1149.1 706.2 1151.9 709.2 1154.6 712.2 1157.3 715.2 1160.0 718.2 1162.6 721.2 1165.2 724.2 1167.8 727.2 1170.4 730.2 1172.9 733.2 1175.5 736.2 1178.0 739.2 1180.4 742.2 1182.9 745.2 1185.3 748.2 1187.7 751.2 1190.1 754.2 1192.5 757.2 1194.8 760.2 1197.2 763.2 1199.5 766.2 1201.8 769.2 1204.0 772.2 1206.3 775.2 1208.5 778.2 1210.7 781.2 1212.9 784.2 1215.0 787.3 1217.2 790.4 1219.4 793.2 1221.4 795.0 1222.8 800.0 1226.1 801.9 1227.4 804.2 1228.9 806.8 1230.6 809.6 1232.5 812.6 1234.4 815.7 1236.5 819.0 1238.6 828.8 1245.0 840.8 1252.4 852.5 1259.3 864.2 1266.0 876.4 1272.7 889.1 1279.4 901.8 1285.9 914.5 1292.1 927.3 1298.1 940.0 1303.8 952.7 1309.2 965.5 1314.5 978.2 1319.5 990.9 1324.3 1003.6 1329.0 1016.4 1333.4 1029.1 1337.6 1041.8 1341.7 1055.5 1345.9 1069.5 1350.0 1083.5 1353.9 1097.5 1357.7 1111.5 1361.3 1125.5 1364.7 1139.5 1368.0 1153.5 1371.2 1167.5 1374.3 1181.5 1377.2 1195.5 1380.1 1209.5 1382.9 1223.5 1385.6 1237.5 1388.3 1251.5 1390.9 1265.5 1393.4 1279.5 1395.8 1293.5 1398.2 1307.5 1400.5 1321.5 1402.8 1335.5 1404.9 1349.5 1407.1 1363.5 1409.1 1377.5 1411.1 1391.5 1413.1 1405.5 1415.0 1419.5 1416.8 1433.5 1418.6 1447.5 1420.3 1461.5 1422.0 1475.5 1423.6 1489.5 1425.2 1503.5 1426.8 1517.5 1428.3 1531.5 1429.7 1545.5 1431.1 1559.5 1432.5 1573.5 1433.8 1587.5 1435.2 1601.5 1436.4 1615.5 1437.7 1629.5 1438.9 1643.5 1440.0 1657.5 1441.2 1671.5 1442.3 1685.5 1443.4 1699.5 1444.5 1713.5 1445.5 1727.5 1446.5 1741.5 1447.6 1755.5 1448.5 1769.5 1449.5 1783.5 1450.5 1797.5 1451.4 1811.5 1452.3 1825.5 1453.3 1839.5 1454.2 1853.5 1455.1 1867.5 1456.0 1881.5 1456.9 1895.5 1457.8 1909.5 1458.6 1923.5 1459.5 1937.5 1460.4 1951.5 1461.3 1965.5 1462.2 1979.5 1463.1 1993.5 1464.0 2007.5 1464.9 2021.5 1465.8 2036.3 1466.8 2051.3 1467.9 2065.9 1468.9 2071.0 1469.2 2071.0 1478.0 2065.9 1477.7 2051.3 1476.7 2036.3 1475.6 2021.5 1474.6 2007.5 1473.7 1993.5 1472.8 1979.5 1471.9 1965.5 1471.0 1951.5 1470.1 1937.5 1469.2 1923.5 1468.3 1909.5 1467.4 1895.5 1466.6 1881.5 1465.7 1867.5 1464.8 1853.5 1463.9 1839.5 1463.0 1825.5 1462.1 1811.5 1461.1 1797.5 1460.2 1783.5 1459.3 1769.5 1458.3 1755.5 1457.3 1741.5 1456.4 1727.5 1455.3 1713.5 1454.3 1699.5 1453.3 1685.5 1452.2 1671.5 1451.1 1657.5 1450.0 1643.5 1448.8 1629.5 1447.7 1615.5 1446.5 1601.5 1445.2 1587.5 1444.0 1573.5 1442.6 1559.5 1441.3 1545.5 1439.9 1531.5 1438.5 1517.5 1437.1 1503.5 1435.6 1489.5 1434.0 1475.5 1432.4 1461.5 1430.8 1447.5 1429.1 1433.5 1427.4 1419.5 1425.6 1405.5 1423.8 1391.5 1421.9 1377.5 1419.9 1363.5 1417.9 1349.5 1415.9 1335.5 1413.7 1321.5 1411.6 1307.5 1409.3 1293.5 1407.0 1279.5 1404.6 1265.5 1402.2 1251.5 1399.7 1237.5 1397.1 1223.5 1394.4 1209.5 1391.7 1195.5 1388.9 1181.5 1386.0 1167.5 1383.1 1153.5 1380.0 1139.5 1376.8 1125.5 1373.5 1111.5 1370.1 1097.5 1366.5 1083.5 1362.7 1069.5 1358.8 1055.5 1354.7 1041.8 1350.5 1029.1 1346.4 1016.4 1342.2 1003.6 1337.8 990.9 1333.1 978.2 1328.3 965.5 1323.3 952.7 1318.0 940.0 1312.6 927.3 1306.9 914.5 1300.9 901.8 1294.7 889.1 1288.2 876.4 1281.5 864.2 1274.8 852.5 1268.1 840.8 1261.2 828.8 1253.8 819.0 1247.4 815.7 1245.3 812.6 1243.2 809.6 1241.3 806.8 1239.4 804.2 1237.7 801.9 1236.2 800.0 1234.9 795.0 1231.6 793.2 1230.2 790.4 1228.2 787.3 1226.0 784.2 1223.8 781.2 1221.7 778.2 1219.5 775.2 1217.3 772.2 1215.1 769.2 1212.8 766.2 1210.6 763.2 1208.3 760.2 1206.0 757.2 1203.6 754.2 1201.3 751.2 1198.9 748.2 1196.5 745.2 1194.1 742.2 1191.7 739.2 1189.2 736.2 1186.8 733.2 1184.3 730.2 1181.7 727.2 1179.2 724.2 1176.6 721.2 1174.0 718.2 1171.4 715.2 1168.8 712.2 1166.1 709.2 1163.4 706.2 1160.7 703.2 1157.9 701.0 1155.9 698.7 1153.8 696.5 1151.6 694.2 1149.5 692.0 1147.4 689.7 1145.2 687.5 1143.0 685.2 1140.8 683.0 1138.6 680.7 1136.3 678.5 1134.1 676.2 1131.8 674.0 1129.5 671.7 1127.2 669.5 1124.8 667.2 1122.5 665.0 1120.1 662.7 1117.7 660.5 1115.3 658.2 1112.8 656.0 1110.4 653.7 1107.9 651.5 1105.4 649.2 1102.9 647.0 1100.3 644.7 1097.7 642.5 1095.1 640.2 1092.5 638.0 1089.9 635.7 1087.2 633.5 1084.5 631.2 1081.8 629.0 1079.1 626.7 1076.4 624.5 1073.7 622.2 1070.9 620.0 1068.2 617.7 1065.4 615.5 1062.6 613.2 1059.9 611.0 1057.1 608.7 1054.3 606.5 1051.5 604.2 1048.7 602.0 1046.0 599.7 1043.2 597.5 1040.4 595.2 1037.7 593.0 1034.9 590.7 1032.2 588.5 1029.5 586.2 1026.8 584.0 1024.1 581.7 1021.4 579.5 1018.7 577.2 1016.1 575.0 1013.5 572.7 1010.9 570.5 1008.3 568.2 1005.8 566.0 1003.3 563.7 1000.8 561.5 998.3 559.2 995.9 557.0 993.5 554.7 991.1 552.5 988.8 550.2 986.4 548.0 984.0 545.7 981.7 543.5 979.3 541.2 976.8 539.0 974.3 536.7 971.8 534.5 969.2 532.2 966.5 530.0 963.7 527.7 960.9 525.5 958.0 523.2 955.1 521.0 952.3 518.7 949.5 516.5 946.8 514.2 944.3 511.2 941.4 508.2 938.7 505.2 936.1 502.2 933.6 499.2 931.1 496.2 928.4 494.0 926.3 491.7 924.0 489.4 921.7 487.2 919.3 485.0 916.8 482.7 914.3 480.4 911.6 478.2 908.9 476.0 906.1 473.7 903.2 471.4 900.2 469.2 897.2 467.0 894.0 464.7 890.8 462.4 887.6 460.2 884.3 458.4 881.6 456.6 878.8 454.8 876.0 453.0 873.2 451.2 870.3 449.4 867.4 447.6 864.5 445.8 861.5 444.0 858.5 442.2 855.5 440.5 852.5 438.8 849.6 437.0 846.6 435.2 843.4 433.2 839.7 431.8 837.1 430.3 834.3 428.7 831.3 427.0 828.2 425.4 825.0 423.8 822.0 422.3 819.1 420.9 816.4 419.0 812.6 417.3 809.3 415.7 806.1 414.2 802.9 412.6 799.4 411.2 796.2 409.8 792.9 408.4 789.4 407.1 786.0 405.7 782.6 404.3 779.2 402.9 775.9 401.5 772.8 400.2 769.6 398.8 766.4 397.4 763.2 396.0 759.9 394.6 756.5 393.2 753.1 391.9 749.6 390.5 746.2 389.1 742.7 387.7 739.2 386.3 735.8 384.9 732.3 383.5 728.9 382.2 725.4 380.8 721.9 379.4 718.4 378.2 715.2 377.0 712.0 375.8 708.6 374.6 705.3 373.4 702.1 372.2 699.1 371.1 696.3 369.7 693.0 368.3 690.1 367.0 687.5 365.6 684.7 364.2 681.4 362.9 678.2 361.6 674.8 360.3 671.2 358.9 667.6 357.5 663.9 355.9 660.4 354.4 657.4 352.9 654.5 351.3 651.5 349.6 648.6 347.9 645.7 346.3 642.9 344.8 640.1 343.1 636.9 341.5 633.8 339.9 630.7 338.4 627.7 336.8 624.8 335.2 622.1 333.3 619.0 331.4 616.1 329.5 613.4 327.5 610.8 325.5 608.3 322.8 605.2 319.9 602.2 317.1 599.5 314.4 597.2 311.1 594.8 308.0 593.0 304.8 591.7 301.5 590.8 298.2 590.4 295.1 590.3 291.0 590.7 286.8 591.7 283.4 592.6 279.7 593.8 275.7 595.8 273.1 597.5 270.4 599.5 267.5 601.7 264.7 604.2 261.9 606.9 259.6 609.3 257.4 611.8 255.1 614.5 252.8 617.4 250.5 620.4 248.1 623.5 246.2 626.0 244.3 628.6 242.4 631.4 240.4 634.2 238.5 637.1 236.5 639.9 234.7 642.7 232.9 645.4 231.0 648.4 229.1 651.4 227.3 654.3 225.6 657.3 223.9 660.2 222.2 663.0 220.4 665.9 218.6 668.7 216.8 671.5 214.9 674.3 213.1 677.0 211.3 679.8 209.6 682.6 208.0 685.4 206.4 688.4 204.8 691.7 203.2 695.1 201.7 698.4 200.4 701.4 199.2 704.0 198.3 706.0 197.0 708.4Z"/>
<path fill="#ff8000" d="M192.6 704.0 193.9 701.6 194.8 699.6 196.0 697.0 197.3 694.0 198.8 690.7 200.4 687.3 202.0 684.0 203.6 681.0 205.2 678.2 206.9 675.4 208.7 672.6 210.5 669.9 212.4 667.1 214.2 664.3 216.0 661.5 217.8 658.6 219.5 655.8 221.2 652.9 222.9 649.9 224.7 647.0 226.6 644.0 228.5 641.0 230.3 638.3 232.1 635.5 234.1 632.7 236.0 629.8 238.0 627.0 239.9 624.2 241.8 621.6 243.7 619.1 246.1 616.0 248.4 613.0 250.7 610.1 253.0 607.4 255.2 604.9 257.5 602.5 260.3 599.8 263.1 597.3 266.0 595.1 268.7 593.1 271.3 591.4 275.3 589.4 279.0 588.2 282.4 587.3 286.6 586.3 290.7 585.9 299.5 585.9 295.4 586.3 291.2 587.3 287.8 588.2 284.1 589.4 280.1 591.4 277.5 593.1 274.8 595.1 271.9 597.3 269.1 599.8 266.3 602.5 264.0 604.9 261.8 607.4 259.5 610.1 257.2 613.0 254.9 616.0 252.5 619.1 250.6 621.6 248.7 624.2 246.8 627.0 244.8 629.8 242.9 632.7 240.9 635.5 239.1 638.3 237.3 641.0 235.4 644.0 233.5 647.0 231.7 649.9 230.0 652.9 228.3 655.8 226.6 658.6 224.8 661.5 223.0 664.3 221.2 667.1 219.3 669.9 217.5 672.6 215.7 675.4 214.0 678.2 212.4 681.0 210.8 684.0 209.2 687.3 207.6 690.7 206.1 694.0 204.8 697.0 203.6 699.6 202.7 701.6 201.4 704.0Z"/>
<path fill="#ff8000" d="M290.7 585.9 293.8 586.0 297.1 586.4 300.4 587.3 303.6 588.6 306.7 590.4 310.0 592.8 312.7 595.1 315.5 597.8 318.4 600.8 321.1 603.9 323.1 606.4 325.1 609.0 327.0 611.7 328.9 614.6 330.8 617.7 332.4 620.4 334.0 623.3 335.5 626.3 337.1 629.4 338.7 632.5 340.4 635.7 341.9 638.5 343.5 641.3 345.2 644.2 346.9 647.1 348.5 650.1 350.0 653.0 351.5 656.0 353.1 659.5 354.5 663.2 355.9 666.8 357.2 670.4 358.5 673.8 359.8 677.0 361.2 680.3 362.6 683.1 363.9 685.7 365.3 688.6 366.7 691.9 367.8 694.7 369.0 697.7 370.2 700.9 371.4 704.2 372.6 707.6 373.8 710.8 375.0 714.0 376.4 717.5 377.8 721.0 379.1 724.5 380.5 727.9 381.9 731.4 383.3 734.8 384.7 738.3 386.1 741.8 387.5 745.2 388.8 748.7 390.2 752.1 391.6 755.5 393.0 758.8 394.4 762.0 395.8 765.2 397.1 768.4 398.5 771.5 399.9 774.8 401.3 778.2 402.7 781.6 404.1 785.0 405.4 788.5 406.8 791.8 408.2 795.0 409.8 798.5 411.3 801.7 412.9 804.9 414.6 808.2 416.5 812.0 417.9 814.7 419.4 817.6 421.0 820.6 422.6 823.8 424.3 826.9 425.9 829.9 427.4 832.7 428.8 835.3 430.8 839.0 432.6 842.2 434.4 845.2 436.1 848.1 437.8 851.1 439.6 854.1 441.4 857.1 443.2 860.1 445.0 863.0 446.8 865.9 448.6 868.8 450.4 871.6 452.2 874.4 454.0 877.2 455.8 879.9 458.1 883.2 460.3 886.4 462.6 889.6 464.8 892.8 467.1 895.8 469.3 898.8 471.6 901.7 473.8 904.5 476.1 907.2 478.3 909.9 480.6 912.4 482.8 914.9 485.1 917.3 487.3 919.6 489.6 921.9 491.8 924.0 494.8 926.7 497.8 929.2 500.8 931.7 503.8 934.3 506.8 937.0 509.8 939.9 512.1 942.4 514.3 945.1 516.6 947.9 518.8 950.7 521.1 953.6 523.3 956.5 525.6 959.3 527.8 962.1 530.1 964.8 532.3 967.4 534.6 969.9 536.8 972.4 539.1 974.9 541.3 977.3 543.6 979.6 545.8 982.0 548.1 984.4 550.3 986.7 552.6 989.1 554.8 991.5 557.1 993.9 559.3 996.4 561.6 998.9 563.8 1001.4 566.1 1003.9 568.3 1006.5 570.6 1009.1 572.8 1011.7 575.1 1014.3 577.3 1017.0 579.6 1019.7 581.8 1022.4 584.1 1025.1 586.3 1027.8 588.6 1030.5 590.8 1033.3 593.1 1036.0 595.3 1038.8 597.6 1041.6 599.8 1044.3 602.1 1047.1 604.3 1049.9 606.6 1052.7 608.8 1055.5 611.1 1058.2 613.3 1061.0 615.6 1063.8 617.8 1066.5 620.1 1069.3 622.3 1072.0 624.6 1074.7 626.8 1077.4 629.1 1080.1 631.3 1082.8 633.6 1085.5 635.8 1088.1 638.1 1090.7 640.3 1093.3 642.6 1095.9 644.8 1098.5 647.1 1101.0 649.3 1103.5 651.6 1106.0 653.8 1108.4 656.1 1110.9 658.3 1113.3 660.6 1115.7 662.8 1118.1 665.1 1120.4 667.3 1122.8 669.6 1125.1 671.8 1127.4 674.1 1129.7 676.3 1131.9 678.6 1134.2 680.8 1136.4 683.1 1138.6 685.3 1140.8 687.6 1143.0 689.8 1145.1 692.1 1147.2 694.3 1149.4 696.6 1151.5 698.8 1153.5 701.8 1156.3 704.8 1159.0 707.8 1161.7 710.8 1164.4 713.8 1167.0 716.8 1169.6 719.8 1172.2 722.8 1174.8 725.8 1177.3 728.8 1179.9 731.8 1182.4 734.8 1184.8 737.8 1187.3 740.8 1189.7 743.8 1192.1 746.8 1194.5 749.8 1196.9 752.8 1199.2 755.8 1201.6 758.8 1203.9 761.8 1206.2 764.8 1208.4 767.8 1210.7 770.8 1212.9 773.8 1215.1 776.8 1217.3 779.8 1219.4 782.9 1221.6 786.0 1223.8 788.8 1225.8 790.6 1227.2 795.6 1230.5 797.5 1231.8 799.8 1233.3 802.4 1235.0 805.2 1236.9 808.2 1238.8 811.3 1240.9 814.6 1243.0 824.4 1249.4 836.4 1256.8 848.1 1263.7 859.8 1270.4 872.0 1277.1 884.7 1283.8 897.4 1290.3 910.1 1296.5 922.9 1302.5 935.6 1308.2 948.3 1313.6 961.1 1318.9 973.8 1323.9 986.5 1328.7 999.2 1333.4 1012.0 1337.8 1024.7 1342.0 1037.4 1346.1 1051.1 1350.3 1065.1 1354.4 1079.1 1358.3 1093.1 1362.1 1107.1 1365.7 1121.1 1369.1 1135.1 1372.4 1149.1 1375.6 1163.1 1378.7 1177.1 1381.6 1191.1 1384.5 1205.1 1387.3 1219.1 1390.0 1233.1 1392.7 1247.1 1395.3 1261.1 1397.8 1275.1 1400.2 1289.1 1402.6 1303.1 1404.9 1317.1 1407.2 1331.1 1409.3 1345.1 1411.5 1359.1 1413.5 1373.1 1415.5 1387.1 1417.5 1401.1 1419.4 1415.1 1421.2 1429.1 1423.0 1443.1 1424.7 1457.1 1426.4 1471.1 1428.0 1485.1 1429.6 1499.1 1431.2 1513.1 1432.7 1527.1 1434.1 1541.1 1435.5 1555.1 1436.9 1569.1 1438.2 1583.1 1439.6 1597.1 1440.8 1611.1 1442.1 1625.1 1443.3 1639.1 1444.4 1653.1 1445.6 1667.1 1446.7 1681.1 1447.8 1695.1 1448.9 1709.1 1449.9 1723.1 1450.9 1737.1 1452.0 1751.1 1452.9 1765.1 1453.9 1779.1 1454.9 1793.1 1455.8 1807.1 1456.7 1821.1 1457.7 1835.1 1458.6 1849.1 1459.5 1863.1 1460.4 1877.1 1461.3 1891.1 1462.2 1905.1 1463.0 1919.1 1463.9 1933.1 1464.8 1947.1 1465.7 1961.1 1466.6 1975.1 1467.5 1989.1 1468.4 2003.1 1469.3 2017.1 1470.2 2031.9 1471.2 2046.9 1472.3 2061.5 1473.3 2066.6 1473.6 2075.4 1473.6 2070.3 1473.3 2055.7 1472.3 2040.7 1471.2 2025.9 1470.2 2011.9 1469.3 1997.9 1468.4 1983.9 1467.5 1969.9 1466.6 1955.9 1465.7 1941.9 1464.8 1927.9 1463.9 1913.9 1463.0 1899.9 1462.2 1885.9 1461.3 1871.9 1460.4 1857.9 1459.5 1843.9 1458.6 1829.9 1457.7 1815.9 1456.7 1801.9 1455.8 1787.9 1454.9 1773.9 1453.9 1759.9 1452.9 1745.9 1452.0 1731.9 1450.9 1717.9 1449.9 1703.9 1448.9 1689.9 1447.8 1675.9 1446.7 1661.9 1445.6 1647.9 1444.4 1633.9 1443.3 1619.9 1442.1 1605.9 1440.8 1591.9 1439.6 1577.9 1438.2 1563.9 1436.9 1549.9 1435.5 1535.9 1434.1 1521.9 1432.7 1507.9 1431.2 1493.9 1429.6 1479.9 1428.0 1465.9 1426.4 1451.9 1424.7 1437.9 1423.0 1423.9 1421.2 1409.9 1419.4 1395.9 1417.5 1381.9 1415.5 1367.9 1413.5 1353.9 1411.5 1339.9 1409.3 1325.9 1407.2 1311.9 1404.9 1297.9 1402.6 1283.9 1400.2 1269.9 1397.8 1255.9 1395.3 1241.9 1392.7 1227.9 1390.0 1213.9 1387.3 1199.9 1384.5 1185.9 1381.6 1171.9 1378.7 1157.9 1375.6 1143.9 1372.4 1129.9 1369.1 1115.9 1365.7 1101.9 1362.1 1087.9 1358.3 1073.9 1354.4 1059.9 1350.3 1046.2 1346.1 1033.5 1342.0 1020.8 1337.8 1008.0 1333.4 995.3 1328.7 982.6 1323.9 969.9 1318.9 957.1 1313.6 944.4 1308.2 931.7 1302.5 918.9 1296.5 906.2 1290.3 893.5 1283.8 880.8 1277.1 868.6 1270.4 856.9 1263.7 845.2 1256.8 833.2 1249.4 823.4 1243.0 820.1 1240.9 817.0 1238.8 814.0 1236.9 811.2 1235.0 808.6 1233.3 806.3 1231.8 804.4 1230.5 799.4 1227.2 797.6 1225.8 794.8 1223.8 791.7 1221.6 788.6 1219.4 785.6 1217.3 782.6 1215.1 779.6 1212.9 776.6 1210.7 773.6 1208.4 770.6 1206.2 767.6 1203.9 764.6 1201.6 761.6 1199.2 758.6 1196.9 755.6 1194.5 752.6 1192.1 749.6 1189.7 746.6 1187.3 743.6 1184.8 740.6 1182.4 737.6 1179.9 734.6 1177.3 731.6 1174.8 728.6 1172.2 725.6 1169.6 722.6 1167.0 719.6 1164.4 716.6 1161.7 713.6 1159.0 710.6 1156.3 707.6 1153.5 705.4 1151.5 703.1 1149.4 700.9 1147.2 698.6 1145.1 696.4 1143.0 694.1 1140.8 691.9 1138.6 689.6 1136.4 687.4 1134.2 685.1 1131.9 682.9 1129.7 680.6 1127.4 678.4 1125.1 676.1 1122.8 673.9 1120.4 671.6 1118.1 669.4 1115.7 667.1 1113.3 664.9 1110.9 662.6 1108.4 660.4 1106.0 658.1 1103.5 655.9 1101.0 653.6 1098.5 651.4 1095.9 649.1 1093.3 646.9 1090.7 644.6 1088.1 642.4 1085.5 640.1 1082.8 637.9 1080.1 635.6 1077.4 633.4 1074.7 631.1 1072.0 628.9 1069.3 626.6 1066.5 624.4 1063.8 622.1 1061.0 619.9 1058.2 617.6 1055.5 615.4 1052.7 613.1 1049.9 610.9 1047.1 608.6 1044.3 606.4 1041.6 604.1 1038.8 601.9 1036.0 599.6 1033.3 597.4 1030.5 595.1 1027.8 592.9 1025.1 590.6 1022.4 588.4 1019.7 586.1 1017.0 583.9 1014.3 581.6 1011.7 579.4 1009.1 577.1 1006.5 574.9 1003.9 572.6 1001.4 570.4 998.9 568.1 996.4 565.9 993.9 563.6 991.5 561.4 989.1 559.1 986.7 556.9 984.4 554.6 982.0 552.4 979.6 550.1 977.3 547.9 974.9 545.6 972.4 543.4 969.9 541.1 967.4 538.9 964.8 536.6 962.1 534.4 959.3 532.1 956.5 529.9 953.6 527.6 950.7 525.4 947.9 523.1 945.1 520.9 942.4 518.6 939.9 515.6 937.0 512.6 934.3 509.6 931.7 506.6 929.2 503.6 926.7 500.6 924.0 498.4 921.9 496.1 919.6 493.8 917.3 491.6 914.9 489.4 912.4 487.1 909.9 484.8 907.2 482.6 904.5 480.4 901.7 478.1 898.8 475.8 895.8 473.6 892.8 471.4 889.6 469.1 886.4 466.8 883.2 464.6 879.9 462.8 877.2 461.0 874.4 459.2 871.6 457.4 868.8 455.6 865.9 453.8 863.0 452.0 860.1 450.2 857.1 448.4 854.1 446.6 851.1 444.9 848.1 443.2 845.2 441.4 842.2 439.6 839.0 437.6 835.3 436.2 832.7 434.7 829.9 433.1 826.9 431.4 823.8 429.8 820.6 428.2 817.6 426.7 814.7 425.3 812.0 423.4 808.2 421.7 804.9 420.1 801.7 418.6 798.5 417.0 795.0 415.6 791.8 414.2 788.5 412.8 785.0 411.5 781.6 410.1 778.2 408.7 774.8 407.3 771.5 405.9 768.4 404.6 765.2 403.2 762.0 401.8 758.8 400.4 755.5 399.0 752.1 397.6 748.7 396.2 745.2 394.9 741.8 393.5 738.3 392.1 734.8 390.7 731.4 389.3 727.9 387.9 724.5 386.6 721.0 385.2 717.5 383.8 714.0 382.6 710.8 381.4 707.6 380.2 704.2 379.0 700.9 377.8 697.7 376.6 694.7 375.5 691.9 374.1 688.6 372.7 685.7 371.4 683.1 370.0 680.3 368.6 677.0 367.3 673.8 366.0 670.4 364.7 666.8 363.3 663.2 361.9 659.5 360.3 656.0 358.8 653.0 357.3 650.1 355.7 647.1 354.0 644.2 352.3 641.3 350.7 638.5 349.2 635.7 347.5 632.5 345.9 629.4 344.3 626.3 342.8 623.3 341.2 620.4 339.6 617.7 337.7 614.6 335.8 611.7 333.9 609.0 331.9 606.4 329.9 603.9 327.2 600.8 324.3 597.8 321.5 595.1 318.8 592.8 315.5 590.4 312.4 588.6 309.2 587.3 305.9 586.4 302.6 586.0 299.5 585.9Z"/>
<path fill="#8800ff" d="M197.0 713.6 198.3 712.4 200.1 710.8 202.5 708.6 205.2 706.2 208.0 704.1 210.9 702.2 214.1 700.4 217.3 698.7 220.4 697.2 224.1 695.8 227.6 694.7 231.5 693.0 234.1 691.4 236.8 689.4 239.7 687.3 242.5 685.2 245.3 683.3 248.1 681.5 250.9 679.7 253.8 678.0 256.5 676.4 259.1 675.0 263.0 673.1 266.6 671.5 270.2 670.2 273.9 669.0 277.5 667.9 281.3 667.4 284.4 667.3 287.6 667.5 290.8 668.0 293.7 668.8 297.1 670.3 300.2 672.4 303.4 675.0 306.1 677.4 308.8 680.2 311.6 683.1 314.4 686.1 316.6 688.4 318.8 690.8 321.1 693.2 323.3 695.8 325.5 698.6 327.4 701.1 329.2 703.8 331.1 706.6 332.9 709.4 334.7 712.3 336.5 715.1 338.5 718.4 340.5 721.7 342.4 725.1 344.3 728.4 346.2 731.7 348.1 735.0 350.1 738.4 352.0 741.8 354.0 745.1 355.9 748.3 357.8 751.5 359.8 754.5 361.7 757.6 363.7 760.6 365.6 763.5 367.6 766.4 369.6 769.4 371.6 772.2 373.5 774.9 375.3 777.4 377.8 780.7 379.9 783.5 382.2 787.0 383.7 789.7 385.4 792.6 387.0 795.7 388.7 799.0 390.5 802.2 392.0 804.9 393.6 807.6 395.2 810.4 396.8 813.2 398.5 816.1 400.2 819.1 401.9 822.1 403.6 825.1 405.3 828.1 407.1 831.4 409.0 834.8 411.1 838.6 412.6 841.4 414.1 844.3 415.6 847.4 417.3 850.6 418.9 853.8 420.6 857.1 422.3 860.4 424.1 863.7 425.8 866.8 427.6 870.0 429.5 873.2 431.5 876.5 433.5 879.8 435.4 883.1 437.4 886.2 439.2 889.1 440.9 891.8 442.4 894.2 445.2 898.5 447.4 901.6 449.3 904.3 451.4 907.1 453.6 910.1 455.9 913.1 458.1 916.0 460.4 918.8 462.6 921.6 464.9 924.3 467.1 927.0 469.4 929.6 471.6 932.2 473.9 934.7 476.1 937.2 478.4 939.7 480.6 942.1 482.9 944.5 485.1 946.9 487.4 949.3 489.6 951.7 491.9 954.0 494.1 956.4 496.4 958.7 498.6 961.0 500.9 963.4 503.1 965.7 505.4 968.1 507.6 970.5 509.9 972.9 512.1 975.3 514.4 977.7 516.6 980.1 518.9 982.6 521.1 985.1 523.4 987.5 525.6 990.0 527.9 992.5 530.1 995.0 532.4 997.5 534.6 1000.0 536.9 1002.6 539.1 1005.1 541.4 1007.6 543.6 1010.1 545.9 1012.7 548.1 1015.2 550.4 1017.7 552.6 1020.3 554.9 1022.8 557.1 1025.3 559.4 1027.8 561.6 1030.3 563.9 1032.8 566.1 1035.3 568.4 1037.8 570.6 1040.3 572.9 1042.7 575.1 1045.2 577.4 1047.6 579.6 1050.1 581.9 1052.5 584.1 1054.9 586.4 1057.3 588.6 1059.8 590.9 1062.1 593.1 1064.5 595.4 1066.9 597.6 1069.3 599.9 1071.6 602.1 1074.0 604.4 1076.3 606.6 1078.7 608.9 1081.0 611.1 1083.3 613.4 1085.6 615.6 1087.9 617.9 1090.2 620.1 1092.4 622.4 1094.7 624.6 1096.9 626.9 1099.2 629.1 1101.4 631.4 1103.6 633.6 1105.8 635.9 1108.0 638.1 1110.2 640.4 1112.4 642.6 1114.5 644.9 1116.7 647.1 1118.8 649.4 1121.0 651.6 1123.1 653.9 1125.2 656.1 1127.3 658.4 1129.3 661.4 1132.1 664.4 1134.8 667.4 1137.5 670.4 1140.2 673.4 1142.9 676.4 1145.6 679.4 1148.2 682.4 1150.8 685.4 1153.4 688.4 1156.0 691.4 1158.5 694.4 1161.0 697.4 1163.5 700.4 1166.0 703.4 1168.5 706.4 1170.9 709.4 1173.4 712.4 1175.8 715.4 1178.2 718.4 1180.5 721.4 1182.9 724.4 1185.2 727.4 1187.5 730.4 1189.8 733.4 1192.1 736.4 1194.3 739.4 1196.6 742.4 1198.8 745.4 1201.0 748.4 1203.2 751.4 1205.3 754.4 1207.5 757.4 1209.6 760.4 1211.7 763.4 1213.8 766.4 1215.8 769.4 1217.9 772.4 1219.9 775.4 1221.9 778.4 1223.9 781.4 1225.9 784.4 1227.9 787.5 1229.9 790.6 1231.9 793.4 1233.7 795.1 1234.8 800.0 1237.8 801.9 1238.9 804.2 1240.3 806.8 1241.8 809.6 1243.5 812.6 1245.3 815.7 1247.2 819.0 1249.1 825.6 1253.0 838.2 1260.1 850.9 1267.0 863.6 1273.6 876.4 1279.9 889.1 1285.9 901.8 1291.7 914.5 1297.2 927.3 1302.5 940.0 1307.5 952.7 1312.3 965.5 1316.9 978.2 1321.4 990.9 1325.6 1003.6 1329.6 1017.0 1333.7 1031.0 1337.7 1045.0 1341.6 1059.0 1345.3 1073.0 1348.9 1087.0 1352.3 1101.0 1355.6 1115.0 1358.8 1129.0 1361.9 1143.0 1364.9 1157.0 1367.8 1171.0 1370.6 1185.0 1373.4 1199.0 1376.1 1213.0 1378.7 1227.0 1381.3 1241.0 1383.8 1255.0 1386.2 1269.0 1388.6 1283.0 1390.9 1297.0 1393.1 1311.0 1395.3 1325.0 1397.4 1339.0 1399.5 1353.0 1401.5 1367.0 1403.4 1381.0 1405.3 1395.0 1407.2 1409.0 1408.9 1423.0 1410.7 1437.0 1412.4 1451.0 1414.0 1465.0 1415.6 1479.0 1417.2 1493.0 1418.7 1507.0 1420.1 1521.0 1421.6 1535.0 1423.0 1549.0 1424.3 1563.0 1425.6 1577.0 1426.9 1591.0 1428.1 1605.0 1429.4 1619.0 1430.5 1633.0 1431.7 1647.0 1432.8 1661.0 1433.9 1675.0 1435.0 1689.0 1436.0 1703.0 1437.1 1717.0 1438.1 1731.0 1439.1 1745.0 1440.0 1759.0 1441.0 1773.0 1441.9 1787.0 1442.8 1801.0 1443.7 1815.0 1444.6 1829.0 1445.5 1843.0 1446.4 1857.0 1447.3 1871.0 1448.1 1885.0 1449.0 1899.0 1449.8 1913.0 1450.7 1927.0 1451.6 1941.0 1452.4 1955.0 1453.3 1969.0 1454.1 1983.0 1455.0 1997.0 1455.9 2011.0 1456.7 2025.0 1457.6 2040.2 1458.6 2054.5 1459.5 2069.0 1460.5 2071.0 1460.6 2071.0 1469.4 2069.0 1469.3 2054.5 1468.3 2040.2 1467.4 2025.0 1466.4 2011.0 1465.5 1997.0 1464.7 1983.0 1463.8 1969.0 1462.9 1955.0 1462.1 1941.0 1461.2 1927.0 1460.4 1913.0 1459.5 1899.0 1458.6 1885.0 1457.8 1871.0 1456.9 1857.0 1456.1 1843.0 1455.2 1829.0 1454.3 1815.0 1453.4 1801.0 1452.5 1787.0 1451.6 1773.0 1450.7 1759.0 1449.8 1745.0 1448.8 1731.0 1447.9 1717.0 1446.9 1703.0 1445.9 1689.0 1444.8 1675.0 1443.8 1661.0 1442.7 1647.0 1441.6 1633.0 1440.5 1619.0 1439.3 1605.0 1438.2 1591.0 1436.9 1577.0 1435.7 1563.0 1434.4 1549.0 1433.1 1535.0 1431.8 1521.0 1430.4 1507.0 1428.9 1493.0 1427.5 1479.0 1426.0 1465.0 1424.4 1451.0 1422.8 1437.0 1421.2 1423.0 1419.5 1409.0 1417.7 1395.0 1416.0 1381.0 1414.1 1367.0 1412.2 1353.0 1410.3 1339.0 1408.3 1325.0 1406.2 1311.0 1404.1 1297.0 1401.9 1283.0 1399.7 1269.0 1397.4 1255.0 1395.0 1241.0 1392.6 1227.0 1390.1 1213.0 1387.5 1199.0 1384.9 1185.0 1382.2 1171.0 1379.4 1157.0 1376.6 1143.0 1373.7 1129.0 1370.7 1115.0 1367.6 1101.0 1364.4 1087.0 1361.1 1073.0 1357.7 1059.0 1354.1 1045.0 1350.4 1031.0 1346.5 1017.0 1342.5 1003.6 1338.4 990.9 1334.4 978.2 1330.2 965.5 1325.7 952.7 1321.1 940.0 1316.3 927.3 1311.3 914.5 1306.0 901.8 1300.5 889.1 1294.7 876.4 1288.7 863.6 1282.4 850.9 1275.8 838.2 1268.9 825.6 1261.8 819.0 1257.9 815.7 1256.0 812.6 1254.1 809.6 1252.3 806.8 1250.6 804.2 1249.1 801.9 1247.7 800.0 1246.6 795.1 1243.6 793.4 1242.5 790.6 1240.7 787.5 1238.7 784.4 1236.7 781.4 1234.7 778.4 1232.7 775.4 1230.7 772.4 1228.7 769.4 1226.7 766.4 1224.6 763.4 1222.6 760.4 1220.5 757.4 1218.4 754.4 1216.3 751.4 1214.1 748.4 1212.0 745.4 1209.8 742.4 1207.6 739.4 1205.4 736.4 1203.1 733.4 1200.9 730.4 1198.6 727.4 1196.3 724.4 1194.0 721.4 1191.7 718.4 1189.3 715.4 1187.0 712.4 1184.6 709.4 1182.2 706.4 1179.7 703.4 1177.3 700.4 1174.8 697.4 1172.3 694.4 1169.8 691.4 1167.3 688.4 1164.8 685.4 1162.2 682.4 1159.6 679.4 1157.0 676.4 1154.4 673.4 1151.7 670.4 1149.0 667.4 1146.3 664.4 1143.6 661.4 1140.9 658.4 1138.1 656.1 1136.1 653.9 1134.0 651.6 1131.9 649.4 1129.8 647.1 1127.6 644.9 1125.5 642.6 1123.3 640.4 1121.2 638.1 1119.0 635.9 1116.8 633.6 1114.6 631.4 1112.4 629.1 1110.2 626.9 1108.0 624.6 1105.7 622.4 1103.5 620.1 1101.2 617.9 1099.0 615.6 1096.7 613.4 1094.4 611.1 1092.1 608.9 1089.8 606.6 1087.5 604.4 1085.1 602.1 1082.8 599.9 1080.4 597.6 1078.1 595.4 1075.7 593.1 1073.3 590.9 1070.9 588.6 1068.6 586.4 1066.1 584.1 1063.7 581.9 1061.3 579.6 1058.9 577.4 1056.4 575.1 1054.0 572.9 1051.5 570.6 1049.1 568.4 1046.6 566.1 1044.1 563.9 1041.6 561.6 1039.1 559.4 1036.6 557.1 1034.1 554.9 1031.6 552.6 1029.1 550.4 1026.5 548.1 1024.0 545.9 1021.5 543.6 1018.9 541.4 1016.4 539.1 1013.9 536.9 1011.4 534.6 1008.8 532.4 1006.3 530.1 1003.8 527.9 1001.3 525.6 998.8 523.4 996.3 521.1 993.9 518.9 991.4 516.6 988.9 514.4 986.5 512.1 984.1 509.9 981.7 507.6 979.3 505.4 976.9 503.1 974.5 500.9 972.2 498.6 969.8 496.4 967.5 494.1 965.2 491.9 962.8 489.6 960.5 487.4 958.1 485.1 955.7 482.9 953.3 480.6 950.9 478.4 948.5 476.1 946.0 473.9 943.5 471.6 941.0 469.4 938.4 467.1 935.8 464.9 933.1 462.6 930.4 460.4 927.6 458.1 924.8 455.9 921.9 453.6 918.9 451.4 915.9 449.3 913.1 447.4 910.4 445.2 907.3 442.4 903.0 440.9 900.6 439.2 897.9 437.4 895.0 435.4 891.9 433.5 888.6 431.5 885.3 429.5 882.0 427.6 878.8 425.8 875.6 424.1 872.5 422.3 869.2 420.6 865.9 418.9 862.6 417.3 859.4 415.6 856.2 414.1 853.1 412.6 850.2 411.1 847.4 409.0 843.6 407.1 840.2 405.3 836.9 403.6 833.9 401.9 830.9 400.2 827.9 398.5 824.9 396.8 822.0 395.2 819.2 393.6 816.4 392.0 813.7 390.5 811.0 388.7 807.8 387.0 804.5 385.4 801.4 383.7 798.5 382.2 795.8 379.9 792.3 377.8 789.5 375.3 786.2 373.5 783.7 371.6 781.0 369.6 778.2 367.6 775.2 365.6 772.3 363.7 769.4 361.7 766.4 359.8 763.3 357.8 760.3 355.9 757.1 354.0 753.9 352.0 750.6 350.1 747.2 348.1 743.8 346.2 740.5 344.3 737.2 342.4 733.9 340.5 730.5 338.5 727.2 336.5 723.9 334.7 721.1 332.9 718.2 331.1 715.4 329.2 712.6 327.4 709.9 325.5 707.4 323.3 704.6 321.1 702.0 318.8 699.6 316.6 697.2 314.4 694.9 311.6 691.9 308.8 689.0 306.1 686.2 303.4 683.8 300.2 681.2 297.1 679.1 293.7 677.6 290.8 676.8 287.6 676.3 284.4 676.1 281.3 676.2 277.5 676.7 273.9 677.8 270.2 679.0 266.6 680.3 263.0 681.9 259.1 683.8 256.5 685.2 253.8 686.8 250.9 688.5 248.1 690.3 245.3 692.1 242.5 694.0 239.7 696.1 236.8 698.2 234.1 700.2 231.5 701.8 227.6 703.5 224.1 704.6 220.4 706.0 217.3 707.5 214.1 709.2 210.9 711.0 208.0 712.9 205.2 715.0 202.5 717.4 200.1 719.6 198.3 721.2 197.0 722.4Z"/>
<path fill="#8800ff" d="M192.6 718.0 193.9 716.8 195.7 715.2 198.1 713.0 200.8 710.6 203.6 708.5 206.5 706.6 209.7 704.8 212.9 703.1 216.0 701.6 219.7 700.2 223.2 699.1 227.1 697.4 229.7 695.8 232.4 693.8 235.3 691.7 238.1 689.6 240.9 687.7 243.7 685.9 246.5 684.1 249.4 682.4 252.1 680.8 254.7 679.4 258.6 677.5 262.2 675.9 265.8 674.6 269.5 673.4 273.1 672.3 276.9 671.8 280.0 671.7 288.8 671.7 285.7 671.8 281.9 672.3 278.3 673.4 274.6 674.6 271.0 675.9 267.4 677.5 263.5 679.4 260.9 680.8 258.2 682.4 255.3 684.1 252.5 685.9 249.7 687.7 246.9 689.6 244.1 691.7 241.2 693.8 238.5 695.8 235.9 697.4 232.0 699.1 228.5 700.2 224.8 701.6 221.7 703.1 218.5 704.8 215.3 706.6 212.4 708.5 209.6 710.6 206.9 713.0 204.5 715.2 202.7 716.8 201.4 718.0Z"/>
<path fill="#8800ff" d="M280.0 671.7 283.2 671.9 286.4 672.4 289.3 673.2 292.7 674.7 295.8 676.8 299.0 679.4 301.7 681.8 304.4 684.6 307.2 687.5 310.0 690.5 312.2 692.8 314.4 695.2 316.7 697.6 318.9 700.2 321.1 703.0 323.0 705.5 324.8 708.2 326.7 711.0 328.5 713.8 330.3 716.7 332.1 719.5 334.1 722.8 336.1 726.1 338.0 729.5 339.9 732.8 341.8 736.1 343.7 739.4 345.7 742.8 347.6 746.2 349.6 749.5 351.5 752.7 353.4 755.9 355.4 758.9 357.3 762.0 359.3 765.0 361.2 767.9 363.2 770.8 365.2 773.8 367.2 776.6 369.1 779.3 370.9 781.8 373.4 785.1 375.5 787.9 377.8 791.4 379.3 794.1 381.0 797.0 382.6 800.1 384.3 803.4 386.1 806.6 387.6 809.3 389.2 812.0 390.8 814.8 392.4 817.6 394.1 820.5 395.8 823.5 397.5 826.5 399.2 829.5 400.9 832.5 402.7 835.8 404.6 839.2 406.7 843.0 408.2 845.8 409.7 848.7 411.2 851.8 412.9 855.0 414.5 858.2 416.2 861.5 417.9 864.8 419.7 868.1 421.4 871.2 423.2 874.4 425.1 877.6 427.1 880.9 429.1 884.2 431.0 887.5 433.0 890.6 434.8 893.5 436.5 896.2 438.0 898.6 440.8 902.9 443.0 906.0 444.9 908.7 447.0 911.5 449.2 914.5 451.5 917.5 453.8 920.4 456.0 923.2 458.2 926.0 460.5 928.7 462.8 931.4 465.0 934.0 467.2 936.6 469.5 939.1 471.8 941.6 474.0 944.1 476.2 946.5 478.5 948.9 480.8 951.3 483.0 953.7 485.2 956.1 487.5 958.4 489.8 960.8 492.0 963.1 494.2 965.4 496.5 967.8 498.8 970.1 501.0 972.5 503.2 974.9 505.5 977.3 507.8 979.7 510.0 982.1 512.2 984.5 514.5 987.0 516.8 989.5 519.0 991.9 521.2 994.4 523.5 996.9 525.8 999.4 528.0 1001.9 530.2 1004.4 532.5 1007.0 534.8 1009.5 537.0 1012.0 539.2 1014.5 541.5 1017.1 543.8 1019.6 546.0 1022.1 548.2 1024.7 550.5 1027.2 552.8 1029.7 555.0 1032.2 557.2 1034.7 559.5 1037.2 561.8 1039.7 564.0 1042.2 566.2 1044.7 568.5 1047.1 570.8 1049.6 573.0 1052.0 575.2 1054.5 577.5 1056.9 579.8 1059.3 582.0 1061.7 584.2 1064.2 586.5 1066.5 588.8 1068.9 591.0 1071.3 593.2 1073.7 595.5 1076.0 597.8 1078.4 600.0 1080.7 602.2 1083.1 604.5 1085.4 606.8 1087.7 609.0 1090.0 611.2 1092.3 613.5 1094.6 615.8 1096.8 618.0 1099.1 620.2 1101.3 622.5 1103.6 624.8 1105.8 627.0 1108.0 629.2 1110.2 631.5 1112.4 633.8 1114.6 636.0 1116.8 638.2 1118.9 640.5 1121.1 642.8 1123.2 645.0 1125.4 647.2 1127.5 649.5 1129.6 651.8 1131.7 654.0 1133.7 657.0 1136.5 660.0 1139.2 663.0 1141.9 666.0 1144.6 669.0 1147.3 672.0 1150.0 675.0 1152.6 678.0 1155.2 681.0 1157.8 684.0 1160.4 687.0 1162.9 690.0 1165.4 693.0 1167.9 696.0 1170.4 699.0 1172.9 702.0 1175.3 705.0 1177.8 708.0 1180.2 711.0 1182.6 714.0 1184.9 717.0 1187.3 720.0 1189.6 723.0 1191.9 726.0 1194.2 729.0 1196.5 732.0 1198.7 735.0 1201.0 738.0 1203.2 741.0 1205.4 744.0 1207.6 747.0 1209.7 750.0 1211.9 753.0 1214.0 756.0 1216.1 759.0 1218.2 762.0 1220.2 765.0 1222.3 768.0 1224.3 771.0 1226.3 774.0 1228.3 777.0 1230.3 780.0 1232.3 783.1 1234.3 786.2 1236.3 789.0 1238.1 790.7 1239.2 795.6 1242.2 797.5 1243.3 799.8 1244.7 802.4 1246.2 805.2 1247.9 808.2 1249.7 811.3 1251.6 814.6 1253.5 821.2 1257.4 833.8 1264.5 846.5 1271.4 859.2 1278.0 872.0 1284.3 884.7 1290.3 897.4 1296.1 910.1 1301.6 922.9 1306.9 935.6 1311.9 948.3 1316.7 961.1 1321.3 973.8 1325.8 986.5 1330.0 999.2 1334.0 1012.6 1338.1 1026.6 1342.1 1040.6 1346.0 1054.6 1349.7 1068.6 1353.3 1082.6 1356.7 1096.6 1360.0 1110.6 1363.2 1124.6 1366.3 1138.6 1369.3 1152.6 1372.2 1166.6 1375.0 1180.6 1377.8 1194.6 1380.5 1208.6 1383.1 1222.6 1385.7 1236.6 1388.2 1250.6 1390.6 1264.6 1393.0 1278.6 1395.3 1292.6 1397.5 1306.6 1399.7 1320.6 1401.8 1334.6 1403.9 1348.6 1405.9 1362.6 1407.8 1376.6 1409.7 1390.6 1411.6 1404.6 1413.3 1418.6 1415.1 1432.6 1416.8 1446.6 1418.4 1460.6 1420.0 1474.6 1421.6 1488.6 1423.1 1502.6 1424.5 1516.6 1426.0 1530.6 1427.4 1544.6 1428.7 1558.6 1430.0 1572.6 1431.3 1586.6 1432.5 1600.6 1433.8 1614.6 1434.9 1628.6 1436.1 1642.6 1437.2 1656.6 1438.3 1670.6 1439.4 1684.6 1440.4 1698.6 1441.5 1712.6 1442.5 1726.6 1443.5 1740.6 1444.4 1754.6 1445.4 1768.6 1446.3 1782.6 1447.2 1796.6 1448.1 1810.6 1449.0 1824.6 1449.9 1838.6 1450.8 1852.6 1451.7 1866.6 1452.5 1880.6 1453.4 1894.6 1454.2 1908.6 1455.1 1922.6 1456.0 1936.6 1456.8 1950.6 1457.7 1964.6 1458.5 1978.6 1459.4 1992.6 1460.3 2006.6 1461.1 2020.6 1462.0 2035.8 1463.0 2050.1 1463.9 2064.6 1464.9 2066.6 1465.0 2075.4 1465.0 2073.4 1464.9 2058.9 1463.9 2044.6 1463.0 2029.4 1462.0 2015.4 1461.1 2001.4 1460.3 1987.4 1459.4 1973.4 1458.5 1959.4 1457.7 1945.4 1456.8 1931.4 1456.0 1917.4 1455.1 1903.4 1454.2 1889.4 1453.4 1875.4 1452.5 1861.4 1451.7 1847.4 1450.8 1833.4 1449.9 1819.4 1449.0 1805.4 1448.1 1791.4 1447.2 1777.4 1446.3 1763.4 1445.4 1749.4 1444.4 1735.4 1443.5 1721.4 1442.5 1707.4 1441.5 1693.4 1440.4 1679.4 1439.4 1665.4 1438.3 1651.4 1437.2 1637.4 1436.1 1623.4 1434.9 1609.4 1433.8 1595.4 1432.5 1581.4 1431.3 1567.4 1430.0 1553.4 1428.7 1539.4 1427.4 1525.4 1426.0 1511.4 1424.5 1497.4 1423.1 1483.4 1421.6 1469.4 1420.0 1455.4 1418.4 1441.4 1416.8 1427.4 1415.1 1413.4 1413.3 1399.4 1411.6 1385.4 1409.7 1371.4 1407.8 1357.4 1405.9 1343.4 1403.9 1329.4 1401.8 1315.4 1399.7 1301.4 1397.5 1287.4 1395.3 1273.4 1393.0 1259.4 1390.6 1245.4 1388.2 1231.4 1385.7 1217.4 1383.1 1203.4 1380.5 1189.4 1377.8 1175.4 1375.0 1161.4 1372.2 1147.4 1369.3 1133.4 1366.3 1119.4 1363.2 1105.4 1360.0 1091.4 1356.7 1077.4 1353.3 1063.4 1349.7 1049.4 1346.0 1035.4 1342.1 1021.4 1338.1 1008.0 1334.0 995.3 1330.0 982.6 1325.8 969.9 1321.3 957.1 1316.7 944.4 1311.9 931.7 1306.9 918.9 1301.6 906.2 1296.1 893.5 1290.3 880.8 1284.3 868.0 1278.0 855.3 1271.4 842.6 1264.5 830.0 1257.4 823.4 1253.5 820.1 1251.6 817.0 1249.7 814.0 1247.9 811.2 1246.2 808.6 1244.7 806.3 1243.3 804.4 1242.2 799.5 1239.2 797.8 1238.1 795.0 1236.3 791.9 1234.3 788.8 1232.3 785.8 1230.3 782.8 1228.3 779.8 1226.3 776.8 1224.3 773.8 1222.3 770.8 1220.2 767.8 1218.2 764.8 1216.1 761.8 1214.0 758.8 1211.9 755.8 1209.7 752.8 1207.6 749.8 1205.4 746.8 1203.2 743.8 1201.0 740.8 1198.7 737.8 1196.5 734.8 1194.2 731.8 1191.9 728.8 1189.6 725.8 1187.3 722.8 1184.9 719.8 1182.6 716.8 1180.2 713.8 1177.8 710.8 1175.3 707.8 1172.9 704.8 1170.4 701.8 1167.9 698.8 1165.4 695.8 1162.9 692.8 1160.4 689.8 1157.8 686.8 1155.2 683.8 1152.6 680.8 1150.0 677.8 1147.3 674.8 1144.6 671.8 1141.9 668.8 1139.2 665.8 1136.5 662.8 1133.7 660.5 1131.7 658.3 1129.6 656.0 1127.5 653.8 1125.4 651.5 1123.2 649.3 1121.1 647.0 1118.9 644.8 1116.8 642.5 1114.6 640.3 1112.4 638.0 1110.2 635.8 1108.0 633.5 1105.8 631.3 1103.6 629.0 1101.3 626.8 1099.1 624.5 1096.8 622.3 1094.6 620.0 1092.3 617.8 1090.0 615.5 1087.7 613.3 1085.4 611.0 1083.1 608.8 1080.7 606.5 1078.4 604.3 1076.0 602.0 1073.7 599.8 1071.3 597.5 1068.9 595.3 1066.5 593.0 1064.2 590.8 1061.7 588.5 1059.3 586.3 1056.9 584.0 1054.5 581.8 1052.0 579.5 1049.6 577.3 1047.1 575.0 1044.7 572.8 1042.2 570.5 1039.7 568.3 1037.2 566.0 1034.7 563.8 1032.2 561.5 1029.7 559.3 1027.2 557.0 1024.7 554.8 1022.1 552.5 1019.6 550.3 1017.1 548.0 1014.5 545.8 1012.0 543.5 1009.5 541.3 1007.0 539.0 1004.4 536.8 1001.9 534.5 999.4 532.3 996.9 530.0 994.4 527.8 991.9 525.5 989.5 523.3 987.0 521.0 984.5 518.8 982.1 516.5 979.7 514.3 977.3 512.0 974.9 509.8 972.5 507.5 970.1 505.3 967.8 503.0 965.4 500.8 963.1 498.5 960.8 496.3 958.4 494.0 956.1 491.8 953.7 489.5 951.3 487.3 948.9 485.0 946.5 482.8 944.1 480.5 941.6 478.3 939.1 476.0 936.6 473.8 934.0 471.5 931.4 469.3 928.7 467.0 926.0 464.8 923.2 462.5 920.4 460.3 917.5 458.0 914.5 455.8 911.5 453.7 908.7 451.8 906.0 449.6 902.9 446.8 898.6 445.3 896.2 443.6 893.5 441.8 890.6 439.8 887.5 437.9 884.2 435.9 880.9 433.9 877.6 432.0 874.4 430.2 871.2 428.5 868.1 426.7 864.8 425.0 861.5 423.3 858.2 421.7 855.0 420.0 851.8 418.5 848.7 417.0 845.8 415.5 843.0 413.4 839.2 411.5 835.8 409.7 832.5 408.0 829.5 406.3 826.5 404.6 823.5 402.9 820.5 401.2 817.6 399.6 814.8 398.0 812.0 396.4 809.3 394.9 806.6 393.1 803.4 391.4 800.1 389.8 797.0 388.1 794.1 386.6 791.4 384.3 787.9 382.2 785.1 379.7 781.8 377.9 779.3 376.0 776.6 374.0 773.8 372.0 770.8 370.0 767.9 368.1 765.0 366.1 762.0 364.2 758.9 362.2 755.9 360.3 752.7 358.4 749.5 356.4 746.2 354.5 742.8 352.5 739.4 350.6 736.1 348.7 732.8 346.8 729.5 344.9 726.1 342.9 722.8 340.9 719.5 339.1 716.7 337.3 713.8 335.5 711.0 333.6 708.2 331.8 705.5 329.9 703.0 327.7 700.2 325.5 697.6 323.2 695.2 321.0 692.8 318.8 690.5 316.0 687.5 313.2 684.6 310.5 681.8 307.8 679.4 304.6 676.8 301.5 674.7 298.1 673.2 295.2 672.4 292.0 671.9 288.8 671.7Z"/>
</g>
<g stroke="#000" fill="none">
<line x1="293" y1="139.5" x2="293" y2="1517" stroke-width="8.5" stroke-dasharray="8.5 10"/>
<line x1="514" y1="833.7" x2="514" y2="1517" stroke-width="8.5" stroke-dasharray="8.5 9.9"/>
<line x1="290" y1="124" x2="621" y2="124" stroke-width="4"/>
<line x1="515" y1="818.6" x2="845" y2="818.6" stroke-width="5.5"/>
</g>
<circle cx="290.5" cy="124.5" r="10.3" fill="#000"/>
<circle cx="515.3" cy="818.6" r="9.5" fill="#000"/>
<polyline fill="none" stroke="#0000aa" stroke-width="3.5" points="337.6,307.8 441.0,273.0"/>
<line stroke="#0000aa" stroke-width="6" x1="440.0" y1="273.0" x2="654.0" y2="273.0"/>
<circle cx="337.6" cy="307.8" r="10" fill="#0000aa"/>
<text x="454.0" y="253.0" font-size="75" textLength="188" lengthAdjust="spacingAndGlyphs">MC#3</text>
<polyline fill="none" stroke="#008000" stroke-width="3.5" points="337.6,393.0 446.0,356.3"/>
<line stroke="#008000" stroke-width="6" x1="445.0" y1="356.3" x2="654.0" y2="356.3"/>
<circle cx="337.6" cy="393.0" r="10" fill="#008000"/>
<text x="450.0" y="337.0" font-size="75" textLength="188" lengthAdjust="spacingAndGlyphs">MC#4</text>
<polyline fill="none" stroke="#ff0000" stroke-width="3.5" points="333.0,487.6 443.0,453.0"/>
<line stroke="#ff0000" stroke-width="6" x1="442.0" y1="453.0" x2="654.0" y2="453.0"/>
<circle cx="333.0" cy="487.6" r="10" fill="#ff0000"/>
<text x="452.0" y="431.6" font-size="75" textLength="188" lengthAdjust="spacingAndGlyphs">MC#2</text>
<polyline fill="none" stroke="#008080" stroke-width="3.5" points="312.6,569.0 447.0,530.0"/>
<line stroke="#008080" stroke-width="6" x1="446.0" y1="530.0" x2="654.0" y2="530.0"/>
<circle cx="312.6" cy="569.0" r="10" fill="#008080"/>
<text x="451.0" y="511.3" font-size="75" textLength="188" lengthAdjust="spacingAndGlyphs">MC#1</text>
<polyline fill="none" stroke="#ff8000" stroke-width="3.5" points="363.0,679.0 447.0,615.7"/>
<line stroke="#ff8000" stroke-width="6" x1="446.0" y1="615.7" x2="654.0" y2="615.7"/>
<circle cx="363.0" cy="679.0" r="10" fill="#ff8000"/>
<text x="456.0" y="594.7" font-size="75" textLength="188" lengthAdjust="spacingAndGlyphs">MC#5</text>
<polyline fill="none" stroke="#8800ff" stroke-width="3.5" points="381.5,792.4 447.0,706.5"/>
<line stroke="#8800ff" stroke-width="6" x1="446.0" y1="706.5" x2="654.0" y2="706.5"/>
<circle cx="381.5" cy="792.4" r="10" fill="#8800ff"/>
<text x="454.0" y="687.9" font-size="75" textLength="188" lengthAdjust="spacingAndGlyphs">MC#6</text>
<line x1="548" y1="1110" x2="983.8" y2="1110" stroke="#000" stroke-width="6.3"/>
<polygon points="516,1109.5 554,1098 554,1121" fill="#000"/>
<line x1="1015" y1="1109.5" x2="2015" y2="1109.5" stroke="#000" stroke-width="10" stroke-linecap="round" stroke-dasharray="6.5 48.5"/>
<text x="303.7" y="107.6" font-size="62" textLength="312" lengthAdjust="spacingAndGlyphs">π−π<tspan font-size="58" dy="6">*</tspan><tspan font-size="68" dy="-7"> (C=C)</tspan></text>
<text x="356" y="179" font-size="58" textLength="175" lengthAdjust="spacingAndGlyphs">230 nm</text>
<text x="529.6" y="800.4" font-size="62" textLength="313.5" lengthAdjust="spacingAndGlyphs">n−π<tspan font-size="58" dy="6">*</tspan><tspan font-size="66" dy="-6"> (C=O)</tspan></text>
<text x="580" y="873.8" font-size="58" textLength="175" lengthAdjust="spacingAndGlyphs">300 nm</text>
<text x="788.5" y="1082.5" font-size="62" textLength="946.5" lengthAdjust="spacingAndGlyphs">Interband transitions in sp<tspan font-size="36" dy="-38">2</tspan><tspan dy="38"> domains</tspan></text>
<text x="196.2" y="1609" font-size="78" text-anchor="middle">200</text>
<text x="508.6" y="1609" font-size="78" text-anchor="middle">300</text>
<text x="820.9" y="1609" font-size="78" text-anchor="middle">400</text>
<text x="1133.2" y="1609" font-size="78" text-anchor="middle">500</text>
<text x="1445.5" y="1609" font-size="78" text-anchor="middle">600</text>
<text x="1757.8" y="1609" font-size="78" text-anchor="middle">700</text>
<text x="2070.1" y="1609" font-size="78" text-anchor="middle">800</text>
<text x="798.7" y="1720" font-size="96" textLength="671" lengthAdjust="spacingAndGlyphs">Wavelength (nm)</text>
<text transform="translate(114,1396) rotate(-90)" font-size="95" textLength="1098" lengthAdjust="spacingAndGlyphs">Optical Density (Arb. Units)</text>
<path fill="#ff0000" d="M1164.4 721.0 1328.9 405.0 1493.4 263.6 1657.9 240.2 1822.4 145.7 1986.9 134.0 1986.9 142.0 1822.4 153.7 1657.9 248.2 1493.4 271.6 1328.9 413.0 1164.4 729.0Z"/>
<path fill="#ff0000" d="M1160.0 725.0 1324.5 409.0 1489.0 267.6 1653.5 244.2 1818.0 149.7 1982.5 138.0 1991.3 138.0 1826.8 149.7 1662.3 244.2 1497.8 267.6 1333.3 409.0 1168.8 725.0Z"/>
<rect x="1152.6" y="713.2" width="23.6" height="23.6" fill="#ff0000"/>
<path fill="none" stroke="#ff0000" stroke-width="4.5" d="M1328.9 393.5V424.5M1319.9 393.5H1337.9M1319.9 424.5H1337.9"/>
<rect x="1317.1" y="397.2" width="23.6" height="23.6" fill="#ff0000"/>
<path fill="none" stroke="#ff0000" stroke-width="4.5" d="M1493.4 245.6V289.6M1484.4 245.6H1502.4M1484.4 289.6H1502.4"/>
<rect x="1481.6" y="255.8" width="23.6" height="23.6" fill="#ff0000"/>
<path fill="none" stroke="#ff0000" stroke-width="4.5" d="M1657.9 220.2V268.2M1648.9 220.2H1666.9M1648.9 268.2H1666.9"/>
<rect x="1646.1" y="232.4" width="23.6" height="23.6" fill="#ff0000"/>
<path fill="none" stroke="#ff0000" stroke-width="4.5" d="M1822.4 120.7V178.7M1813.4 120.7H1831.4M1813.4 178.7H1831.4"/>
<rect x="1810.6" y="137.9" width="23.6" height="23.6" fill="#ff0000"/>
<path fill="none" stroke="#ff0000" stroke-width="4.5" d="M1986.9 108.7V167.3M1977.9 108.7H1995.9M1977.9 167.3H1995.9"/>
<rect x="1975.1" y="126.2" width="23.6" height="23.6" fill="#ff0000"/>
<text x="1066.5" y="742.5" font-size="58" text-anchor="end">0</text>
<text x="1066.5" y="619.7" font-size="58" text-anchor="end">100</text>
<text x="1066.5" y="496.8" font-size="58" text-anchor="end">200</text>
<text x="1066.5" y="374.0" font-size="58" text-anchor="end">300</text>
<text x="1066.5" y="251.1" font-size="58" text-anchor="end">400</text>
<text x="1066.5" y="128.3" font-size="58" text-anchor="end">500</text>
<text x="1164.4" y="846" font-size="58" text-anchor="middle">1</text>
<text x="1328.9" y="846" font-size="58" text-anchor="middle">2</text>
<text x="1493.4" y="846" font-size="58" text-anchor="middle">3</text>
<text x="1657.9" y="846" font-size="58" text-anchor="middle">4</text>
<text x="1822.4" y="846" font-size="58" text-anchor="middle">5</text>
<text x="1986.9" y="846" font-size="58" text-anchor="middle">6</text>
<text x="1474" y="927" font-size="68" textLength="204" lengthAdjust="spacingAndGlyphs">Sample</text>
<text transform="translate(933.3,648) rotate(-90)" font-size="72" textLength="516" lengthAdjust="spacingAndGlyphs">O. D. Change (%)</text>
<text x="1183.7" y="737.5" font-size="52" textLength="132.5" lengthAdjust="spacingAndGlyphs">MC#1</text>
<text x="1216.4" y="366.0" font-size="52" textLength="132.5" lengthAdjust="spacingAndGlyphs">MC#2</text>
<text x="1422.7" y="223.0" font-size="52" textLength="132.5" lengthAdjust="spacingAndGlyphs">MC#3</text>
<text x="1599.0" y="320.3" font-size="52" textLength="132.5" lengthAdjust="spacingAndGlyphs">MC#4</text>
<text x="1758.8" y="105.0" font-size="52" textLength="132.5" lengthAdjust="spacingAndGlyphs">MC#5</text>
<text x="1922.5" y="217.0" font-size="52" textLength="132.5" lengthAdjust="spacingAndGlyphs">MC#6</text>
</svg></body></html>
